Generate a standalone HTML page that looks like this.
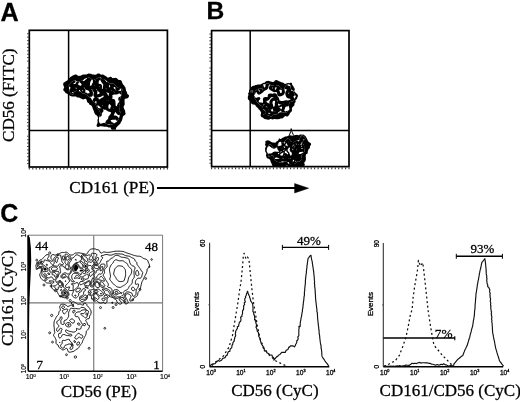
<!DOCTYPE html>
<html><head><meta charset="utf-8"><style>
html,body{margin:0;padding:0;background:#fff;}
svg{display:block;}
text{stroke:#000;stroke-width:0.28px;}
</style></head><body>
<svg width="520" height="402" viewBox="0 0 520 402">
<rect width="520" height="402" fill="#fff"/>
<text x="0.4" y="20.5" style="font-family:'Liberation Sans',Arial,sans-serif;font-size:25.2px;font-weight:bold">A</text>
<text x="206.4" y="19.3" style="font-family:'Liberation Sans',Arial,sans-serif;font-size:24.6px;font-weight:bold">B</text>
<text x="0.2" y="221.9" style="font-family:'Liberation Sans',Arial,sans-serif;font-size:25.0px;font-weight:bold">C</text>
<line x1="28.5" y1="163.6" x2="27.1" y2="163.6" stroke="#333" stroke-width="1.0"/>
<line x1="28.5" y1="160.2" x2="27.1" y2="160.2" stroke="#333" stroke-width="1.0"/>
<line x1="28.5" y1="156.7" x2="27.1" y2="156.7" stroke="#333" stroke-width="1.0"/>
<line x1="28.5" y1="153.3" x2="27.1" y2="153.3" stroke="#333" stroke-width="1.0"/>
<line x1="28.5" y1="149.9" x2="27.1" y2="149.9" stroke="#333" stroke-width="1.0"/>
<line x1="28.5" y1="146.5" x2="27.1" y2="146.5" stroke="#333" stroke-width="1.0"/>
<line x1="28.5" y1="143.1" x2="27.1" y2="143.1" stroke="#333" stroke-width="1.0"/>
<line x1="28.5" y1="139.7" x2="27.1" y2="139.7" stroke="#333" stroke-width="1.0"/>
<line x1="28.5" y1="136.2" x2="27.1" y2="136.2" stroke="#333" stroke-width="1.0"/>
<line x1="28.5" y1="129.4" x2="27.1" y2="129.4" stroke="#333" stroke-width="1.0"/>
<line x1="28.5" y1="126.0" x2="27.1" y2="126.0" stroke="#333" stroke-width="1.0"/>
<line x1="28.5" y1="122.6" x2="27.1" y2="122.6" stroke="#333" stroke-width="1.0"/>
<line x1="28.5" y1="119.2" x2="27.1" y2="119.2" stroke="#333" stroke-width="1.0"/>
<line x1="28.5" y1="115.7" x2="27.1" y2="115.7" stroke="#333" stroke-width="1.0"/>
<line x1="28.5" y1="112.3" x2="27.1" y2="112.3" stroke="#333" stroke-width="1.0"/>
<line x1="28.5" y1="108.9" x2="27.1" y2="108.9" stroke="#333" stroke-width="1.0"/>
<line x1="28.5" y1="105.5" x2="27.1" y2="105.5" stroke="#333" stroke-width="1.0"/>
<line x1="28.5" y1="102.1" x2="27.1" y2="102.1" stroke="#333" stroke-width="1.0"/>
<line x1="28.5" y1="95.2" x2="27.1" y2="95.2" stroke="#333" stroke-width="1.0"/>
<line x1="28.5" y1="91.8" x2="27.1" y2="91.8" stroke="#333" stroke-width="1.0"/>
<line x1="28.5" y1="88.4" x2="27.1" y2="88.4" stroke="#333" stroke-width="1.0"/>
<line x1="28.5" y1="85.0" x2="27.1" y2="85.0" stroke="#333" stroke-width="1.0"/>
<line x1="28.5" y1="81.6" x2="27.1" y2="81.6" stroke="#333" stroke-width="1.0"/>
<line x1="28.5" y1="78.1" x2="27.1" y2="78.1" stroke="#333" stroke-width="1.0"/>
<line x1="28.5" y1="74.7" x2="27.1" y2="74.7" stroke="#333" stroke-width="1.0"/>
<line x1="28.5" y1="71.3" x2="27.1" y2="71.3" stroke="#333" stroke-width="1.0"/>
<line x1="28.5" y1="67.9" x2="27.1" y2="67.9" stroke="#333" stroke-width="1.0"/>
<line x1="28.5" y1="61.1" x2="27.1" y2="61.1" stroke="#333" stroke-width="1.0"/>
<line x1="28.5" y1="57.6" x2="27.1" y2="57.6" stroke="#333" stroke-width="1.0"/>
<line x1="28.5" y1="54.2" x2="27.1" y2="54.2" stroke="#333" stroke-width="1.0"/>
<line x1="28.5" y1="50.8" x2="27.1" y2="50.8" stroke="#333" stroke-width="1.0"/>
<line x1="28.5" y1="47.4" x2="27.1" y2="47.4" stroke="#333" stroke-width="1.0"/>
<line x1="28.5" y1="44.0" x2="27.1" y2="44.0" stroke="#333" stroke-width="1.0"/>
<line x1="28.5" y1="40.6" x2="27.1" y2="40.6" stroke="#333" stroke-width="1.0"/>
<line x1="28.5" y1="37.1" x2="27.1" y2="37.1" stroke="#333" stroke-width="1.0"/>
<line x1="28.5" y1="33.7" x2="27.1" y2="33.7" stroke="#333" stroke-width="1.0"/>
<line x1="29.3" y1="167.8" x2="29.3" y2="169.6" stroke="#333" stroke-width="1.1"/>
<line x1="32.8" y1="167.8" x2="32.8" y2="169.6" stroke="#333" stroke-width="1.1"/>
<line x1="36.2" y1="167.8" x2="36.2" y2="169.6" stroke="#333" stroke-width="1.1"/>
<line x1="39.7" y1="167.8" x2="39.7" y2="169.6" stroke="#333" stroke-width="1.1"/>
<line x1="43.1" y1="167.8" x2="43.1" y2="169.6" stroke="#333" stroke-width="1.1"/>
<line x1="46.6" y1="167.8" x2="46.6" y2="169.6" stroke="#333" stroke-width="1.1"/>
<line x1="50.0" y1="167.8" x2="50.0" y2="169.6" stroke="#333" stroke-width="1.1"/>
<line x1="53.5" y1="167.8" x2="53.5" y2="169.6" stroke="#333" stroke-width="1.1"/>
<line x1="56.9" y1="167.8" x2="56.9" y2="169.6" stroke="#333" stroke-width="1.1"/>
<line x1="60.4" y1="167.8" x2="60.4" y2="169.6" stroke="#333" stroke-width="1.1"/>
<line x1="63.8" y1="167.8" x2="63.8" y2="169.6" stroke="#333" stroke-width="1.1"/>
<line x1="67.3" y1="167.8" x2="67.3" y2="169.6" stroke="#333" stroke-width="1.1"/>
<line x1="70.7" y1="167.8" x2="70.7" y2="169.6" stroke="#333" stroke-width="1.1"/>
<line x1="74.2" y1="167.8" x2="74.2" y2="169.6" stroke="#333" stroke-width="1.1"/>
<line x1="77.6" y1="167.8" x2="77.6" y2="169.6" stroke="#333" stroke-width="1.1"/>
<line x1="81.1" y1="167.8" x2="81.1" y2="169.6" stroke="#333" stroke-width="1.1"/>
<line x1="84.5" y1="167.8" x2="84.5" y2="169.6" stroke="#333" stroke-width="1.1"/>
<line x1="88.0" y1="167.8" x2="88.0" y2="169.6" stroke="#333" stroke-width="1.1"/>
<line x1="91.4" y1="167.8" x2="91.4" y2="169.6" stroke="#333" stroke-width="1.1"/>
<line x1="94.9" y1="167.8" x2="94.9" y2="169.6" stroke="#333" stroke-width="1.1"/>
<line x1="98.3" y1="167.8" x2="98.3" y2="169.6" stroke="#333" stroke-width="1.1"/>
<line x1="101.8" y1="167.8" x2="101.8" y2="169.6" stroke="#333" stroke-width="1.1"/>
<line x1="105.3" y1="167.8" x2="105.3" y2="169.6" stroke="#333" stroke-width="1.1"/>
<line x1="108.7" y1="167.8" x2="108.7" y2="169.6" stroke="#333" stroke-width="1.1"/>
<line x1="112.2" y1="167.8" x2="112.2" y2="169.6" stroke="#333" stroke-width="1.1"/>
<line x1="115.6" y1="167.8" x2="115.6" y2="169.6" stroke="#333" stroke-width="1.1"/>
<line x1="119.1" y1="167.8" x2="119.1" y2="169.6" stroke="#333" stroke-width="1.1"/>
<line x1="122.5" y1="167.8" x2="122.5" y2="169.6" stroke="#333" stroke-width="1.1"/>
<line x1="126.0" y1="167.8" x2="126.0" y2="169.6" stroke="#333" stroke-width="1.1"/>
<line x1="129.4" y1="167.8" x2="129.4" y2="169.6" stroke="#333" stroke-width="1.1"/>
<line x1="132.9" y1="167.8" x2="132.9" y2="169.6" stroke="#333" stroke-width="1.1"/>
<line x1="136.3" y1="167.8" x2="136.3" y2="169.6" stroke="#333" stroke-width="1.1"/>
<line x1="139.8" y1="167.8" x2="139.8" y2="169.6" stroke="#333" stroke-width="1.1"/>
<line x1="143.2" y1="167.8" x2="143.2" y2="169.6" stroke="#333" stroke-width="1.1"/>
<line x1="146.7" y1="167.8" x2="146.7" y2="169.6" stroke="#333" stroke-width="1.1"/>
<line x1="150.1" y1="167.8" x2="150.1" y2="169.6" stroke="#333" stroke-width="1.1"/>
<line x1="153.6" y1="167.8" x2="153.6" y2="169.6" stroke="#333" stroke-width="1.1"/>
<line x1="157.0" y1="167.8" x2="157.0" y2="169.6" stroke="#333" stroke-width="1.1"/>
<line x1="160.5" y1="167.8" x2="160.5" y2="169.6" stroke="#333" stroke-width="1.1"/>
<line x1="163.9" y1="167.8" x2="163.9" y2="169.6" stroke="#333" stroke-width="1.1"/>
<line x1="167.4" y1="167.8" x2="167.4" y2="169.6" stroke="#333" stroke-width="1.1"/>
<rect x="29.3" y="30.3" width="138.1" height="136.7" fill="none" stroke="#000" stroke-width="1.7"/>
<line x1="68.6" y1="30.3" x2="68.6" y2="167.0" stroke="#000" stroke-width="1.5"/>
<line x1="29.3" y1="130.6" x2="167.4" y2="130.6" stroke="#000" stroke-width="1.5"/>
<line x1="210.79999999999998" y1="163.2" x2="209.4" y2="163.2" stroke="#333" stroke-width="1.0"/>
<line x1="210.79999999999998" y1="159.8" x2="209.4" y2="159.8" stroke="#333" stroke-width="1.0"/>
<line x1="210.79999999999998" y1="156.4" x2="209.4" y2="156.4" stroke="#333" stroke-width="1.0"/>
<line x1="210.79999999999998" y1="153.0" x2="209.4" y2="153.0" stroke="#333" stroke-width="1.0"/>
<line x1="210.79999999999998" y1="149.6" x2="209.4" y2="149.6" stroke="#333" stroke-width="1.0"/>
<line x1="210.79999999999998" y1="146.2" x2="209.4" y2="146.2" stroke="#333" stroke-width="1.0"/>
<line x1="210.79999999999998" y1="142.8" x2="209.4" y2="142.8" stroke="#333" stroke-width="1.0"/>
<line x1="210.79999999999998" y1="139.4" x2="209.4" y2="139.4" stroke="#333" stroke-width="1.0"/>
<line x1="210.79999999999998" y1="136.0" x2="209.4" y2="136.0" stroke="#333" stroke-width="1.0"/>
<line x1="210.79999999999998" y1="129.2" x2="209.4" y2="129.2" stroke="#333" stroke-width="1.0"/>
<line x1="210.79999999999998" y1="125.8" x2="209.4" y2="125.8" stroke="#333" stroke-width="1.0"/>
<line x1="210.79999999999998" y1="122.4" x2="209.4" y2="122.4" stroke="#333" stroke-width="1.0"/>
<line x1="210.79999999999998" y1="119.0" x2="209.4" y2="119.0" stroke="#333" stroke-width="1.0"/>
<line x1="210.79999999999998" y1="115.6" x2="209.4" y2="115.6" stroke="#333" stroke-width="1.0"/>
<line x1="210.79999999999998" y1="112.2" x2="209.4" y2="112.2" stroke="#333" stroke-width="1.0"/>
<line x1="210.79999999999998" y1="108.8" x2="209.4" y2="108.8" stroke="#333" stroke-width="1.0"/>
<line x1="210.79999999999998" y1="105.4" x2="209.4" y2="105.4" stroke="#333" stroke-width="1.0"/>
<line x1="210.79999999999998" y1="102.0" x2="209.4" y2="102.0" stroke="#333" stroke-width="1.0"/>
<line x1="210.79999999999998" y1="95.2" x2="209.4" y2="95.2" stroke="#333" stroke-width="1.0"/>
<line x1="210.79999999999998" y1="91.8" x2="209.4" y2="91.8" stroke="#333" stroke-width="1.0"/>
<line x1="210.79999999999998" y1="88.4" x2="209.4" y2="88.4" stroke="#333" stroke-width="1.0"/>
<line x1="210.79999999999998" y1="85.0" x2="209.4" y2="85.0" stroke="#333" stroke-width="1.0"/>
<line x1="210.79999999999998" y1="81.6" x2="209.4" y2="81.6" stroke="#333" stroke-width="1.0"/>
<line x1="210.79999999999998" y1="78.2" x2="209.4" y2="78.2" stroke="#333" stroke-width="1.0"/>
<line x1="210.79999999999998" y1="74.8" x2="209.4" y2="74.8" stroke="#333" stroke-width="1.0"/>
<line x1="210.79999999999998" y1="71.4" x2="209.4" y2="71.4" stroke="#333" stroke-width="1.0"/>
<line x1="210.79999999999998" y1="68.0" x2="209.4" y2="68.0" stroke="#333" stroke-width="1.0"/>
<line x1="210.79999999999998" y1="61.2" x2="209.4" y2="61.2" stroke="#333" stroke-width="1.0"/>
<line x1="210.79999999999998" y1="57.8" x2="209.4" y2="57.8" stroke="#333" stroke-width="1.0"/>
<line x1="210.79999999999998" y1="54.4" x2="209.4" y2="54.4" stroke="#333" stroke-width="1.0"/>
<line x1="210.79999999999998" y1="51.0" x2="209.4" y2="51.0" stroke="#333" stroke-width="1.0"/>
<line x1="210.79999999999998" y1="47.6" x2="209.4" y2="47.6" stroke="#333" stroke-width="1.0"/>
<line x1="210.79999999999998" y1="44.2" x2="209.4" y2="44.2" stroke="#333" stroke-width="1.0"/>
<line x1="210.79999999999998" y1="40.8" x2="209.4" y2="40.8" stroke="#333" stroke-width="1.0"/>
<line x1="210.79999999999998" y1="37.4" x2="209.4" y2="37.4" stroke="#333" stroke-width="1.0"/>
<line x1="210.79999999999998" y1="34.0" x2="209.4" y2="34.0" stroke="#333" stroke-width="1.0"/>
<line x1="211.6" y1="167.4" x2="211.6" y2="169.2" stroke="#333" stroke-width="1.1"/>
<line x1="215.0" y1="167.4" x2="215.0" y2="169.2" stroke="#333" stroke-width="1.1"/>
<line x1="218.5" y1="167.4" x2="218.5" y2="169.2" stroke="#333" stroke-width="1.1"/>
<line x1="221.9" y1="167.4" x2="221.9" y2="169.2" stroke="#333" stroke-width="1.1"/>
<line x1="225.3" y1="167.4" x2="225.3" y2="169.2" stroke="#333" stroke-width="1.1"/>
<line x1="228.8" y1="167.4" x2="228.8" y2="169.2" stroke="#333" stroke-width="1.1"/>
<line x1="232.2" y1="167.4" x2="232.2" y2="169.2" stroke="#333" stroke-width="1.1"/>
<line x1="235.6" y1="167.4" x2="235.6" y2="169.2" stroke="#333" stroke-width="1.1"/>
<line x1="239.1" y1="167.4" x2="239.1" y2="169.2" stroke="#333" stroke-width="1.1"/>
<line x1="242.5" y1="167.4" x2="242.5" y2="169.2" stroke="#333" stroke-width="1.1"/>
<line x1="245.9" y1="167.4" x2="245.9" y2="169.2" stroke="#333" stroke-width="1.1"/>
<line x1="249.4" y1="167.4" x2="249.4" y2="169.2" stroke="#333" stroke-width="1.1"/>
<line x1="252.8" y1="167.4" x2="252.8" y2="169.2" stroke="#333" stroke-width="1.1"/>
<line x1="256.3" y1="167.4" x2="256.3" y2="169.2" stroke="#333" stroke-width="1.1"/>
<line x1="259.7" y1="167.4" x2="259.7" y2="169.2" stroke="#333" stroke-width="1.1"/>
<line x1="263.1" y1="167.4" x2="263.1" y2="169.2" stroke="#333" stroke-width="1.1"/>
<line x1="266.6" y1="167.4" x2="266.6" y2="169.2" stroke="#333" stroke-width="1.1"/>
<line x1="270.0" y1="167.4" x2="270.0" y2="169.2" stroke="#333" stroke-width="1.1"/>
<line x1="273.4" y1="167.4" x2="273.4" y2="169.2" stroke="#333" stroke-width="1.1"/>
<line x1="276.9" y1="167.4" x2="276.9" y2="169.2" stroke="#333" stroke-width="1.1"/>
<line x1="280.3" y1="167.4" x2="280.3" y2="169.2" stroke="#333" stroke-width="1.1"/>
<line x1="283.7" y1="167.4" x2="283.7" y2="169.2" stroke="#333" stroke-width="1.1"/>
<line x1="287.2" y1="167.4" x2="287.2" y2="169.2" stroke="#333" stroke-width="1.1"/>
<line x1="290.6" y1="167.4" x2="290.6" y2="169.2" stroke="#333" stroke-width="1.1"/>
<line x1="294.0" y1="167.4" x2="294.0" y2="169.2" stroke="#333" stroke-width="1.1"/>
<line x1="297.5" y1="167.4" x2="297.5" y2="169.2" stroke="#333" stroke-width="1.1"/>
<line x1="300.9" y1="167.4" x2="300.9" y2="169.2" stroke="#333" stroke-width="1.1"/>
<line x1="304.3" y1="167.4" x2="304.3" y2="169.2" stroke="#333" stroke-width="1.1"/>
<line x1="307.8" y1="167.4" x2="307.8" y2="169.2" stroke="#333" stroke-width="1.1"/>
<line x1="311.2" y1="167.4" x2="311.2" y2="169.2" stroke="#333" stroke-width="1.1"/>
<line x1="314.6" y1="167.4" x2="314.6" y2="169.2" stroke="#333" stroke-width="1.1"/>
<line x1="318.1" y1="167.4" x2="318.1" y2="169.2" stroke="#333" stroke-width="1.1"/>
<line x1="321.5" y1="167.4" x2="321.5" y2="169.2" stroke="#333" stroke-width="1.1"/>
<line x1="325.0" y1="167.4" x2="325.0" y2="169.2" stroke="#333" stroke-width="1.1"/>
<line x1="328.4" y1="167.4" x2="328.4" y2="169.2" stroke="#333" stroke-width="1.1"/>
<line x1="331.8" y1="167.4" x2="331.8" y2="169.2" stroke="#333" stroke-width="1.1"/>
<line x1="335.3" y1="167.4" x2="335.3" y2="169.2" stroke="#333" stroke-width="1.1"/>
<line x1="338.7" y1="167.4" x2="338.7" y2="169.2" stroke="#333" stroke-width="1.1"/>
<line x1="342.1" y1="167.4" x2="342.1" y2="169.2" stroke="#333" stroke-width="1.1"/>
<line x1="345.6" y1="167.4" x2="345.6" y2="169.2" stroke="#333" stroke-width="1.1"/>
<line x1="349.0" y1="167.4" x2="349.0" y2="169.2" stroke="#333" stroke-width="1.1"/>
<rect x="211.6" y="30.6" width="137.4" height="136.0" fill="none" stroke="#000" stroke-width="1.7"/>
<line x1="250.2" y1="30.6" x2="250.2" y2="166.6" stroke="#000" stroke-width="1.5"/>
<line x1="211.6" y1="130.6" x2="349.0" y2="130.6" stroke="#000" stroke-width="1.5"/>
<path d="M115.6 129.8 114.8 129.8 114.0 129.7 113.2 129.7 112.4 129.8 111.8 129.6 111.2 129.2 110.9 128.8 110.8 128.0 110.6 127.6 110.0 127.4 109.4 127.6 108.8 127.6 108.4 127.4 107.6 127.1 106.8 126.8 106.0 126.7 105.2 126.7 104.4 126.7 103.6 126.6 102.8 126.4 102.0 126.3 101.2 126.2 100.4 126.2 99.8 126.4 99.2 126.6 98.4 126.9 97.6 126.9 97.2 126.7 96.8 126.3 96.5 125.6 96.7 124.8 97.1 124.0 97.4 123.2 97.5 122.4 97.6 121.8 97.5 120.8 97.4 120.0 97.6 119.4 97.9 118.8 98.0 118.0 97.8 117.2 97.6 116.6 97.2 116.0 96.8 115.6 96.4 115.3 96.0 115.1 95.6 114.8 95.2 114.5 94.9 114.0 94.6 113.2 94.2 112.4 94.0 111.8 93.9 111.2 93.6 110.4 93.3 110.0 93.1 109.6 92.8 108.8 92.5 108.0 92.3 107.2 92.1 106.4 91.7 106.0 91.2 105.6 90.8 105.3 90.4 105.1 89.7 104.8 89.3 104.4 89.1 104.0 88.8 103.3 88.4 102.9 87.6 102.5 87.2 102.1 87.0 101.6 86.8 100.8 86.7 100.0 86.4 99.4 86.0 99.0 85.2 98.7 84.4 99.0 84.0 99.3 83.2 99.5 82.6 99.2 82.0 98.9 81.2 98.6 80.7 98.4 80.0 98.0 79.6 97.8 78.9 97.6 78.0 97.6 77.2 97.4 76.8 97.2 76.4 96.8 76.0 96.6 75.2 96.4 74.4 96.5 73.6 96.5 72.8 96.5 72.0 96.4 71.2 96.3 70.6 96.0 70.0 95.7 69.6 95.5 69.2 95.3 68.8 95.0 68.4 94.7 68.0 94.4 67.6 94.0 67.2 93.8 66.6 93.6 66.0 93.3 65.6 92.9 65.2 92.4 64.9 92.0 64.6 91.6 64.0 91.2 63.6 90.8 63.4 90.4 63.3 89.6 63.5 88.8 63.9 88.0 64.2 87.2 64.0 86.6 63.6 86.0 63.3 85.2 63.2 84.4 63.2 83.6 63.5 82.8 64.0 82.4 64.4 82.2 64.8 82.0 65.2 81.7 65.6 81.4 66.0 81.1 66.4 80.9 67.2 80.5 67.6 80.3 68.0 79.6 68.2 78.8 68.5 78.4 69.1 78.0 69.6 77.7 70.0 77.4 70.4 77.0 70.8 76.8 71.2 76.6 71.6 76.3 72.0 76.1 72.4 75.8 72.8 75.5 73.5 75.2 74.0 75.0 74.5 74.8 75.2 74.6 76.0 74.5 76.8 74.8 77.2 75.0 77.6 75.4 78.0 75.7 78.8 76.0 79.6 75.8 80.4 75.7 81.0 75.6 81.6 75.2 82.0 74.9 82.4 74.7 83.2 74.6 84.0 74.5 84.8 74.5 85.6 74.6 86.4 74.5 87.2 74.1 87.6 73.9 88.4 73.6 89.2 73.6 90.0 73.7 90.8 73.8 91.6 74.0 92.0 74.2 92.4 74.4 93.2 74.6 94.0 74.6 94.8 74.7 95.6 74.8 96.4 74.5 96.8 74.0 97.2 73.7 98.0 73.6 98.8 73.6 99.6 73.7 100.2 74.0 100.6 74.4 101.2 74.7 102.0 74.6 102.8 74.6 103.4 74.8 104.0 75.1 104.4 75.4 104.8 75.6 105.2 75.8 105.6 76.1 106.0 76.3 106.4 76.6 106.8 77.0 107.2 77.4 108.0 77.6 108.8 77.4 109.6 77.0 110.3 76.8 110.8 76.7 111.6 77.2 111.9 77.6 112.3 78.0 112.8 78.2 113.6 78.1 114.1 78.0 114.8 77.9 115.6 77.8 116.4 78.0 117.1 78.4 117.5 78.8 117.8 79.2 118.2 79.6 118.7 80.0 119.6 80.0 120.4 80.1 121.1 80.4 121.5 80.8 121.8 81.6 122.0 82.3 122.3 82.8 122.5 83.2 122.8 84.0 123.2 84.8 123.6 85.1 124.0 85.3 124.4 86.0 124.6 86.4 124.9 86.8 125.2 87.2 125.5 87.6 125.6 88.1 125.7 88.8 125.8 89.6 126.0 90.4 126.4 91.2 126.6 91.6 126.8 92.1 127.1 92.8 127.2 93.6 127.6 94.3 128.4 94.7 128.8 95.1 129.0 95.6 128.9 96.4 128.8 96.9 128.4 97.6 128.0 97.9 127.6 98.2 126.8 98.4 126.0 98.5 125.3 98.8 124.8 99.2 124.6 99.6 124.5 100.4 124.6 101.2 124.6 102.0 124.6 102.8 124.7 103.6 124.7 104.4 124.4 105.2 124.2 105.6 123.9 106.0 123.6 106.8 123.7 107.6 124.0 108.4 124.3 109.2 124.5 109.6 124.8 110.0 125.0 110.4 125.2 111.2 125.2 112.0 125.4 112.8 125.6 113.5 125.4 114.4 125.0 114.8 124.5 115.2 124.0 115.4 123.6 115.7 123.2 116.2 122.9 116.8 122.8 117.3 122.6 118.0 122.5 118.8 122.2 119.6 122.0 120.2 121.8 120.8 121.6 121.2 121.3 121.6 121.0 122.0 120.8 122.4 120.5 123.2 120.3 123.6 119.9 124.0 119.6 124.3 119.2 124.7 118.8 125.1 118.4 125.5 118.0 125.8 117.6 126.2 117.2 126.6 116.8 127.0 116.4 127.5 116.1 128.0 116.0 128.8 115.9 129.6Z" fill="#000"/><clipPath id="clip3"><path d="M112.0 124.4 111.2 124.6 110.4 124.7 109.6 124.7 108.8 124.7 108.0 124.6 107.4 124.4 106.8 124.1 106.4 123.9 106.0 123.6 105.6 123.4 105.2 123.2 104.8 122.9 104.0 122.7 103.2 123.1 102.4 123.3 101.6 123.5 100.8 123.7 100.3 123.6 99.8 123.2 99.5 122.8 99.2 122.0 98.9 121.2 98.9 120.4 99.0 119.6 98.9 118.8 98.9 118.0 99.1 117.2 99.3 116.8 99.6 116.1 99.8 115.6 100.0 114.8 100.2 114.0 100.3 113.2 100.1 112.4 99.8 111.6 99.6 111.2 99.4 110.8 99.1 110.4 98.8 110.0 98.5 109.6 98.0 109.2 97.6 108.9 97.2 108.4 97.0 108.0 96.8 107.2 96.5 106.4 96.2 105.6 96.0 104.9 95.7 104.4 95.5 104.0 95.2 103.6 95.0 103.2 94.7 102.8 94.4 102.4 94.1 102.0 93.7 101.6 93.2 101.2 92.8 100.9 92.4 100.6 92.0 100.1 91.7 99.6 91.5 99.2 91.2 98.6 90.9 98.0 90.4 97.6 90.0 97.4 89.6 97.2 89.2 97.0 88.8 96.7 88.4 96.4 88.0 96.1 87.6 95.7 87.2 95.3 86.8 95.0 86.4 94.7 86.0 94.5 85.6 94.2 85.2 93.9 84.8 93.6 84.4 93.4 83.6 93.4 82.8 93.4 82.0 93.0 81.6 92.7 81.2 92.3 80.8 92.0 80.4 91.8 80.0 91.6 79.2 91.3 78.4 91.0 77.6 90.9 76.8 90.8 76.0 91.0 75.4 91.2 74.8 91.5 74.4 91.7 74.0 92.2 73.8 92.8 73.7 93.6 73.2 94.3 72.8 94.6 72.0 94.6 71.6 94.3 71.3 94.0 71.0 93.6 70.6 93.2 70.4 92.8 70.2 92.4 69.9 92.0 69.6 91.2 69.4 90.4 69.2 89.9 69.0 89.2 69.0 88.4 69.1 87.6 68.9 86.8 68.7 86.0 68.8 85.3 69.1 84.8 69.5 84.4 69.8 84.0 70.1 83.6 70.4 83.2 70.7 82.8 71.0 82.4 71.5 82.0 72.0 81.6 72.4 81.4 72.8 81.2 73.2 80.9 74.0 80.6 74.8 80.5 75.6 80.6 76.1 80.8 76.7 81.2 77.2 81.5 78.0 81.8 78.8 81.7 79.5 81.6 80.0 81.3 80.4 81.1 81.2 80.9 81.8 80.8 82.4 80.5 82.8 80.3 83.2 80.1 83.6 79.7 84.0 79.3 84.4 79.0 84.8 78.7 85.2 78.5 85.6 78.2 86.4 78.0 87.2 77.9 88.0 77.8 88.8 77.6 89.6 77.7 90.2 78.0 90.8 78.4 91.2 78.8 91.6 79.2 92.0 79.5 92.4 79.8 93.2 79.9 94.0 79.9 94.7 79.6 95.2 79.3 95.6 79.1 96.4 78.8 97.2 78.4 97.6 78.0 98.0 77.6 98.4 77.3 99.2 77.1 100.0 77.4 100.8 77.6 101.2 77.8 101.6 78.3 101.8 78.8 102.0 79.6 102.3 80.0 102.8 80.1 103.6 79.9 104.0 79.6 104.8 79.5 105.2 79.7 105.6 80.0 106.0 80.4 106.4 80.7 106.8 81.0 107.2 81.4 107.6 81.9 108.0 82.4 108.4 82.6 108.9 82.8 109.6 83.2 110.4 83.4 111.2 83.5 112.0 83.5 112.8 83.5 113.3 83.6 113.9 84.0 114.2 84.4 114.5 84.8 114.9 85.2 115.4 85.6 115.8 86.0 116.2 86.4 116.6 86.8 117.0 87.2 117.5 87.6 118.0 87.8 118.7 88.0 119.2 88.1 120.0 88.3 120.8 88.4 121.6 88.7 122.0 89.0 122.4 89.5 122.3 90.4 122.0 91.1 121.8 91.6 121.6 92.0 121.3 92.8 121.3 93.6 121.4 94.4 121.3 95.2 121.1 96.0 120.8 96.7 120.6 97.2 120.4 97.8 120.2 98.4 120.0 99.2 119.8 100.0 119.6 100.8 119.3 101.6 119.0 102.4 119.0 103.2 119.2 103.8 119.5 104.4 119.7 104.8 119.9 105.6 119.9 106.4 119.8 107.2 119.8 108.0 119.7 108.8 119.7 109.6 119.8 110.4 120.0 111.0 120.2 111.6 120.3 112.4 120.2 113.2 120.0 113.8 119.9 114.4 119.8 115.2 119.7 116.0 119.4 116.8 119.2 117.6 119.0 118.4 118.8 118.8 118.4 119.6 118.1 120.0 117.8 120.4 117.5 120.8 117.2 121.2 116.9 121.6 116.5 122.0 116.0 122.3 115.6 122.6 115.2 122.8 114.4 123.2 114.0 123.4 113.6 123.8 113.2 124.0 112.4 124.3Z"/></clipPath><path d="M112.0 124.4 111.2 124.6 110.4 124.7 109.6 124.7 108.8 124.7 108.0 124.6 107.4 124.4 106.8 124.1 106.4 123.9 106.0 123.6 105.6 123.4 105.2 123.2 104.8 122.9 104.0 122.7 103.2 123.1 102.4 123.3 101.6 123.5 100.8 123.7 100.3 123.6 99.8 123.2 99.5 122.8 99.2 122.0 98.9 121.2 98.9 120.4 99.0 119.6 98.9 118.8 98.9 118.0 99.1 117.2 99.3 116.8 99.6 116.1 99.8 115.6 100.0 114.8 100.2 114.0 100.3 113.2 100.1 112.4 99.8 111.6 99.6 111.2 99.4 110.8 99.1 110.4 98.8 110.0 98.5 109.6 98.0 109.2 97.6 108.9 97.2 108.4 97.0 108.0 96.8 107.2 96.5 106.4 96.2 105.6 96.0 104.9 95.7 104.4 95.5 104.0 95.2 103.6 95.0 103.2 94.7 102.8 94.4 102.4 94.1 102.0 93.7 101.6 93.2 101.2 92.8 100.9 92.4 100.6 92.0 100.1 91.7 99.6 91.5 99.2 91.2 98.6 90.9 98.0 90.4 97.6 90.0 97.4 89.6 97.2 89.2 97.0 88.8 96.7 88.4 96.4 88.0 96.1 87.6 95.7 87.2 95.3 86.8 95.0 86.4 94.7 86.0 94.5 85.6 94.2 85.2 93.9 84.8 93.6 84.4 93.4 83.6 93.4 82.8 93.4 82.0 93.0 81.6 92.7 81.2 92.3 80.8 92.0 80.4 91.8 80.0 91.6 79.2 91.3 78.4 91.0 77.6 90.9 76.8 90.8 76.0 91.0 75.4 91.2 74.8 91.5 74.4 91.7 74.0 92.2 73.8 92.8 73.7 93.6 73.2 94.3 72.8 94.6 72.0 94.6 71.6 94.3 71.3 94.0 71.0 93.6 70.6 93.2 70.4 92.8 70.2 92.4 69.9 92.0 69.6 91.2 69.4 90.4 69.2 89.9 69.0 89.2 69.0 88.4 69.1 87.6 68.9 86.8 68.7 86.0 68.8 85.3 69.1 84.8 69.5 84.4 69.8 84.0 70.1 83.6 70.4 83.2 70.7 82.8 71.0 82.4 71.5 82.0 72.0 81.6 72.4 81.4 72.8 81.2 73.2 80.9 74.0 80.6 74.8 80.5 75.6 80.6 76.1 80.8 76.7 81.2 77.2 81.5 78.0 81.8 78.8 81.7 79.5 81.6 80.0 81.3 80.4 81.1 81.2 80.9 81.8 80.8 82.4 80.5 82.8 80.3 83.2 80.1 83.6 79.7 84.0 79.3 84.4 79.0 84.8 78.7 85.2 78.5 85.6 78.2 86.4 78.0 87.2 77.9 88.0 77.8 88.8 77.6 89.6 77.7 90.2 78.0 90.8 78.4 91.2 78.8 91.6 79.2 92.0 79.5 92.4 79.8 93.2 79.9 94.0 79.9 94.7 79.6 95.2 79.3 95.6 79.1 96.4 78.8 97.2 78.4 97.6 78.0 98.0 77.6 98.4 77.3 99.2 77.1 100.0 77.4 100.8 77.6 101.2 77.8 101.6 78.3 101.8 78.8 102.0 79.6 102.3 80.0 102.8 80.1 103.6 79.9 104.0 79.6 104.8 79.5 105.2 79.7 105.6 80.0 106.0 80.4 106.4 80.7 106.8 81.0 107.2 81.4 107.6 81.9 108.0 82.4 108.4 82.6 108.9 82.8 109.6 83.2 110.4 83.4 111.2 83.5 112.0 83.5 112.8 83.5 113.3 83.6 113.9 84.0 114.2 84.4 114.5 84.8 114.9 85.2 115.4 85.6 115.8 86.0 116.2 86.4 116.6 86.8 117.0 87.2 117.5 87.6 118.0 87.8 118.7 88.0 119.2 88.1 120.0 88.3 120.8 88.4 121.6 88.7 122.0 89.0 122.4 89.5 122.3 90.4 122.0 91.1 121.8 91.6 121.6 92.0 121.3 92.8 121.3 93.6 121.4 94.4 121.3 95.2 121.1 96.0 120.8 96.7 120.6 97.2 120.4 97.8 120.2 98.4 120.0 99.2 119.8 100.0 119.6 100.8 119.3 101.6 119.0 102.4 119.0 103.2 119.2 103.8 119.5 104.4 119.7 104.8 119.9 105.6 119.9 106.4 119.8 107.2 119.8 108.0 119.7 108.8 119.7 109.6 119.8 110.4 120.0 111.0 120.2 111.6 120.3 112.4 120.2 113.2 120.0 113.8 119.9 114.4 119.8 115.2 119.7 116.0 119.4 116.8 119.2 117.6 119.0 118.4 118.8 118.8 118.4 119.6 118.1 120.0 117.8 120.4 117.5 120.8 117.2 121.2 116.9 121.6 116.5 122.0 116.0 122.3 115.6 122.6 115.2 122.8 114.4 123.2 114.0 123.4 113.6 123.8 113.2 124.0 112.4 124.3Z" fill="#fff"/><g clip-path="url(#clip3)"><path d="M97.7 76.4 98.0 76.8 98.3 77.2 98.6 77.6 98.9 78.0 99.1 78.4 99.0 79.2 98.7 79.6 98.3 80.0 98.0 80.3 97.8 80.8 97.6 81.4 97.5 82.0 97.5 82.8 97.6 83.6 97.7 84.4 98.0 84.8 98.8 85.0 99.6 85.1 100.2 85.2 100.7 85.6 100.9 86.0 100.9 86.8 100.8 87.4 100.6 88.0 100.7 88.8 100.9 89.2 101.3 89.6 101.6 90.0 102.0 90.3 102.4 90.5 103.2 90.1 103.5 89.6 103.8 88.8 103.9 88.0 104.0 87.2 104.2 86.4 104.3 85.6 104.4 84.8 104.2 84.0 103.9 83.6 103.6 83.2 103.3 82.8 102.9 82.4 102.7 82.0 102.5 81.6 102.2 81.2 102.0 80.8 101.8 80.4 101.6 80.0 101.4 79.2 101.6 78.7 102.0 78.3 102.4 78.1 103.2 77.7 M74.2 79.2 74.8 79.3 75.4 79.2 M81.5 86.4 82.0 86.0 82.4 85.6 82.6 85.2 82.8 84.4 82.5 83.6 82.2 83.2 81.9 82.8 81.6 82.5 81.2 82.1 80.8 81.7 80.4 81.4 80.0 81.2 79.2 80.9 78.4 81.2 78.1 81.6 77.9 82.0 77.6 82.4 77.4 82.8 77.1 83.2 76.8 83.6 76.6 84.0 76.6 84.8 76.9 85.2 77.4 85.6 78.0 85.9 78.4 86.1 78.8 86.4 79.6 86.7 80.4 86.8 81.2 86.6Z M67.2 84.9 67.8 84.8 68.4 84.6 69.2 84.4 70.0 84.3 70.7 84.4 71.6 84.5 72.1 84.4 72.4 84.0 72.0 83.3 71.6 83.0 71.2 82.7 70.8 82.5 70.0 82.2 M87.8 87.2 87.9 86.4 87.8 85.6 87.7 84.8 87.7 84.0 87.8 83.2 87.7 82.4 87.2 82.1 86.8 82.4 86.4 82.8 86.2 83.2 85.9 84.0 85.9 84.8 86.2 85.6 86.6 86.4 86.9 86.8 87.2 87.1 87.8 87.2Z M110.0 88.4 110.4 88.1 110.8 87.8 111.2 87.2 111.3 86.4 111.2 85.6 111.1 84.8 110.8 84.0 110.5 83.6 110.0 83.2 109.2 83.4 108.8 83.9 108.5 84.4 108.2 85.2 108.0 85.8 107.9 86.4 108.0 87.2 108.3 88.0 108.6 88.4 109.2 88.6 110.0 88.4Z M114.6 83.2 114.5 84.0 114.7 84.8 115.2 85.1 116.0 85.4 116.8 85.6 117.2 85.9 M117.3 86.0 117.5 86.8 117.4 87.6 117.6 88.4 117.9 88.8 118.4 89.0 119.0 88.8 119.4 88.4 119.8 88.0 120.4 87.6 121.2 87.7 121.5 88.0 121.8 88.4 122.1 88.8 122.4 89.2 122.8 89.5 123.6 89.8 M92.8 102.4 93.2 101.6 93.6 100.8 94.0 100.0 94.2 99.6 94.4 99.2 94.7 98.8 95.2 98.4 96.0 98.2 96.8 98.6 97.2 98.8 97.6 99.1 98.0 99.5 98.4 100.0 98.7 100.8 98.8 101.6 99.1 102.4 99.6 102.7 100.0 102.4 100.1 101.6 100.3 100.8 100.7 100.0 101.1 99.6 101.6 99.2 102.0 99.0 102.8 98.7 103.6 98.4 104.0 98.1 104.4 97.6 104.7 96.8 104.8 96.0 104.6 95.2 104.3 94.8 103.7 94.4 102.8 94.4 102.0 94.8 101.6 95.0 101.2 95.3 100.8 95.5 100.0 95.8 99.4 96.0 98.8 96.2 98.0 96.3 97.2 96.4 96.4 96.5 95.6 96.5 95.2 96.2 94.8 95.8 94.6 95.2 94.6 94.4 94.8 93.6 95.0 92.8 94.9 92.0 94.7 91.6 94.4 91.2 94.1 90.8 93.8 90.4 93.6 90.0 93.3 89.2 93.2 88.6 93.0 88.0 92.4 87.7 91.6 87.8 91.0 88.0 90.5 88.4 90.3 89.2 90.6 90.0 90.9 90.4 91.1 90.8 91.3 91.2 91.6 92.0 91.8 92.8 91.8 93.6 91.8 94.4 91.6 95.2 91.2 95.6 90.4 95.7 89.6 95.7 88.8 96.0 88.4 96.3 88.2 96.8 88.1 97.6 M123.2 94.8 122.8 94.5 122.4 94.2 122.0 93.9 121.6 93.7 121.2 93.4 120.8 93.0 120.4 92.6 120.0 92.3 119.6 92.0 118.8 92.2 118.4 92.4 118.0 92.7 117.6 92.9 117.2 93.2 116.4 93.4 115.6 93.4 114.8 93.2 114.0 93.3 113.3 93.6 112.8 93.8 112.3 94.0 111.6 94.4 111.3 94.8 111.1 95.6 111.2 96.4 111.4 97.2 111.2 97.7 110.8 98.1 110.4 98.4 110.0 98.7 109.6 99.2 110.0 99.5 110.8 99.6 111.6 99.7 112.4 99.8 113.1 100.0 113.6 100.2 114.0 100.6 114.2 101.2 114.3 102.0 114.4 102.8 114.4 103.6 114.4 104.4 114.5 105.2 114.7 106.0 115.0 106.4 115.4 106.8 116.0 107.1 116.8 107.3 117.6 107.2 118.0 106.9 118.2 106.4 118.4 105.6 118.5 104.8 118.8 104.1 119.1 103.6 119.5 103.2 119.9 102.8 120.1 102.4 120.3 101.6 120.0 100.8 119.7 100.0 119.4 99.2 119.5 98.4 119.9 98.0 120.4 97.7 121.2 97.4 122.0 97.2 M70.8 94.8 70.6 94.4 70.3 94.0 70.1 93.6 69.8 93.2 69.4 92.8 68.8 92.5 M74.4 94.8 73.6 95.0 72.8 95.1 72.1 95.2 71.6 95.4 M110.6 109.6 111.0 109.2 111.4 108.4 111.6 107.6 111.9 106.8 112.0 106.3 112.0 105.6 111.8 104.8 111.5 104.4 111.2 104.1 110.8 103.7 110.4 103.4 110.0 103.2 109.2 102.8 108.4 103.0 108.0 103.4 107.8 104.0 107.6 104.5 107.4 105.2 107.3 106.0 107.2 106.8 107.3 107.6 107.6 108.4 107.8 108.8 108.2 109.2 108.8 109.5 109.6 109.8 110.4 109.7Z M122.0 112.7 121.2 113.0 120.8 113.3 120.4 113.6 120.0 113.8 119.2 114.0 118.4 113.7 118.0 113.5 117.6 113.1 117.2 112.6 116.8 112.1 116.5 111.6 116.2 111.2 115.9 110.8 115.3 110.4 114.8 110.3 114.1 110.8 113.9 111.6 113.8 112.4 113.6 113.0 113.3 113.6 113.1 114.0 112.9 114.4 112.6 115.2 112.5 116.0 112.8 116.4 113.6 116.6 114.4 116.6 115.2 116.7 115.8 116.8 116.4 117.2 116.8 117.5 117.2 118.0 117.5 118.4 117.9 118.8 118.3 119.2 118.7 119.6 119.2 119.9 119.6 120.1 M110.9 126.4 111.1 126.0 111.3 125.2 111.0 124.4 110.7 124.0 110.3 123.6 109.8 123.2 109.3 122.8 108.8 122.5 108.0 122.7 107.6 123.2 107.3 124.0 107.3 124.8 107.5 125.6 107.8 126.0 108.1 126.4 M88.2 76.0 88.5 76.4 88.8 77.2 88.9 78.0 89.0 78.8 89.2 79.4 89.6 79.2 90.0 78.9 90.4 78.5 90.7 78.0 91.0 77.6 M96.9 76.8 97.2 77.1 97.5 77.6 97.8 78.4 97.6 79.1 97.3 79.6 97.0 80.0 96.9 80.8 96.9 81.6 97.0 82.4 96.9 83.2 96.7 84.0 96.5 84.4 96.0 84.8 95.2 84.5 94.8 84.3 94.0 84.3 93.6 84.8 93.3 85.6 92.8 86.4 92.4 86.8 92.0 87.0 91.2 87.3 90.4 87.6 89.6 87.6 89.2 87.4 88.9 86.8 88.6 86.0 88.4 85.2 88.4 84.4 88.4 83.8 88.5 83.2 88.6 82.4 88.7 81.6 88.7 80.8 88.4 80.3 87.6 80.7 87.2 80.9 86.8 81.1 86.4 81.5 86.0 81.9 85.6 82.4 85.3 82.8 85.0 83.2 84.8 83.6 84.5 84.0 84.7 84.8 85.0 85.2 85.2 85.6 85.5 86.0 85.7 86.4 86.0 86.8 86.2 87.2 86.5 87.6 86.8 88.0 87.2 88.3 88.0 88.5 88.8 88.6 89.2 88.8 89.6 89.2 89.8 89.6 90.1 90.0 90.3 90.4 90.6 90.8 90.8 91.2 91.1 92.0 91.2 92.6 91.2 93.2 91.1 94.0 90.8 94.5 90.4 94.8 89.6 95.0 88.8 95.2 88.0 95.6 87.7 96.0 87.5 96.4 87.2 97.2 M104.4 78.0 105.2 77.8 M95.1 106.8 95.1 106.0 94.8 105.2 94.6 104.8 94.3 104.4 94.0 104.0 93.7 103.6 93.5 102.8 93.5 102.0 93.8 101.2 94.0 100.8 94.4 100.1 94.8 99.6 95.2 99.2 96.0 99.1 96.5 99.2 97.2 99.6 97.6 100.0 97.8 100.4 98.0 101.0 98.1 101.6 98.2 102.4 98.4 103.2 98.8 103.6 99.2 103.8 99.7 104.0 100.4 104.4 100.8 104.8 101.0 105.2 101.2 105.6 101.5 106.0 101.9 106.4 102.4 106.7 103.2 107.0 104.0 107.1 104.7 106.8 105.1 106.4 104.9 105.6 104.6 105.2 104.1 104.8 103.6 104.4 103.2 104.2 102.8 104.0 102.0 103.6 101.6 103.3 101.3 102.8 101.2 102.3 101.1 101.6 101.3 100.8 101.6 100.4 102.0 100.1 102.8 100.1 103.6 100.4 104.4 100.5 105.2 100.1 105.6 99.6 105.8 98.8 105.9 98.0 105.9 97.2 105.9 96.4 105.9 95.6 105.6 94.8 105.3 94.4 104.9 94.0 104.5 93.6 104.2 93.2 104.0 92.8 103.8 92.0 104.0 91.2 104.3 90.4 104.5 89.6 104.7 88.8 104.8 88.0 104.9 87.2 105.0 86.4 105.2 85.8 105.4 85.2 105.4 84.4 105.2 83.9 104.8 83.2 104.5 82.8 104.2 82.4 103.9 82.0 103.6 81.6 103.3 81.2 103.1 80.8 102.9 80.4 102.6 79.6 102.8 78.8 103.2 78.5 103.6 78.2 104.3 78.0 M73.0 79.6 73.4 80.0 73.9 80.4 74.2 80.8 74.3 81.6 74.0 81.9 73.6 82.2 72.8 82.2 72.1 82.0 71.6 81.7 71.2 81.5 70.8 81.2 M66.8 85.6 67.6 85.4 68.3 85.2 69.2 85.0 70.0 85.0 70.6 85.2 71.2 85.5 71.6 85.8 72.0 86.0 72.4 86.3 73.1 86.0 73.6 85.6 74.0 85.3 74.8 85.2 75.6 85.4 76.0 85.7 76.7 86.0 77.2 86.2 77.6 86.4 78.0 86.7 78.4 86.9 78.8 87.2 79.2 87.4 80.0 87.6 80.8 87.5 81.5 87.2 82.0 86.9 82.4 86.5 82.8 86.1 83.2 85.6 83.5 85.2 83.8 84.8 83.8 84.0 83.5 83.6 83.1 83.2 82.7 82.8 82.3 82.4 82.0 82.1 81.6 81.7 81.2 81.2 80.8 80.8 80.4 80.4 80.1 80.0 M109.4 90.4 109.9 90.0 110.3 89.6 110.8 89.3 111.6 88.9 112.4 88.4 112.6 87.6 112.7 86.8 112.7 86.0 112.5 85.2 112.2 84.8 112.0 84.4 111.7 84.0 111.5 83.6 111.2 83.2 110.9 82.8 110.6 82.4 110.4 82.0 110.0 81.6 109.3 82.0 108.9 82.4 108.6 82.8 108.3 83.2 108.1 83.6 107.8 84.0 107.6 84.4 107.3 84.8 107.0 85.6 106.9 86.4 107.0 87.2 107.2 87.8 107.4 88.4 107.6 89.2 107.8 90.0 108.2 90.4 108.8 90.6 109.4 90.4Z M113.8 82.4 113.8 83.2 113.6 84.0 113.4 84.8 113.6 85.5 114.0 85.8 114.8 86.0 115.6 86.2 116.3 86.8 116.5 87.6 116.5 88.4 116.7 89.2 117.0 89.6 117.3 90.0 117.5 90.4 117.4 91.2 117.0 91.6 116.4 91.8 115.7 91.6 115.2 91.2 114.8 90.8 114.5 90.4 114.2 90.0 113.6 89.6 112.9 90.0 112.7 90.8 112.6 91.6 112.5 92.4 112.2 92.8 111.7 93.2 111.2 93.6 110.9 94.0 110.6 94.4 110.4 95.2 110.3 96.0 110.1 96.8 109.9 97.2 109.5 97.6 108.8 98.0 108.4 98.2 108.0 98.5 107.6 98.8 107.3 99.2 107.3 100.0 107.5 100.8 107.7 101.6 107.5 102.4 107.2 103.2 107.0 104.0 106.8 104.7 106.6 105.2 106.4 105.8 106.2 106.4 106.4 107.0 106.6 107.6 106.8 108.1 107.2 108.7 107.6 109.2 108.0 109.5 108.4 109.8 108.8 110.0 109.6 110.2 110.4 110.3 111.2 110.2 111.6 110.0 111.9 109.6 112.0 109.0 112.1 108.4 112.4 107.6 112.7 106.8 113.0 106.4 113.2 105.8 113.6 106.0 113.9 106.4 114.3 106.8 114.7 107.2 115.2 107.6 115.6 107.9 116.0 108.2 116.6 108.4 117.2 108.7 117.6 108.9 118.3 109.2 119.2 108.9 119.5 108.4 119.4 107.6 119.2 107.0 119.0 106.4 119.0 105.6 119.2 104.8 119.4 104.4 119.8 104.0 120.4 103.7 M98.8 95.6 98.0 95.7 97.2 95.8 96.4 95.7 95.6 95.3 95.3 94.8 95.3 94.0 95.5 93.2 95.6 92.6 95.6 92.0 95.2 91.2 94.9 90.8 94.5 90.4 94.2 90.0 94.0 89.4 93.9 88.8 94.1 88.0 94.4 87.6 94.8 87.2 95.2 86.8 95.6 86.5 96.4 86.3 97.2 86.5 97.9 86.8 98.4 87.2 98.6 87.6 98.7 88.4 99.1 89.2 99.5 89.6 100.0 90.0 100.4 90.3 100.8 90.7 101.2 91.1 101.5 91.6 101.7 92.0 101.9 92.8 101.8 93.6 101.6 94.0 101.2 94.4 100.8 94.7 100.4 95.0 100.0 95.2 99.2 95.5Z M72.9 90.0 73.6 89.7 73.7 89.2 73.6 88.7 73.2 88.1 72.8 87.8 72.4 88.1 72.0 88.8 71.8 89.6 72.2 90.0 72.8 90.0Z M77.6 92.8 77.4 92.0 77.2 91.2 76.9 90.8 76.4 90.6 75.6 90.6 75.3 91.2 75.4 92.0 75.3 92.8 74.9 93.6 74.5 94.0 74.0 94.2 73.2 94.4 72.4 94.5 71.8 94.4 71.2 94.1 70.8 93.7 70.5 93.2 70.2 92.8 69.9 92.4 69.6 92.1 68.8 91.9 68.0 92.0 M123.2 93.8 122.8 93.5 122.4 93.2 122.0 92.8 121.8 92.4 121.6 91.6 122.0 91.1 122.8 90.9 123.4 90.8 M84.7 95.2 84.5 94.8 84.0 94.5 83.2 94.3 82.4 94.6 M121.2 100.7 120.8 100.0 120.7 99.2 121.0 98.8 121.5 98.4 122.0 98.2 M113.2 105.5 112.8 105.0 112.4 104.5 112.0 104.1 111.6 103.7 111.2 103.3 110.8 103.0 110.4 102.7 110.0 102.3 109.7 102.0 109.4 101.6 109.6 101.2 110.0 100.9 110.8 100.7 111.6 100.7 112.3 100.8 112.8 101.0 113.2 101.3 113.5 101.6 113.7 102.4 113.8 103.2 113.8 104.0 113.6 104.8 113.4 105.2Z M122.0 112.1 121.3 112.4 120.8 112.7 120.4 112.9 120.0 113.2 119.2 113.4 118.6 113.2 118.0 112.8 117.7 112.4 117.4 112.0 117.2 111.4 117.0 110.8 116.8 110.1 116.4 109.6 116.0 109.4 115.4 109.2 114.8 109.2 114.0 109.4 113.6 109.6 113.2 109.9 112.9 110.4 113.0 111.2 113.1 112.0 113.0 112.8 112.8 113.3 112.5 114.0 112.3 114.4 112.0 114.8 111.8 115.2 111.6 115.6 111.4 116.0 111.2 116.4 110.9 117.2 111.6 117.5 112.4 117.5 113.2 117.6 114.0 117.5 114.8 117.4 115.6 117.4 116.0 117.6 116.4 117.9 116.8 118.3 117.2 118.7 117.6 119.2 117.9 119.6 118.3 120.0 118.6 120.4 119.0 120.8 M98.0 115.7 98.4 115.4 98.8 115.1 99.1 114.8 99.4 114.4 99.6 113.6 99.8 112.8 100.0 112.3 100.3 111.6 100.2 110.8 99.6 110.7 99.2 110.9 98.8 111.5 98.5 112.0 M111.9 126.0 112.2 125.2 112.0 124.4 111.6 124.0 111.2 123.7 110.8 123.3 110.4 123.0 110.0 122.6 109.6 122.2 109.2 121.8 108.8 121.6 108.0 121.6 107.6 121.9 107.3 122.4 107.0 122.8 106.8 123.3 106.6 124.0 106.5 124.8 106.7 125.6 M87.4 76.4 87.8 76.8 88.0 77.3 88.1 78.0 88.0 78.8 87.6 79.6 87.2 79.9 86.8 80.2 86.4 80.5 86.0 80.8 85.6 81.2 85.3 81.6 84.9 82.0 84.4 82.4 83.6 82.5 83.2 82.3 82.9 82.0 82.4 81.6 82.1 81.2 81.8 80.8 81.6 80.4 81.4 79.6 M84.0 78.0 84.4 77.6 84.8 77.2 85.2 76.9 M95.9 77.6 95.8 78.4 95.5 78.8 95.0 79.2 94.6 79.6 94.3 80.0 94.0 80.4 94.0 81.2 94.1 82.0 94.0 82.5 93.7 83.2 93.5 83.6 93.2 84.2 93.0 84.8 92.6 85.6 92.4 86.0 92.0 86.4 91.6 86.6 90.8 86.9 90.0 87.0 89.6 86.7 89.3 86.4 89.1 86.0 88.9 85.2 88.8 84.4 88.9 83.6 89.0 82.8 89.2 82.0 89.4 81.2 89.8 80.4 90.1 80.0 90.4 79.6 90.7 79.2 91.0 78.8 91.3 78.4 91.6 78.0 91.8 77.6 M82.8 78.6 83.3 78.4 M108.4 80.6 108.3 81.2 108.1 82.0 107.6 82.8 107.3 83.2 106.8 83.5 106.0 83.2 105.7 82.8 105.3 82.4 105.0 82.0 104.8 81.6 104.5 81.2 104.2 80.8 104.0 80.4 103.8 79.6 104.0 79.2 104.4 78.9 105.2 78.7 106.0 78.6 M81.6 79.1 82.0 78.8 M95.6 83.0 95.2 82.7 95.3 82.0 96.0 82.3 95.9 82.8Z M66.8 86.1 67.6 85.9 68.4 85.7 69.2 85.5 69.9 85.6 70.4 85.8 70.8 86.0 71.2 86.4 71.4 86.8 71.6 87.6 71.4 88.4 71.0 89.2 70.8 89.6 70.6 90.0 70.3 90.4 70.1 90.8 69.6 91.1 68.8 91.4 68.0 91.4 M78.2 92.8 78.1 92.0 78.0 91.2 77.8 90.4 77.4 90.0 76.8 89.7 76.0 89.6 75.2 89.4 74.8 89.0 74.4 88.4 74.2 87.6 74.3 86.8 74.8 86.4 75.6 86.4 76.4 86.6 76.9 86.8 77.6 87.2 78.0 87.6 78.4 88.0 78.8 88.3 79.2 88.6 80.0 88.8 80.8 89.1 81.1 89.6 81.2 90.1 81.4 90.8 81.6 91.4 81.7 92.0 81.8 92.8 81.6 93.3 81.2 93.9 M88.8 94.4 88.0 94.6 87.2 94.7 86.6 94.4 86.2 94.0 85.6 93.6 84.8 93.3 84.4 93.0 84.0 92.5 84.0 91.8 84.2 91.2 84.3 90.4 84.1 89.6 83.6 89.2 83.2 89.0 82.8 88.8 82.4 88.5 82.4 87.8 82.8 87.2 83.1 86.8 83.6 86.4 84.0 86.2 84.7 86.4 85.1 86.8 85.4 87.2 85.7 87.6 85.9 88.0 86.2 88.4 86.7 88.8 87.2 89.0 87.8 89.2 88.4 89.3 89.0 89.6 89.5 90.0 89.8 90.4 90.1 90.8 90.3 91.2 90.6 92.0 90.7 92.8 90.5 93.6 90.1 94.0 89.6 94.3 88.9 94.4Z M98.4 95.2 97.6 95.3 96.8 95.1 96.2 94.8 96.0 94.4 95.9 93.6 96.2 92.8 96.3 92.0 96.1 91.2 95.8 90.8 95.4 90.4 95.0 90.0 94.8 89.6 94.8 88.8 95.0 88.4 95.4 88.0 96.0 87.8 96.8 87.9 97.2 88.2 97.6 88.7 97.8 89.2 98.0 89.6 98.3 90.0 98.7 90.4 99.2 90.8 99.6 91.0 100.0 91.3 100.4 91.8 100.7 92.4 100.9 93.2 100.5 94.0 100.2 94.4 99.6 94.8 99.2 95.0 98.4 95.2Z M73.6 93.8 72.8 93.9 72.0 93.8 71.6 93.6 71.2 93.2 70.9 92.8 70.7 92.0 71.2 91.2 71.6 91.0 72.4 90.8 73.2 90.8 74.0 91.0 74.4 91.4 74.7 92.0 74.6 92.8 74.4 93.2 74.0 93.6Z M108.4 97.2 107.6 97.2 107.2 97.0 106.9 96.4 106.7 95.6 106.6 94.8 106.2 94.0 105.9 93.6 105.5 93.2 105.3 92.8 105.1 92.0 105.2 91.3 105.5 90.8 106.0 90.4 106.4 90.6 106.8 91.0 107.2 91.3 107.6 91.5 108.4 91.8 109.2 91.8 110.0 91.8 110.8 91.8 110.7 92.4 110.5 92.8 110.3 93.2 110.0 94.0 109.8 94.8 109.7 95.6 109.4 96.4 109.1 96.8 108.4 97.2Z M97.6 116.8 98.0 116.5 98.4 116.3 98.8 116.0 99.6 115.7 100.4 115.4 100.7 114.8 100.6 114.0 100.7 113.2 101.1 112.4 101.4 112.0 101.7 111.6 102.0 111.2 102.3 110.8 102.0 110.1 101.6 109.8 101.2 109.6 100.4 109.4 99.6 109.4 98.8 109.5 98.0 109.6 97.5 109.2 97.2 108.5 96.9 108.0 96.7 107.6 96.4 106.8 96.3 106.0 96.3 105.2 96.0 104.8 95.6 104.5 95.2 104.2 94.8 103.9 94.4 103.4 94.1 102.8 94.0 102.0 94.2 101.2 94.4 100.8 94.6 100.4 95.0 100.0 95.6 99.7 96.4 99.7 96.8 100.0 97.2 100.4 97.4 100.8 97.6 101.5 97.6 102.4 97.6 103.2 97.7 104.0 98.4 104.4 99.2 104.7 100.0 105.2 100.4 105.6 100.6 106.0 100.9 106.4 101.2 106.8 101.6 107.1 102.0 107.4 102.4 107.7 102.8 107.9 103.2 108.1 103.6 108.3 104.4 108.6 105.2 108.5 106.0 108.6 106.4 108.9 106.8 109.2 107.2 109.5 107.6 109.7 108.0 110.0 108.4 110.2 108.8 110.4 109.6 110.7 110.4 111.0 111.2 111.2 111.6 111.4 112.0 111.8 112.2 112.4 112.2 113.2 112.0 113.7 111.6 114.4 111.4 114.8 111.1 115.2 110.8 115.6 110.4 116.0 110.0 116.4 109.7 116.8 109.5 117.2 109.3 118.0 109.3 118.8 109.6 119.3 110.1 119.2 110.8 119.0 111.3 118.8 112.0 118.6 112.8 118.6 113.6 118.7 114.4 118.6 115.0 118.4 115.6 118.3 116.4 118.8 116.8 119.2 117.2 119.6 117.5 120.0 117.8 120.4 118.1 120.8 118.3 121.2 118.6 121.6 M105.6 104.1 105.0 104.0 104.4 103.7 104.0 103.4 103.6 103.1 103.2 102.8 102.8 102.4 103.2 101.9 104.0 102.1 104.8 102.1 105.6 102.2 106.0 102.5 106.1 103.2 105.7 104.0Z M112.8 102.9 112.4 103.1 111.8 102.8 111.4 102.4 111.2 102.0 111.6 101.7 112.4 101.9 112.8 102.4Z M122.0 111.6 121.2 111.9 120.4 112.3 120.0 112.5 119.2 112.7 118.6 112.4 118.2 112.0 118.1 111.2 118.4 110.7 118.8 110.3 119.2 110.1 119.6 109.8 120.0 109.3 120.3 108.8 120.4 108.0 120.2 107.2 120.0 106.8 119.8 106.0 119.9 105.2 120.3 104.8 120.8 104.6 121.6 104.6 M96.8 109.8 97.6 109.6 97.8 110.4 M113.4 125.6 113.5 124.8 113.2 124.0 112.8 123.7 112.0 123.4 111.2 123.0 110.8 122.7 110.4 122.3 110.0 121.8 109.6 121.2 109.4 120.8 109.2 120.2 108.4 120.2 108.0 120.4 107.6 120.8 107.2 121.2 107.0 121.6 106.7 122.0 106.4 122.7 106.2 123.2 105.8 124.0 105.6 124.5" fill="none" stroke="#000" stroke-width="2.3"/></g>
<path d="M268.6 119.8 267.8 119.7 267.0 119.5 266.2 119.3 265.4 119.2 264.6 119.1 263.8 118.6 263.5 118.2 263.2 117.8 262.6 117.4 261.8 117.2 261.4 117.0 261.0 116.6 260.7 115.8 260.6 115.0 260.8 114.2 261.0 113.4 261.1 112.6 260.7 111.8 260.5 111.4 260.3 111.0 260.0 110.6 259.7 110.2 259.2 109.8 258.8 109.4 258.4 109.0 258.2 108.6 257.9 108.2 257.6 107.8 257.1 107.4 256.6 107.0 256.2 106.6 255.9 106.2 255.5 105.4 255.1 105.0 254.6 104.7 253.8 104.5 253.0 104.4 252.2 104.2 251.8 104.0 251.4 103.6 251.0 103.0 250.8 102.6 250.6 102.2 250.4 101.8 250.1 101.4 249.8 101.0 249.4 100.6 249.0 100.3 248.6 99.9 248.2 99.4 248.0 99.0 247.8 98.2 247.8 97.4 247.9 96.6 248.2 95.8 248.4 95.0 248.3 94.2 248.1 93.4 248.3 93.0 248.7 92.6 249.0 92.2 249.1 91.4 249.0 90.6 249.4 89.8 249.7 89.4 250.1 89.0 250.4 88.6 250.6 87.9 250.9 87.4 251.3 87.0 251.8 86.6 252.2 86.3 252.6 86.0 253.4 85.8 254.2 85.7 254.7 85.4 255.4 85.1 256.2 85.0 257.0 84.8 257.8 84.6 258.6 84.6 259.4 84.5 260.2 84.4 260.8 84.2 261.4 83.9 261.8 83.7 262.2 83.4 262.6 83.2 263.0 82.9 263.8 82.7 264.6 82.7 265.0 82.3 265.4 81.8 265.8 81.5 266.6 81.1 267.4 80.9 268.2 80.8 269.0 80.9 269.8 81.2 270.4 81.4 271.0 81.6 271.6 81.8 272.2 82.0 273.0 82.1 273.8 81.8 274.2 81.4 274.5 81.0 274.9 80.6 275.4 80.3 276.2 80.0 277.0 80.2 277.8 80.6 278.2 80.8 278.6 81.1 279.0 81.3 279.8 81.6 280.4 81.8 281.0 82.0 281.8 82.4 282.6 82.6 283.4 82.8 283.8 83.1 284.2 83.5 284.5 83.8 285.0 84.0 285.8 83.8 286.2 83.6 286.6 83.4 287.0 83.2 287.8 82.9 288.5 83.0 289.0 83.2 289.8 83.1 290.6 82.7 291.4 82.7 291.8 83.0 292.0 83.4 292.1 84.2 292.4 85.0 292.7 85.4 293.0 85.8 293.3 86.2 293.5 86.6 293.7 87.0 293.9 87.4 294.2 87.8 294.4 88.2 294.6 88.6 294.8 89.4 294.6 90.0 294.3 90.6 294.4 91.4 294.7 91.8 295.1 92.2 295.5 92.6 295.8 92.9 296.2 93.3 296.6 93.6 297.0 93.9 297.3 94.2 297.6 94.6 297.8 95.0 298.0 95.8 297.8 96.6 297.6 97.0 297.4 97.5 297.2 98.2 297.0 98.8 296.6 99.2 296.2 99.5 295.8 99.8 295.5 100.2 295.6 101.0 295.6 101.8 295.4 102.3 295.0 102.8 294.6 103.2 294.4 103.8 294.5 104.6 294.3 105.4 294.0 105.8 293.5 106.2 293.1 106.6 292.7 107.0 292.3 107.4 292.1 107.8 291.9 108.6 291.9 109.4 292.0 110.2 291.9 111.0 291.4 111.8 291.0 112.1 290.6 112.4 290.2 112.8 289.8 113.4 289.5 114.2 289.3 114.6 289.0 115.0 288.7 115.4 288.4 115.8 287.9 116.2 287.4 116.4 286.6 116.4 286.2 116.2 285.4 116.1 284.6 116.5 284.2 116.9 283.8 117.3 283.4 117.7 283.0 118.0 282.6 118.2 281.8 118.5 281.0 118.5 280.5 118.6 279.8 118.9 279.0 119.1 278.2 119.2 277.4 119.3 276.6 119.3 275.8 119.2 275.0 119.1 274.2 119.0 273.4 119.2 272.6 119.4 271.8 119.3 271.0 119.0 270.2 119.1 269.8 119.3 269.4 119.6 268.7 119.8Z" fill="#000"/><clipPath id="clip5"><path d="M271.8 116.3 271.0 116.4 270.4 116.2 269.8 115.9 269.4 115.7 268.6 115.5 267.8 115.2 267.0 115.1 266.2 115.0 265.4 115.0 264.6 115.0 263.8 115.0 263.4 114.6 264.0 114.2 264.6 113.9 265.0 113.5 265.4 113.2 265.8 112.7 266.0 112.2 265.8 111.4 265.4 111.0 265.0 110.8 264.6 110.6 264.2 110.3 263.8 110.0 263.4 109.7 263.1 109.0 263.0 108.4 262.9 107.8 262.6 107.1 262.3 106.6 261.8 106.2 261.4 105.9 261.0 105.6 260.6 105.4 260.2 105.2 259.8 104.8 259.4 104.4 259.0 104.1 258.6 103.6 258.2 103.2 257.8 102.8 257.4 102.5 257.0 101.9 256.7 101.4 256.5 101.0 256.2 100.4 255.9 99.8 255.6 99.4 255.3 99.0 255.0 98.6 254.7 98.2 254.5 97.8 254.2 97.4 254.0 96.6 254.1 95.8 254.3 95.0 254.6 94.2 254.8 93.4 254.9 92.6 254.9 91.8 255.2 91.0 255.7 90.6 256.2 90.2 256.6 89.8 257.0 89.4 257.4 89.1 257.8 88.9 258.6 88.7 259.4 88.7 260.2 88.6 261.0 88.5 261.8 88.4 262.5 88.2 262.9 87.8 263.0 87.3 262.9 86.6 263.0 85.8 263.0 85.0 263.4 84.2 263.8 84.0 264.6 84.0 265.4 84.0 266.2 83.7 267.0 83.5 267.8 83.5 268.6 83.7 269.4 84.1 269.8 84.3 270.2 84.6 270.6 85.0 271.0 85.4 271.4 85.6 272.2 85.7 273.0 85.6 273.6 85.8 274.2 86.0 275.0 86.1 275.8 86.0 276.2 85.8 276.6 85.6 277.0 85.3 277.8 85.2 278.5 85.4 279.0 85.7 279.4 86.1 279.7 86.6 280.1 87.4 280.3 87.8 280.8 88.2 281.4 88.5 281.8 88.8 282.2 89.0 283.0 89.3 283.8 89.1 284.2 88.9 284.6 88.4 284.7 87.8 284.9 87.0 285.2 86.6 285.5 86.2 285.8 85.8 286.1 85.4 286.4 85.0 286.9 84.6 287.4 84.4 288.2 84.3 289.0 84.4 289.6 84.6 290.2 85.0 290.4 85.4 290.4 86.2 290.5 87.0 290.7 87.8 290.8 88.6 291.0 89.0 291.3 89.4 291.7 89.8 292.2 90.2 292.6 90.4 293.0 90.7 293.4 91.0 293.6 91.8 293.8 92.3 294.2 93.0 294.4 93.8 294.6 94.2 294.9 94.6 295.3 95.0 295.7 95.4 295.8 96.2 295.5 97.0 295.1 97.8 294.7 98.2 294.4 98.6 294.2 99.1 294.0 99.8 293.8 100.4 293.4 101.0 293.0 101.2 292.4 101.4 291.8 101.5 291.0 101.7 290.2 102.1 289.8 102.5 289.5 103.0 289.3 103.4 289.0 104.1 288.9 104.6 288.8 105.4 288.9 106.2 289.0 106.7 289.1 107.4 289.4 108.2 289.5 109.0 289.2 109.8 288.7 110.2 288.2 110.6 287.8 111.0 287.4 111.4 287.0 111.8 286.6 112.2 286.2 112.4 285.4 112.3 284.6 112.3 283.8 112.4 283.0 112.4 282.2 112.3 281.4 112.2 280.6 112.3 279.8 112.4 279.2 112.6 278.7 113.0 278.2 113.4 277.8 113.7 277.4 114.0 277.0 114.2 276.2 114.4 275.4 114.5 274.6 114.3 273.8 114.5 273.4 114.8 273.0 115.2 272.6 115.8 272.2 116.1 271.8 116.3Z M252.2 92.8 251.4 92.9 251.0 92.6 250.6 92.2 250.4 91.8 250.5 91.0 251.0 90.6 251.8 90.4 252.6 90.6 253.0 90.9 253.2 91.4 253.0 91.9 252.6 92.4 252.2 92.8Z"/></clipPath><path d="M271.8 116.3 271.0 116.4 270.4 116.2 269.8 115.9 269.4 115.7 268.6 115.5 267.8 115.2 267.0 115.1 266.2 115.0 265.4 115.0 264.6 115.0 263.8 115.0 263.4 114.6 264.0 114.2 264.6 113.9 265.0 113.5 265.4 113.2 265.8 112.7 266.0 112.2 265.8 111.4 265.4 111.0 265.0 110.8 264.6 110.6 264.2 110.3 263.8 110.0 263.4 109.7 263.1 109.0 263.0 108.4 262.9 107.8 262.6 107.1 262.3 106.6 261.8 106.2 261.4 105.9 261.0 105.6 260.6 105.4 260.2 105.2 259.8 104.8 259.4 104.4 259.0 104.1 258.6 103.6 258.2 103.2 257.8 102.8 257.4 102.5 257.0 101.9 256.7 101.4 256.5 101.0 256.2 100.4 255.9 99.8 255.6 99.4 255.3 99.0 255.0 98.6 254.7 98.2 254.5 97.8 254.2 97.4 254.0 96.6 254.1 95.8 254.3 95.0 254.6 94.2 254.8 93.4 254.9 92.6 254.9 91.8 255.2 91.0 255.7 90.6 256.2 90.2 256.6 89.8 257.0 89.4 257.4 89.1 257.8 88.9 258.6 88.7 259.4 88.7 260.2 88.6 261.0 88.5 261.8 88.4 262.5 88.2 262.9 87.8 263.0 87.3 262.9 86.6 263.0 85.8 263.0 85.0 263.4 84.2 263.8 84.0 264.6 84.0 265.4 84.0 266.2 83.7 267.0 83.5 267.8 83.5 268.6 83.7 269.4 84.1 269.8 84.3 270.2 84.6 270.6 85.0 271.0 85.4 271.4 85.6 272.2 85.7 273.0 85.6 273.6 85.8 274.2 86.0 275.0 86.1 275.8 86.0 276.2 85.8 276.6 85.6 277.0 85.3 277.8 85.2 278.5 85.4 279.0 85.7 279.4 86.1 279.7 86.6 280.1 87.4 280.3 87.8 280.8 88.2 281.4 88.5 281.8 88.8 282.2 89.0 283.0 89.3 283.8 89.1 284.2 88.9 284.6 88.4 284.7 87.8 284.9 87.0 285.2 86.6 285.5 86.2 285.8 85.8 286.1 85.4 286.4 85.0 286.9 84.6 287.4 84.4 288.2 84.3 289.0 84.4 289.6 84.6 290.2 85.0 290.4 85.4 290.4 86.2 290.5 87.0 290.7 87.8 290.8 88.6 291.0 89.0 291.3 89.4 291.7 89.8 292.2 90.2 292.6 90.4 293.0 90.7 293.4 91.0 293.6 91.8 293.8 92.3 294.2 93.0 294.4 93.8 294.6 94.2 294.9 94.6 295.3 95.0 295.7 95.4 295.8 96.2 295.5 97.0 295.1 97.8 294.7 98.2 294.4 98.6 294.2 99.1 294.0 99.8 293.8 100.4 293.4 101.0 293.0 101.2 292.4 101.4 291.8 101.5 291.0 101.7 290.2 102.1 289.8 102.5 289.5 103.0 289.3 103.4 289.0 104.1 288.9 104.6 288.8 105.4 288.9 106.2 289.0 106.7 289.1 107.4 289.4 108.2 289.5 109.0 289.2 109.8 288.7 110.2 288.2 110.6 287.8 111.0 287.4 111.4 287.0 111.8 286.6 112.2 286.2 112.4 285.4 112.3 284.6 112.3 283.8 112.4 283.0 112.4 282.2 112.3 281.4 112.2 280.6 112.3 279.8 112.4 279.2 112.6 278.7 113.0 278.2 113.4 277.8 113.7 277.4 114.0 277.0 114.2 276.2 114.4 275.4 114.5 274.6 114.3 273.8 114.5 273.4 114.8 273.0 115.2 272.6 115.8 272.2 116.1 271.8 116.3Z M252.2 92.8 251.4 92.9 251.0 92.6 250.6 92.2 250.4 91.8 250.5 91.0 251.0 90.6 251.8 90.4 252.6 90.6 253.0 90.9 253.2 91.4 253.0 91.9 252.6 92.4 252.2 92.8Z" fill="#fff"/><g clip-path="url(#clip5)"><path d="M263.0 83.0 263.8 83.2 264.6 83.3 265.4 83.1 265.9 83.0 266.6 82.6 267.0 82.2 M288.6 82.6 288.2 82.8 287.8 83.0 287.4 83.3 287.0 83.6 286.6 84.2 286.4 85.0 286.6 85.7 287.0 86.2 287.8 86.5 288.3 86.6 289.0 86.9 289.4 87.1 289.8 87.6 290.0 88.2 290.2 89.0 290.2 89.8 290.0 90.6 289.7 91.0 289.0 91.3 288.2 91.7 287.8 92.2 287.6 92.6 287.4 93.4 287.6 94.2 287.8 94.7 288.2 95.1 289.0 95.1 289.4 94.7 289.7 94.2 290.1 93.4 290.3 92.6 290.6 92.1 291.0 91.8 291.6 91.8 292.2 92.0 292.6 92.3 293.0 92.7 293.4 93.0 294.2 93.1 294.6 92.9 295.0 92.6 295.3 92.2 M274.6 84.6 275.0 85.3 275.4 85.6 276.1 85.8 276.6 85.9 277.4 86.0 278.2 85.8 278.6 85.5 279.0 85.1 279.3 84.6 279.2 83.8 M256.5 85.8 256.2 86.3 255.8 86.5 255.4 86.7 255.0 87.0 254.6 87.2 254.2 87.6 M255.0 89.6 255.5 89.4 256.2 89.2 256.8 89.0 257.3 88.6 257.4 87.8 257.2 87.0 M281.0 94.2 281.4 94.0 281.8 93.8 282.2 93.4 282.5 93.0 282.8 92.2 282.9 91.4 282.8 90.6 282.6 89.9 282.4 89.4 282.0 89.0 281.4 88.8 280.6 88.7 279.8 88.8 279.0 88.9 278.2 89.4 278.1 90.2 278.5 91.0 278.7 91.4 278.9 91.8 279.2 92.6 279.3 93.4 279.8 94.2 280.6 94.3Z M253.2 89.4 253.4 90.1 M249.4 92.8 250.0 92.6 249.8 92.2 249.1 92.2 M297.0 94.9 296.2 94.9 295.4 94.6 294.6 94.5 294.0 94.6 293.4 95.0 293.0 95.4 292.7 95.8 292.4 96.6 292.6 97.4 292.9 98.2 293.2 98.6 293.5 99.0 293.8 99.4 294.1 99.8 294.5 100.2 294.8 100.6 M270.5 105.8 270.6 105.0 270.5 104.2 270.4 103.4 270.3 102.6 270.4 101.8 270.8 101.0 271.0 100.6 271.3 100.2 271.6 99.8 272.0 99.4 272.6 99.0 273.0 98.8 273.8 98.4 274.4 98.2 274.7 97.8 274.6 97.0 274.3 96.6 273.8 96.3 273.0 96.2 272.2 96.3 271.4 96.3 270.6 96.3 270.2 96.6 269.9 97.0 269.7 97.4 269.4 97.8 269.1 98.2 268.8 98.6 268.4 99.0 267.9 99.4 267.4 99.7 266.6 99.9 265.8 100.2 265.6 100.6 265.5 101.4 265.7 102.2 266.2 103.0 266.6 103.3 267.0 103.5 267.7 103.8 268.2 104.1 268.6 104.4 269.0 104.8 269.4 105.3 269.8 105.8 270.2 106.2 270.5 105.8Z M265.4 116.6 265.2 115.8 265.0 115.3 264.7 114.6 264.4 113.8 264.7 113.4 265.4 113.0 266.2 112.8 266.7 113.0 266.9 113.4 267.3 113.8 267.8 114.2 268.2 114.4 268.7 114.6 269.4 114.8 270.2 115.0 271.0 114.8 271.3 114.2 271.2 113.4 271.0 113.0 270.6 112.6 270.2 112.2 269.8 111.9 269.0 111.7 268.5 111.8 267.8 112.1 267.0 112.4 266.6 112.2 266.3 111.4 266.1 110.6 265.8 109.8 265.5 109.4 265.1 109.0 264.6 108.7 263.8 108.5 263.0 108.3 262.2 107.9 261.8 107.5 261.5 107.0 261.3 106.2 261.2 105.4 260.9 105.0 260.2 104.7 259.4 104.7 258.6 104.4 258.2 104.1 257.8 103.8 257.4 103.5 257.0 103.1 256.6 102.8 256.2 102.4 255.8 102.2 255.4 101.9 M285.5 103.8 286.2 103.5 286.5 103.0 285.8 102.7 285.0 102.9 284.6 103.3 284.4 103.8 285.0 103.9Z M285.3 114.2 284.6 113.8 284.2 113.5 283.8 113.2 283.4 112.7 283.0 112.3 282.7 111.8 282.4 111.4 282.2 111.0 282.0 110.2 282.4 109.4 282.7 109.0 283.0 108.2 283.0 107.4 282.9 106.6 282.8 105.8 282.9 105.0 282.6 104.6 281.9 105.0 281.4 105.3 281.0 105.6 280.6 105.9 280.2 106.1 279.4 106.4 278.6 106.4 277.8 106.4 277.3 106.6 277.0 106.9 276.8 107.4 277.0 108.0 277.4 108.3 278.2 108.5 279.0 108.7 279.4 108.9 279.8 109.3 280.1 109.8 279.8 110.3 279.4 110.5 278.6 110.8 278.2 111.1 277.8 111.4 277.4 111.8 277.1 112.6 277.0 113.1 276.8 113.8 276.6 114.6 276.6 115.2 277.0 115.5 M262.7 113.4 262.6 113.9 262.2 114.6 262.0 115.0 M286.6 113.9 286.2 114.1 M272.6 117.5 271.8 117.5 271.3 117.8 271.0 118.1 M261.4 84.7 262.0 85.0 262.3 85.4 262.5 86.2 262.8 87.0 263.2 87.8 263.4 88.2 263.8 88.5 264.6 88.5 265.3 88.2 265.7 87.8 266.0 87.4 266.2 86.8 266.3 86.2 266.4 85.4 266.6 84.7 266.9 84.2 267.3 83.8 267.6 83.4 267.9 83.0 268.1 82.2 M273.4 84.2 273.0 84.6 272.7 85.0 272.4 85.8 271.9 86.6 271.6 87.0 271.3 87.4 271.1 88.2 271.4 88.8 271.8 89.1 272.2 89.3 273.0 89.6 273.8 89.7 274.3 89.4 274.2 88.8 274.0 88.2 273.8 87.4 274.2 86.6 275.0 86.4 275.8 86.5 276.5 86.6 277.4 86.7 278.2 86.6 278.6 86.4 279.0 86.1 279.4 85.6 279.8 85.2 280.2 84.6 M285.0 84.8 285.2 85.4 285.4 86.0 285.7 86.6 286.1 87.0 286.6 87.3 287.4 87.4 288.2 87.5 288.9 87.8 289.3 88.2 289.5 89.0 289.4 89.8 289.2 90.2 288.7 90.6 288.2 90.9 287.8 91.2 287.4 91.7 287.1 92.2 286.9 93.0 286.9 93.8 287.0 94.4 287.2 95.0 287.4 95.4 287.7 95.8 288.1 96.2 288.6 96.4 289.4 96.3 289.8 96.0 290.2 95.6 290.5 95.0 290.9 94.2 291.1 93.8 291.4 93.5 292.1 93.8 292.1 94.6 291.9 95.0 291.7 95.4 291.5 96.2 291.6 97.0 292.0 97.8 292.3 98.2 292.6 98.6 292.9 99.0 293.2 99.4 293.6 99.8 293.9 100.2 294.2 100.6 294.5 101.0 M253.8 86.2 253.5 86.6 253.3 87.0 M250.3 93.8 251.0 93.5 251.4 93.2 251.8 92.9 252.2 92.6 252.6 92.4 253.2 92.2 253.8 91.8 254.2 91.4 254.6 91.0 255.0 90.6 255.4 90.4 256.2 90.1 257.0 90.1 257.4 90.4 257.8 90.9 258.0 91.4 258.2 92.0 258.6 92.6 259.0 92.8 259.8 92.6 260.2 92.3 260.6 91.9 260.9 91.4 260.9 90.6 260.7 90.2 260.3 89.8 259.9 89.4 259.4 89.0 259.1 88.6 258.9 88.2 258.7 87.4 M281.2 94.6 281.8 94.3 282.2 94.1 282.6 93.7 282.9 93.4 283.1 93.0 283.3 92.2 283.3 91.4 283.2 90.6 283.1 89.8 282.8 89.0 282.4 88.6 281.8 88.3 281.2 88.2 280.6 88.2 279.8 88.2 279.0 88.2 278.2 88.3 277.7 88.6 277.3 89.0 277.0 89.4 277.1 90.2 277.4 90.5 277.8 91.0 278.1 91.4 278.3 91.8 278.6 92.5 278.7 93.0 278.8 93.8 279.0 94.2 279.3 94.6 279.8 94.8 280.6 94.8 281.2 94.6Z M252.2 89.0 251.8 89.8 251.5 90.6 251.0 90.8 250.3 90.2 M271.0 108.6 271.3 108.2 271.5 107.4 271.5 106.6 271.5 105.8 271.4 105.1 271.3 104.6 271.1 103.8 271.0 103.0 271.0 102.2 271.2 101.4 271.4 101.0 271.8 100.4 272.2 99.9 272.6 99.6 273.0 99.4 273.8 99.1 274.5 99.0 275.4 99.1 276.2 99.4 276.6 99.6 277.0 99.4 276.7 98.6 276.5 98.2 276.2 97.8 276.0 97.4 275.7 97.0 275.5 96.6 275.3 96.2 275.0 95.9 274.6 95.6 273.8 95.4 273.0 95.5 272.2 95.5 271.4 95.5 270.6 95.3 269.8 95.4 269.5 95.8 269.3 96.6 269.0 97.3 268.7 97.8 268.4 98.2 267.9 98.6 267.4 98.9 266.6 98.9 265.8 98.8 265.1 99.0 264.8 99.4 264.6 100.2 264.6 101.0 264.7 101.8 264.8 102.6 264.9 103.4 265.4 104.1 266.2 104.3 267.0 104.5 267.8 104.9 268.2 105.3 268.6 105.8 268.9 106.2 269.2 107.0 269.4 107.7 269.6 108.2 269.8 108.6 270.6 108.8Z M273.8 116.5 273.0 116.6 272.3 116.2 272.0 115.8 272.1 115.0 272.2 114.2 272.1 113.4 271.8 112.9 271.4 112.3 271.0 111.9 270.6 111.4 270.3 111.0 269.9 110.6 269.4 110.4 268.6 110.6 267.8 110.8 267.3 110.6 266.9 110.2 266.7 109.8 266.4 109.4 266.0 109.0 265.6 108.6 265.0 108.3 264.2 107.9 263.4 107.6 263.0 107.4 262.6 107.0 262.4 106.6 262.3 105.8 262.3 105.0 262.0 104.6 261.4 104.2 260.6 104.0 259.8 104.0 259.0 103.9 258.2 103.5 257.8 103.1 257.4 102.7 257.1 102.2 256.8 101.4 256.6 100.7 256.2 100.3 255.4 99.9 255.0 99.7 254.7 99.4 254.3 99.0 254.0 98.6 253.7 98.2 253.2 97.8 252.6 97.7 M287.9 112.6 287.0 112.6 286.2 112.9 285.4 113.1 284.7 113.0 284.2 112.8 283.8 112.4 283.4 112.0 283.0 111.4 282.7 110.6 282.8 109.8 283.2 109.0 283.4 108.4 283.5 107.8 283.6 107.0 283.7 106.2 284.2 105.5 284.6 105.2 285.4 104.9 286.2 104.7 287.0 104.5 287.8 104.3 288.6 104.0 289.4 103.5 289.8 103.2 290.2 102.9 290.3 102.2 289.8 102.1 289.2 102.2 288.6 102.3 287.8 102.2 287.0 102.0 286.2 101.8 285.4 101.9 284.6 102.1 283.8 102.5 283.0 102.8 282.2 103.0 281.4 103.1 280.6 103.3 279.8 103.2 279.4 103.0 278.6 102.6 277.8 102.2 277.2 102.6 277.0 103.2 277.0 103.8 277.1 104.6 276.8 105.4 276.6 105.8 276.3 106.2 276.1 106.6 275.8 107.4 275.5 108.2 275.4 108.7 275.0 109.0 274.2 109.3 273.8 109.7 274.2 110.5 275.0 110.4 275.4 109.9 275.8 109.5 276.6 109.5 277.4 109.8 277.1 110.6 276.8 111.0 276.6 111.6 276.4 112.2 276.3 113.0 275.8 113.8 275.5 114.2 275.1 114.6 274.8 115.0 274.6 115.4 274.4 115.8 274.1 116.2 M291.0 108.2 291.0 109.0 M266.0 116.6 265.9 115.8 266.2 115.0 267.0 114.9 267.8 115.1 268.6 115.2 269.2 115.4 269.8 115.6 270.3 115.8 270.8 116.2 270.8 117.0 270.4 117.8 M251.0 94.2 251.4 94.0 252.2 93.8 253.0 93.9 253.8 94.0 254.2 93.7 254.5 93.0 254.8 92.2 255.0 91.8 255.3 91.4 255.8 91.0 256.6 91.0 257.0 91.2 257.4 91.8 257.8 92.6 258.0 93.0 258.4 93.4 259.0 93.7 259.7 93.4 260.2 93.1 260.6 92.8 261.0 92.5 261.4 92.3 261.8 92.0 262.2 91.6 262.6 91.3 263.0 90.8 263.4 90.4 263.8 90.1 264.2 89.9 264.6 89.7 265.2 89.4 265.8 89.1 266.2 88.9 266.6 88.6 267.0 88.2 267.3 87.8 267.5 87.0 267.5 86.2 267.7 85.4 268.1 84.6 268.4 84.2 268.7 83.8 268.9 83.0 268.9 82.2 M271.1 83.8 270.8 84.2 270.7 85.0 270.6 85.7 270.5 86.2 270.2 86.9 270.0 87.4 269.9 88.2 270.2 88.8 270.6 89.1 271.0 89.4 271.4 89.6 271.8 89.9 272.2 90.1 272.6 90.3 273.0 90.5 273.4 90.8 273.8 91.1 274.6 91.3 275.4 91.1 275.9 91.0 276.6 91.1 277.0 91.3 277.4 91.6 277.8 92.1 278.0 92.6 278.1 93.4 278.2 94.0 278.3 94.6 278.6 95.0 279.0 95.3 279.8 95.4 280.6 95.2 281.3 95.0 281.8 94.8 282.6 94.4 283.0 94.0 283.4 93.6 283.7 93.0 283.9 92.2 283.8 91.4 283.7 90.6 283.6 89.8 283.4 89.0 283.1 88.2 282.7 87.8 282.2 87.5 281.4 87.5 280.6 87.5 279.8 87.4 279.5 87.0 279.8 86.4 280.2 86.0 280.6 85.8 M284.0 86.2 284.4 86.6 284.7 87.0 285.0 87.3 285.4 87.7 285.8 88.1 286.2 88.3 287.0 88.5 287.8 88.5 288.5 89.0 288.3 89.8 287.9 90.2 287.5 90.6 287.2 91.0 286.9 91.4 286.7 91.8 286.4 92.6 286.3 93.4 286.4 94.2 286.6 94.9 286.7 95.4 287.0 96.1 287.3 96.6 287.7 97.0 288.2 97.3 288.7 97.4 289.4 97.5 290.2 97.7 291.0 98.2 291.4 98.6 291.8 99.0 292.2 99.4 292.6 99.7 293.0 100.1 293.4 100.5 293.8 101.0 294.1 101.4 M261.0 86.8 261.7 87.4 262.0 88.2 261.8 88.8 261.0 88.6 260.6 88.3 260.2 87.8 260.4 87.0 M292.8 103.0 292.5 102.6 292.2 101.9 292.0 101.4 291.8 101.0 291.5 100.6 291.0 100.3 290.2 100.6 289.8 100.9 289.4 101.1 289.0 101.3 288.2 101.5 287.4 101.5 286.6 101.3 285.8 101.2 285.0 101.4 284.2 101.6 283.6 101.8 283.0 101.9 282.2 102.0 281.4 101.9 280.6 101.8 279.8 101.6 279.3 101.4 278.9 101.0 278.6 100.6 278.4 99.8 278.2 99.2 278.0 98.6 277.8 98.1 277.4 97.5 277.0 97.0 276.7 96.6 276.5 96.2 276.2 95.4 276.0 95.0 275.6 94.6 275.0 94.2 274.2 94.2 273.4 94.5 272.6 94.7 271.8 94.8 271.0 94.6 270.2 94.5 269.4 94.6 269.0 94.9 268.8 95.4 268.7 96.2 268.5 97.0 268.2 97.6 267.8 97.9 267.0 98.2 266.2 98.0 265.4 97.9 264.6 98.1 264.2 98.4 263.9 99.0 263.9 99.8 264.0 100.6 264.1 101.4 264.1 102.2 263.9 103.0 263.6 103.4 263.0 103.8 262.2 103.7 261.4 103.6 260.6 103.5 259.8 103.5 259.0 103.3 258.5 103.0 258.1 102.6 257.8 102.2 257.7 101.4 257.8 100.7 258.0 100.2 258.2 99.8 258.6 99.4 259.0 99.0 259.3 98.6 259.0 98.1 258.2 98.2 257.4 98.5 256.6 98.7 255.8 98.7 255.0 98.3 254.6 97.9 254.2 97.4 253.8 97.0 253.4 96.8 252.6 96.9 M273.8 107.9 273.0 107.8 272.6 107.4 272.4 107.0 272.2 106.4 272.1 105.8 272.0 105.0 271.8 104.2 271.6 103.4 271.5 102.6 271.6 101.8 271.8 101.2 272.2 100.6 272.6 100.2 273.0 99.9 273.8 99.6 274.6 99.6 275.4 100.1 275.8 100.6 276.0 101.0 276.1 101.8 276.0 102.6 275.8 103.4 275.8 104.2 275.8 105.0 275.6 105.8 275.4 106.4 275.1 107.0 274.7 107.4 274.2 107.8Z M288.2 112.0 287.4 111.8 286.6 112.0 285.8 112.4 285.0 112.5 284.3 112.2 283.9 111.8 283.6 111.4 283.4 111.0 283.2 110.2 283.4 109.6 283.6 109.0 284.0 108.2 284.2 107.4 284.5 106.6 284.8 106.2 285.4 105.8 286.2 105.6 287.0 105.5 287.8 105.2 288.5 105.0 289.0 104.8 289.5 104.6 290.2 104.4 M267.8 108.9 267.0 108.7 266.6 108.5 266.2 108.2 265.8 108.0 265.4 107.7 265.0 107.5 264.6 107.2 264.2 106.8 264.2 106.2 264.6 105.9 265.0 105.7 265.8 105.4 266.6 105.4 267.4 105.7 267.8 106.0 268.2 106.6 268.3 107.4 268.3 108.2 267.8 108.9Z M290.6 107.8 290.5 108.6 290.6 109.4 M274.2 114.0 273.8 114.2 273.3 113.8 273.0 113.0 273.2 112.2 273.8 112.1 274.6 112.2 275.0 112.4 275.1 113.0 274.8 113.4 274.4 113.8Z M266.8 116.6 267.0 116.0 267.4 115.8 268.2 115.8 269.0 116.0 269.5 116.2 269.8 116.5 269.9 117.0 269.8 117.5" fill="none" stroke="#000" stroke-width="2.0"/></g>
<path d="M293.4 167.0 292.6 167.0 291.8 166.7 291.0 166.7 290.2 166.9 289.4 167.1 288.6 166.9 288.2 166.6 287.9 166.2 287.6 165.8 287.0 165.6 286.3 165.8 285.8 166.2 285.4 166.6 285.0 167.0 284.6 167.3 283.8 167.3 283.0 167.1 282.2 167.1 281.4 167.3 280.6 167.3 279.8 167.3 279.0 167.3 278.2 167.0 277.4 166.7 276.6 166.4 275.8 166.3 275.0 166.4 274.2 166.4 273.4 166.4 272.8 166.2 272.4 165.8 272.0 165.0 271.8 164.2 271.5 163.4 271.2 163.0 271.0 162.6 270.8 162.2 270.6 161.7 270.5 161.0 270.2 160.3 269.9 159.8 269.6 159.4 269.2 159.0 268.6 158.8 267.8 158.6 267.0 158.3 266.7 157.8 266.5 157.0 266.2 156.2 265.9 155.4 266.1 154.6 266.3 154.2 266.3 153.4 265.9 152.6 265.7 152.2 265.4 151.8 265.2 151.4 265.1 150.6 265.1 149.8 265.1 149.0 265.1 148.2 265.4 147.4 265.7 147.0 266.0 146.6 265.8 145.9 265.4 145.6 265.0 145.0 265.2 144.2 265.4 143.6 265.5 143.0 265.3 142.2 265.4 141.4 265.7 141.0 266.2 140.7 267.0 140.4 267.8 140.3 268.6 140.4 269.0 140.6 269.4 140.8 269.8 141.0 270.6 141.4 271.0 141.7 271.4 142.0 271.8 142.3 272.6 142.5 273.4 142.5 274.1 142.6 274.6 142.8 275.4 142.7 275.8 142.3 276.2 141.8 276.6 141.5 277.0 141.2 277.4 141.0 278.1 140.6 278.3 140.2 278.5 139.4 279.0 138.6 279.7 138.6 280.2 138.9 281.0 138.9 281.4 138.7 281.8 138.3 282.2 137.9 282.6 137.7 283.4 137.4 284.2 137.0 284.6 136.8 285.3 136.6 286.2 136.5 287.0 136.3 287.8 136.0 288.2 135.8 288.6 135.5 289.4 135.3 290.2 135.2 291.0 135.4 291.8 135.5 292.6 135.7 293.4 135.5 293.8 135.3 294.6 135.2 295.4 135.1 296.2 134.9 297.0 134.8 297.7 135.0 298.2 135.2 299.0 135.2 299.4 134.9 299.8 134.6 300.6 134.4 301.4 134.5 302.2 134.7 303.0 134.6 303.8 134.8 304.2 135.0 304.6 135.4 305.0 135.8 305.4 136.1 305.8 136.6 306.1 137.0 306.3 137.4 306.5 137.8 306.8 138.2 307.0 138.7 307.3 139.4 307.7 140.2 307.9 140.6 308.2 141.0 308.4 141.4 308.6 141.8 309.0 142.2 309.8 142.6 310.2 142.8 310.6 143.1 311.0 143.8 311.1 144.6 310.6 145.4 310.3 145.8 310.0 146.2 309.9 147.0 310.0 147.8 309.4 148.6 309.0 148.9 308.6 149.3 308.4 149.8 308.2 150.3 308.0 151.0 307.8 151.6 307.7 152.2 307.7 153.0 307.4 153.8 306.6 154.1 306.2 154.3 305.9 155.0 305.7 155.8 305.7 156.6 305.8 157.2 305.9 157.8 305.9 158.6 305.9 159.4 305.7 160.2 305.5 161.0 305.2 161.4 304.9 161.8 304.5 162.2 304.3 162.6 304.3 163.4 304.6 164.1 304.8 164.6 304.6 165.4 304.3 165.8 303.9 166.2 303.4 166.5 302.6 166.4 301.8 166.4 301.3 166.6 300.6 166.9 299.8 166.9 299.0 166.7 298.4 166.6 297.8 166.4 297.0 166.3 296.2 166.5 295.5 166.6 294.6 166.8 293.8 166.9Z" fill="#000"/><clipPath id="clip31"><path d="M294.2 163.9 293.4 164.0 292.6 164.1 291.8 164.0 291.0 164.1 290.2 164.2 289.4 164.1 288.7 163.8 288.2 163.6 287.8 163.3 287.4 162.8 287.0 162.2 286.7 161.8 286.2 161.4 285.4 161.4 284.6 161.6 284.2 161.9 283.8 162.1 283.0 162.5 282.2 162.8 281.4 162.7 280.6 162.6 279.8 162.5 279.1 162.2 278.6 162.0 277.8 161.9 277.0 161.7 276.4 161.4 275.8 161.0 275.4 160.7 275.0 160.4 274.6 160.0 274.2 159.4 273.9 158.6 273.9 157.8 273.8 157.1 273.7 156.6 273.4 156.0 273.0 155.6 272.2 155.4 271.4 155.6 270.6 156.0 270.1 156.2 269.4 156.5 268.8 156.6 268.4 156.2 268.3 155.4 268.2 154.8 268.0 154.2 267.8 153.5 267.6 153.0 267.2 152.2 267.0 151.7 266.6 151.0 266.6 150.4 266.7 149.8 266.9 149.0 267.0 148.4 267.2 147.8 267.4 147.4 267.6 147.0 267.9 146.6 268.2 146.2 268.5 145.4 268.7 145.0 269.0 144.7 269.8 144.4 270.6 144.5 271.4 145.0 271.7 145.4 271.9 145.8 272.1 146.2 272.4 146.6 272.6 147.0 272.9 147.4 273.4 147.8 273.8 148.0 274.6 148.1 275.4 147.9 275.8 147.7 276.2 147.4 276.6 147.0 276.9 146.6 277.1 146.2 277.4 145.6 277.6 145.0 277.8 144.6 278.2 143.8 278.5 143.0 278.8 142.6 279.2 142.2 279.8 141.8 280.4 141.8 281.0 142.0 281.4 142.2 281.8 142.5 282.2 142.8 283.0 143.0 283.8 142.6 284.2 142.3 284.5 141.8 284.7 141.4 285.0 141.0 285.3 140.6 285.7 140.2 286.0 139.8 286.3 139.4 286.7 139.0 287.4 138.6 288.2 138.7 289.0 138.9 289.4 139.3 289.8 139.8 290.1 140.2 290.3 140.6 290.5 141.0 290.9 141.4 291.4 141.7 292.2 142.0 293.0 142.1 293.8 142.1 294.6 141.8 295.0 141.6 295.4 141.3 295.8 141.1 296.2 140.9 297.0 140.6 297.8 140.5 298.5 140.2 299.0 139.8 299.3 139.4 299.5 139.0 299.7 138.6 299.9 138.2 300.2 137.5 300.4 137.0 300.5 136.2 300.9 135.8 301.4 135.6 302.2 135.7 302.9 135.8 303.4 136.1 303.8 136.4 304.2 136.7 304.6 137.0 304.9 137.4 305.1 137.8 305.3 138.6 305.1 139.0 304.7 139.4 304.2 139.7 303.8 139.9 303.5 140.2 303.2 140.6 303.0 141.1 302.8 141.8 302.8 142.6 302.8 143.4 303.0 144.0 303.4 144.6 303.7 145.0 304.0 145.4 304.1 146.2 304.1 147.0 304.0 147.8 304.2 148.6 304.3 149.4 304.6 150.1 304.8 150.6 304.6 151.2 304.2 151.8 303.8 152.2 303.4 152.5 303.1 153.0 302.9 153.8 302.5 154.2 302.2 154.5 301.8 155.0 301.5 155.8 301.5 156.6 301.6 157.4 301.8 158.0 302.0 158.6 301.9 159.4 301.6 159.8 301.1 160.2 300.6 160.5 300.2 160.9 299.9 161.4 299.4 161.5 299.0 161.3 298.2 161.2 297.5 161.4 297.0 161.7 296.6 162.2 296.3 162.6 295.9 163.0 295.4 163.3 294.6 163.7Z"/></clipPath><path d="M294.2 163.9 293.4 164.0 292.6 164.1 291.8 164.0 291.0 164.1 290.2 164.2 289.4 164.1 288.7 163.8 288.2 163.6 287.8 163.3 287.4 162.8 287.0 162.2 286.7 161.8 286.2 161.4 285.4 161.4 284.6 161.6 284.2 161.9 283.8 162.1 283.0 162.5 282.2 162.8 281.4 162.7 280.6 162.6 279.8 162.5 279.1 162.2 278.6 162.0 277.8 161.9 277.0 161.7 276.4 161.4 275.8 161.0 275.4 160.7 275.0 160.4 274.6 160.0 274.2 159.4 273.9 158.6 273.9 157.8 273.8 157.1 273.7 156.6 273.4 156.0 273.0 155.6 272.2 155.4 271.4 155.6 270.6 156.0 270.1 156.2 269.4 156.5 268.8 156.6 268.4 156.2 268.3 155.4 268.2 154.8 268.0 154.2 267.8 153.5 267.6 153.0 267.2 152.2 267.0 151.7 266.6 151.0 266.6 150.4 266.7 149.8 266.9 149.0 267.0 148.4 267.2 147.8 267.4 147.4 267.6 147.0 267.9 146.6 268.2 146.2 268.5 145.4 268.7 145.0 269.0 144.7 269.8 144.4 270.6 144.5 271.4 145.0 271.7 145.4 271.9 145.8 272.1 146.2 272.4 146.6 272.6 147.0 272.9 147.4 273.4 147.8 273.8 148.0 274.6 148.1 275.4 147.9 275.8 147.7 276.2 147.4 276.6 147.0 276.9 146.6 277.1 146.2 277.4 145.6 277.6 145.0 277.8 144.6 278.2 143.8 278.5 143.0 278.8 142.6 279.2 142.2 279.8 141.8 280.4 141.8 281.0 142.0 281.4 142.2 281.8 142.5 282.2 142.8 283.0 143.0 283.8 142.6 284.2 142.3 284.5 141.8 284.7 141.4 285.0 141.0 285.3 140.6 285.7 140.2 286.0 139.8 286.3 139.4 286.7 139.0 287.4 138.6 288.2 138.7 289.0 138.9 289.4 139.3 289.8 139.8 290.1 140.2 290.3 140.6 290.5 141.0 290.9 141.4 291.4 141.7 292.2 142.0 293.0 142.1 293.8 142.1 294.6 141.8 295.0 141.6 295.4 141.3 295.8 141.1 296.2 140.9 297.0 140.6 297.8 140.5 298.5 140.2 299.0 139.8 299.3 139.4 299.5 139.0 299.7 138.6 299.9 138.2 300.2 137.5 300.4 137.0 300.5 136.2 300.9 135.8 301.4 135.6 302.2 135.7 302.9 135.8 303.4 136.1 303.8 136.4 304.2 136.7 304.6 137.0 304.9 137.4 305.1 137.8 305.3 138.6 305.1 139.0 304.7 139.4 304.2 139.7 303.8 139.9 303.5 140.2 303.2 140.6 303.0 141.1 302.8 141.8 302.8 142.6 302.8 143.4 303.0 144.0 303.4 144.6 303.7 145.0 304.0 145.4 304.1 146.2 304.1 147.0 304.0 147.8 304.2 148.6 304.3 149.4 304.6 150.1 304.8 150.6 304.6 151.2 304.2 151.8 303.8 152.2 303.4 152.5 303.1 153.0 302.9 153.8 302.5 154.2 302.2 154.5 301.8 155.0 301.5 155.8 301.5 156.6 301.6 157.4 301.8 158.0 302.0 158.6 301.9 159.4 301.6 159.8 301.1 160.2 300.6 160.5 300.2 160.9 299.9 161.4 299.4 161.5 299.0 161.3 298.2 161.2 297.5 161.4 297.0 161.7 296.6 162.2 296.3 162.6 295.9 163.0 295.4 163.3 294.6 163.7Z" fill="#fff"/><g clip-path="url(#clip31)"><path d="M303.8 134.9 303.2 135.4 303.4 136.2 303.8 136.6 304.2 136.9 304.6 137.1 305.3 137.4 306.2 137.5 M300.8 154.6 301.4 154.3 301.8 154.1 302.2 153.9 302.6 153.6 303.0 153.3 303.3 153.0 303.6 152.6 303.7 151.8 303.5 151.4 303.0 151.1 302.4 151.0 301.8 151.0 301.0 151.2 300.2 151.3 299.4 151.5 298.9 151.8 298.5 152.2 298.2 152.6 297.9 153.4 298.1 154.2 298.6 154.5 299.4 154.8 300.2 154.8 300.8 154.6Z M278.2 159.4 279.0 159.2 279.7 159.0 280.2 158.7 280.2 158.0 279.8 157.6 279.2 157.4 278.6 157.3 277.8 157.1 277.3 157.0 276.6 156.8 275.8 156.8 275.1 157.0 274.6 157.3 274.2 157.8 274.0 158.6 274.2 159.0 274.6 159.3 275.0 159.5 275.8 159.7 276.6 159.7 277.4 159.6 278.2 159.4Z M293.2 163.4 293.4 163.0 293.8 162.2 294.0 161.8 294.4 161.4 294.8 161.0 294.9 160.2 294.6 159.7 294.2 159.3 293.8 159.0 293.2 159.0 292.6 159.3 292.3 159.8 292.1 160.6 292.1 161.4 292.1 162.2 292.3 163.0 292.6 163.6 293.2 163.4Z M301.6 162.2 301.4 161.4 300.6 161.8 301.0 162.5 301.6 162.2Z M301.8 134.2 302.1 134.6 302.1 135.4 302.1 136.2 302.4 136.6 303.0 137.0 303.4 137.2 303.8 137.4 304.2 137.7 304.6 138.0 305.0 138.4 305.4 138.7 305.8 138.9 306.6 139.0 M290.7 144.6 291.1 144.2 290.8 143.4 290.6 143.0 290.3 142.6 289.9 142.2 289.4 142.0 289.1 142.6 289.3 143.4 289.7 144.2 290.2 144.5Z M301.4 145.8 301.4 145.0 301.4 145.8Z M301.6 155.0 302.2 154.8 302.6 154.6 303.0 154.3 303.4 153.9 303.8 153.4 304.0 153.0 304.3 152.6 304.5 151.8 304.2 151.0 303.8 150.7 303.0 150.4 302.2 150.4 301.4 150.5 300.8 150.6 300.2 150.7 299.4 150.9 298.6 151.3 298.2 151.7 297.8 152.2 297.6 152.6 297.4 153.0 297.1 153.4 296.8 153.8 296.2 154.2 295.8 154.4 295.2 155.0 295.8 155.1 296.6 154.8 297.4 154.8 298.0 155.0 298.6 155.1 299.4 155.3 300.2 155.3 301.0 155.2 301.6 155.0Z M273.0 159.9 273.6 159.8 274.2 159.9 275.0 160.1 275.8 160.2 276.6 160.1 277.4 159.9 278.0 159.8 278.6 159.7 279.4 159.5 280.1 159.4 280.6 159.2 281.0 158.9 281.1 158.2 280.9 157.8 280.6 157.5 280.2 157.2 279.7 157.0 279.0 156.9 278.2 156.8 277.5 156.6 277.0 156.5 276.2 156.2 275.4 156.1 274.6 156.5 274.2 156.7 273.8 157.1 273.4 157.4 273.0 157.7 272.2 158.0 M270.6 157.7 269.8 157.8 269.5 158.2 M287.2 159.0 287.6 158.6 287.4 158.2 286.6 158.1 285.8 158.4 285.8 159.0 286.6 159.2 287.2 159.0Z M293.4 165.4 293.6 165.0 293.9 164.2 294.2 163.5 294.5 163.0 294.9 162.6 295.4 162.4 296.2 162.4 297.0 161.8 296.9 161.0 296.6 160.6 296.2 160.2 295.8 159.9 295.4 159.5 295.0 159.1 294.6 158.7 294.2 158.4 293.4 158.2 292.6 158.4 292.2 158.7 291.8 159.3 291.7 159.8 291.6 160.6 291.5 161.4 291.5 162.2 291.6 163.0 291.8 163.6 292.0 164.2 292.2 164.6 292.6 165.3 293.0 165.6 293.4 165.4Z M302.2 160.8 301.4 160.6 300.6 160.8 300.2 161.1 299.9 161.4 299.7 162.2 300.2 162.9 300.6 163.1 301.4 163.2 M300.6 134.6 300.8 135.0 300.8 135.8 300.6 136.4 300.5 137.0 301.0 137.7 301.8 137.7 302.6 137.7 303.4 138.1 303.8 138.4 304.2 139.0 304.4 139.4 304.9 139.8 305.4 139.9 M292.1 145.4 292.2 144.6 291.9 143.8 291.5 143.0 291.3 142.6 291.1 142.2 290.8 141.8 290.4 141.4 289.9 141.0 289.4 140.8 288.6 140.8 288.0 141.0 287.6 141.4 287.8 142.2 288.0 142.6 288.2 143.0 288.5 143.8 288.9 144.6 289.4 145.0 289.8 145.2 290.5 145.4 291.0 145.5 291.8 145.6Z M302.4 147.4 302.6 147.0 302.6 146.2 302.4 145.4 302.3 144.6 302.3 143.8 302.5 143.0 302.8 142.2 303.0 141.4 302.7 141.0 301.8 141.2 301.4 141.5 301.0 142.0 300.6 142.6 300.2 143.4 299.9 144.2 299.8 145.0 300.1 145.8 300.5 146.6 300.7 147.0 301.2 147.4 301.8 147.7 302.4 147.4Z M297.1 145.0 297.5 144.6 297.4 143.8 297.1 143.4 296.7 143.0 296.2 142.8 295.4 142.9 295.1 143.4 295.1 144.2 295.4 144.9 295.8 145.2 296.6 145.2 297.1 145.0Z M282.7 148.6 283.0 148.3 283.3 147.8 283.0 147.3 282.2 147.3 281.7 147.4 281.0 147.7 280.6 148.0 280.6 148.6 281.0 148.8 281.8 148.9 282.6 148.6Z M306.2 150.2 305.8 150.5 305.0 150.4 304.5 150.2 303.8 149.9 303.3 149.8 302.6 149.6 301.8 149.6 301.2 149.8 300.6 150.0 299.9 150.2 299.4 150.3 298.8 150.6 298.2 151.0 297.9 151.4 297.6 151.8 297.3 152.2 297.1 152.6 296.7 153.0 296.2 153.4 295.4 153.7 294.6 154.0 294.2 154.3 293.9 155.0 293.9 155.8 294.1 156.2 294.6 156.4 295.3 156.2 295.8 156.0 296.3 155.8 297.0 155.6 297.8 155.5 298.6 155.6 299.4 155.7 300.2 155.7 301.0 155.7 301.8 155.6 302.6 155.7 303.4 155.4 M303.4 155.4 303.7 154.6 304.0 154.2 304.2 153.8 304.5 153.4 304.8 153.0 M273.8 160.7 274.6 160.6 275.4 160.6 276.0 160.6 276.6 160.5 277.4 160.3 278.2 160.1 279.0 160.0 279.8 159.9 280.3 159.8 281.0 159.7 281.6 159.4 282.0 159.0 281.9 158.2 281.7 157.8 281.3 157.4 281.0 157.1 280.6 156.8 279.8 156.5 279.0 156.4 278.2 156.3 277.7 156.2 277.0 155.9 276.6 155.7 276.2 155.5 275.4 155.3 274.9 155.4 274.2 155.8 273.8 156.1 273.4 156.4 273.0 156.6 272.2 156.9 271.4 156.9 270.6 156.8 269.9 156.6 269.0 156.6 268.6 157.0 268.6 157.8 268.8 158.6 M303.4 156.0 303.2 156.6 303.1 157.4 303.0 158.2 302.8 159.0 302.6 159.5 302.2 159.8 301.4 160.1 300.6 160.3 299.8 160.6 299.4 160.8 299.0 161.1 298.6 161.3 298.2 161.1 297.8 160.7 297.4 160.3 297.0 160.0 296.6 159.7 296.2 159.4 295.8 159.1 295.4 158.7 295.0 158.2 294.6 157.8 294.2 157.5 293.4 157.4 292.6 157.7 292.2 158.0 291.8 158.2 291.4 158.6 291.2 159.0 291.1 159.8 291.1 160.6 291.1 161.4 291.1 162.2 291.2 163.0 291.4 163.8 291.7 164.6 291.8 165.1 292.0 165.8 M287.1 159.8 287.8 159.6 288.2 159.3 288.6 159.1 289.0 158.7 289.3 158.2 289.0 157.6 288.6 157.2 287.8 157.2 287.0 157.3 286.2 157.5 285.4 157.7 284.6 158.1 284.3 158.6 284.6 159.1 285.0 159.5 285.4 159.7 286.2 159.9 287.0 159.8Z M294.4 165.4 294.6 164.6 294.8 164.2 295.1 163.8 295.8 163.4 296.6 163.2 297.4 162.7 297.8 162.4 298.2 162.2 299.0 162.5 299.4 162.9 299.8 163.2 300.2 163.5 301.0 163.7 M299.6 135.4 299.6 136.2 299.6 137.0 299.7 137.8 300.1 138.2 300.6 138.5 301.4 138.7 302.2 138.8 302.6 139.0 302.4 139.8 301.9 140.2 301.5 140.6 301.1 141.0 300.8 141.4 300.5 141.8 300.2 142.2 300.0 142.6 299.7 143.0 299.4 143.4 299.0 143.7 298.2 143.5 297.8 143.2 297.4 142.8 297.0 142.5 296.6 142.2 296.2 142.0 295.5 141.8 294.6 142.1 294.2 142.6 293.9 143.4 293.8 144.0 293.1 143.8 292.8 143.4 292.5 143.0 292.2 142.6 291.9 142.2 291.7 141.8 291.4 141.4 291.1 141.0 290.8 140.6 290.2 140.2 289.4 140.1 288.6 140.1 287.8 140.3 287.0 140.6 286.6 140.8 286.2 141.0 285.8 141.3 285.0 141.3 284.2 141.3 283.4 141.8 283.2 142.2 283.2 143.0 283.4 143.8 283.6 144.2 283.9 144.6 284.6 144.7 285.0 144.2 285.2 143.8 285.4 143.4 285.6 143.0 285.9 142.6 286.6 142.5 287.0 142.7 287.3 143.0 287.6 143.4 287.8 143.9 287.9 144.6 288.2 145.3 289.0 145.6 289.8 145.7 290.6 146.0 291.1 146.2 291.8 146.6 292.2 146.9 292.6 147.4 292.3 148.2 292.0 148.6 291.8 149.0 291.7 149.8 291.8 150.3 292.2 150.8 292.6 151.0 293.4 151.0 293.7 150.6 293.9 149.8 293.9 149.0 293.8 148.5 293.4 147.8 293.2 147.4 293.4 146.7 293.7 146.2 294.2 145.8 295.0 146.1 295.8 146.2 296.6 146.0 297.3 145.8 297.8 145.6 298.6 145.5 299.0 145.7 299.4 146.2 299.6 146.6 299.8 147.0 300.0 147.4 300.2 147.8 300.5 148.6 300.2 149.1 299.8 149.4 299.4 149.7 299.0 149.9 298.6 150.1 298.2 150.4 297.8 150.8 297.4 151.3 297.1 151.8 296.8 152.2 296.4 152.6 295.8 153.0 295.0 153.2 294.2 153.4 293.8 153.7 293.5 154.2 293.2 155.0 293.1 155.8 292.8 156.6 292.5 157.0 291.9 157.4 291.4 157.6 290.6 157.7 290.1 157.4 289.6 157.0 289.1 156.6 288.6 156.3 287.8 156.3 287.1 156.6 286.6 156.8 285.8 157.0 285.0 157.2 284.3 157.4 283.8 157.7 283.0 157.8 282.2 157.4 281.8 157.0 281.4 156.6 281.0 156.2 280.6 156.0 279.8 155.8 279.0 155.9 278.2 155.8 277.4 155.5 277.0 155.2 276.6 154.7 276.2 154.3 275.8 154.1 275.0 154.1 274.2 154.5 273.8 154.8 273.4 155.1 273.1 155.4 272.6 155.7 271.8 156.0 271.0 156.0 270.3 155.8 269.8 155.7 269.0 155.6 268.2 155.8 267.8 156.0 267.4 156.2 267.1 156.6 M305.8 148.7 305.4 149.0 304.6 149.2 304.0 149.0 303.5 148.6 303.3 147.8 303.3 147.0 303.1 146.2 303.0 145.7 302.8 145.0 302.8 144.2 302.9 143.4 303.2 142.6 303.4 142.2 303.6 141.8 304.0 141.4 304.5 141.0 305.0 140.8 M272.2 144.5 271.9 145.0 272.2 145.8 272.5 146.2 273.0 146.5 273.8 146.7 M283.4 149.4 284.1 149.0 284.6 148.6 285.0 148.3 285.4 147.9 285.8 147.5 286.2 147.1 286.5 146.6 285.9 146.2 285.0 146.0 284.6 145.7 283.8 145.7 283.4 145.9 283.0 146.1 282.6 146.3 282.0 146.6 281.4 146.9 280.6 147.2 280.1 147.4 279.5 147.8 279.4 148.6 279.6 149.0 280.2 149.4 281.0 149.7 281.8 149.8 282.6 149.7 283.4 149.4Z M300.2 159.9 299.4 160.0 298.6 160.1 297.9 159.8 297.4 159.6 297.0 159.3 296.6 159.0 296.2 158.7 295.8 158.2 295.6 157.8 295.6 157.0 296.0 156.6 296.6 156.3 297.4 156.0 298.2 156.0 299.0 156.1 299.8 156.2 300.6 156.2 301.4 156.2 302.2 156.6 302.4 157.0 302.5 157.8 302.3 158.6 301.8 159.3 301.4 159.6 300.6 159.8Z M274.6 161.4 275.4 161.2 276.2 161.0 277.0 160.8 277.6 160.6 278.2 160.4 279.0 160.3 279.8 160.2 280.6 160.2 281.4 160.1 282.2 159.9 283.0 159.6 283.8 159.6 284.6 160.0 285.1 160.2 285.8 160.4 286.6 160.4 287.4 160.3 288.2 160.0 288.6 159.8 289.4 159.5 290.2 159.6 290.5 160.2 290.6 160.8 290.6 161.4 290.6 162.2 290.7 163.0 291.0 163.8 291.2 164.6 291.4 165.4 M295.5 164.6 295.8 164.3 296.2 164.0 M298.8 136.6 298.9 137.4 299.2 138.2 299.5 138.6 300.1 139.0 300.6 139.4 300.9 139.8 300.7 140.6 300.4 141.0 300.2 141.4 299.9 141.8 299.7 142.2 299.3 142.6 298.6 142.8 298.0 142.6 297.5 142.2 297.0 141.8 296.6 141.5 296.2 141.3 295.5 141.0 294.6 140.9 293.8 141.2 293.2 141.4 292.6 141.3 292.2 140.8 291.9 140.2 M289.6 137.8 289.7 138.6 289.4 139.1 289.0 139.4 288.2 139.7 287.7 139.8 287.0 140.0 286.2 140.1 285.4 140.2 284.6 140.0 M282.6 141.4 282.4 142.2 282.5 143.0 282.7 143.8 282.9 144.6 282.7 145.4 282.4 145.8 281.8 146.2 281.4 146.4 280.9 146.6 280.2 146.9 279.4 147.2 279.0 147.4 278.7 147.8 278.7 148.6 279.0 149.2 279.4 149.6 279.8 149.9 280.2 150.1 281.0 150.4 281.5 150.6 282.2 150.9 282.6 151.1 283.0 151.4 282.7 151.8 282.2 152.1 281.8 152.4 281.4 152.6 281.0 152.8 280.6 153.0 280.2 153.3 279.8 153.8 279.5 154.6 279.1 155.0 278.2 155.0 277.8 154.7 277.6 154.2 277.4 153.8 277.0 153.4 276.2 153.2 275.4 153.1 274.6 153.2 274.0 153.4 273.4 153.8 273.0 154.1 272.6 154.4 272.2 154.7 271.8 154.9 271.0 155.1 270.4 155.0 269.8 154.9 269.0 154.9 268.2 155.0 267.4 155.2 266.6 155.1 M305.8 147.6 305.4 147.8 304.6 147.9 304.2 147.6 303.9 147.0 303.6 146.2 303.4 145.7 303.2 145.0 303.2 144.2 303.3 143.4 303.6 142.6 303.9 142.2 304.3 141.8 M271.6 143.8 271.2 144.2 271.0 144.8 271.1 145.4 271.3 145.8 271.7 146.2 272.1 146.6 272.6 146.9 273.0 147.1 273.8 147.3 274.6 147.2 275.0 146.9 275.4 146.6 275.8 146.3 276.2 145.9 276.6 145.4 276.8 145.0 277.0 144.2 276.8 143.4 M291.8 156.7 291.4 156.9 290.6 156.9 290.0 156.6 289.5 156.2 289.1 155.8 288.7 155.4 288.3 155.0 287.8 154.8 287.4 155.4 287.0 155.8 286.6 156.1 285.8 156.4 285.0 156.5 284.3 156.6 283.4 156.7 282.8 156.2 283.0 155.8 283.4 155.4 283.7 155.0 283.9 154.6 284.1 153.8 284.2 153.0 284.1 152.2 283.9 151.4 284.5 151.0 285.0 150.6 285.3 150.2 285.5 149.8 285.8 149.4 286.0 149.0 286.3 148.6 286.7 148.2 287.0 147.8 287.4 147.4 287.7 147.0 288.1 146.6 288.6 146.3 289.3 146.2 290.2 146.3 290.7 146.6 291.2 147.0 291.4 147.4 291.5 148.2 291.2 149.0 291.1 149.8 291.3 150.6 291.6 151.0 292.1 151.4 292.6 151.8 293.0 152.1 293.4 152.6 293.2 153.4 293.0 154.0 292.8 154.6 292.6 155.4 292.3 156.2 291.9 156.6Z M295.8 152.4 295.0 152.6 294.2 152.3 294.0 151.8 294.2 151.2 294.4 150.6 294.5 149.8 294.6 149.0 294.7 148.2 295.0 147.6 295.4 147.3 296.1 147.0 296.6 146.8 297.2 146.6 297.8 146.5 298.5 146.6 298.9 147.0 299.1 147.4 299.3 148.2 299.0 148.8 298.6 149.2 298.2 149.6 297.8 150.0 297.4 150.5 297.1 151.0 296.8 151.4 296.6 151.8 296.2 152.2 295.8 152.4Z M301.0 159.1 300.2 159.3 299.4 159.4 298.6 159.3 297.8 159.1 297.0 158.6 296.6 158.2 296.4 157.8 296.6 157.0 297.0 156.7 297.8 156.5 298.6 156.5 299.4 156.6 300.2 156.6 301.0 156.8 301.5 157.0 301.8 157.4 301.9 158.2 301.4 158.9 301.0 159.1Z M275.6 162.6 275.8 162.0 276.2 161.7 276.6 161.4 277.4 161.1 278.2 160.8 279.0 160.7 279.8 160.7 280.6 160.7 281.4 160.8 282.2 160.7 282.7 160.6 283.4 160.5 284.2 160.8 284.6 161.0 285.0 161.3 285.8 161.3 286.6 161.0 287.4 160.8 288.2 160.6 289.0 160.4 289.8 160.6 290.0 161.0 290.1 161.8 290.2 162.5 290.4 163.4 290.6 163.9 290.8 164.6 290.9 165.4 M285.9 163.0 285.8 162.5 285.4 161.9 285.0 161.6 284.2 162.0 283.8 162.6 283.9 163.4 M287.4 136.9 288.2 137.2 288.6 137.7 288.7 138.2 288.2 139.0 287.4 139.3 286.6 139.5 285.8 139.4 285.1 139.0 M298.3 137.8 298.6 138.5 299.0 139.0 299.4 139.3 299.8 139.7 300.0 140.2 299.8 141.0 299.6 141.4 299.3 141.8 298.6 142.1 297.8 141.8 297.4 141.5 297.0 141.1 296.6 140.7 296.2 140.5 295.8 140.2 295.0 139.9 M281.9 141.0 281.8 141.8 281.9 142.6 282.1 143.4 282.3 144.2 282.3 145.0 282.0 145.4 281.6 145.8 281.0 146.2 280.2 146.4 279.5 146.6 279.0 146.7 278.2 146.9 277.9 147.4 277.9 148.2 278.2 149.0 278.4 149.4 278.7 149.8 279.1 150.2 279.4 150.5 279.8 151.0 280.0 151.4 279.7 151.8 279.0 152.2 278.2 152.4 277.4 152.5 276.6 152.4 275.8 152.3 275.0 152.3 274.2 152.4 273.7 152.6 273.1 153.0 272.6 153.4 272.2 153.7 271.8 153.9 271.2 154.2 270.6 154.3 269.8 154.3 269.0 154.3 268.2 154.4 267.4 154.5 266.6 154.3 M305.8 146.7 305.4 146.9 304.6 146.9 304.2 146.4 303.9 145.8 303.6 145.0 303.5 144.2 303.7 143.4 304.1 142.6 304.5 142.2 M266.2 147.0 266.6 146.7 267.0 146.4 267.4 146.2 267.8 145.9 268.2 145.6 268.6 145.4 269.0 145.1 269.7 145.4 270.2 145.7 270.6 146.1 271.0 146.4 271.4 146.7 271.8 147.0 272.2 147.3 272.6 147.5 273.0 147.7 273.8 148.0 274.6 147.9 275.4 147.5 275.8 147.2 276.2 146.9 276.6 146.7 277.0 146.4 277.3 145.8 277.5 145.0 277.5 144.2 277.4 143.4 277.1 142.6 M270.3 143.0 270.1 143.4 269.8 143.7 269.4 144.2 269.0 144.4 268.2 144.3 M291.4 156.2 290.6 156.3 289.8 155.8 289.5 155.4 289.2 155.0 289.0 154.3 288.8 153.4 288.6 152.8 288.2 152.3 287.8 152.0 287.4 151.6 287.0 151.0 286.9 150.2 287.0 149.4 287.3 148.6 287.6 148.2 287.9 147.8 288.2 147.4 288.6 147.1 289.0 146.9 289.8 146.8 290.3 147.0 290.7 147.4 290.8 148.2 290.6 149.0 290.4 149.8 290.6 150.6 290.9 151.0 291.3 151.4 291.8 151.8 292.2 152.2 292.4 152.6 292.6 153.4 292.5 154.2 292.2 155.0 291.9 155.8 291.4 156.2Z M295.8 151.7 295.0 151.5 295.0 150.6 295.2 149.8 295.4 149.2 295.7 148.6 296.1 148.2 296.6 147.9 297.4 147.8 297.8 148.2 297.4 149.0 297.2 149.4 297.0 149.9 296.7 150.6 296.5 151.0 296.2 151.4 295.8 151.7Z M265.2 151.4 265.2 150.6 265.1 149.8 265.1 149.0 M285.8 155.5 285.2 155.4 284.9 155.0 285.2 154.2 285.5 153.8 286.2 154.1 286.3 154.6 286.2 155.1 285.8 155.5Z M300.2 158.7 299.4 158.7 298.8 158.6 298.2 158.4 297.7 158.2 297.4 157.8 297.8 157.2 298.6 157.1 299.4 157.2 300.2 157.3 300.7 157.4 301.1 157.8 300.6 158.6Z M276.9 163.0 276.9 162.2 277.2 161.8 277.8 161.4 278.6 161.2 279.4 161.2 280.1 161.4 280.6 161.8 280.4 162.6 279.8 163.0 279.4 163.3 279.0 163.6 M286.7 163.8 286.8 163.0 286.9 162.2 287.2 161.8 287.8 161.4 288.6 161.3 289.1 161.4 289.4 161.8 289.6 162.6 289.9 163.4 290.2 164.0 290.4 164.6 290.5 165.4 M280.3 164.2 280.6 163.8 280.9 163.4 281.2 163.0 281.8 162.7 282.5 163.0 282.9 163.4 283.1 163.8" fill="none" stroke="#000" stroke-width="1.45"/></g><polyline points="289.3,135.4 290.7,131.5 291.2,128.6 291.8,131.5 293.6,135.4" fill="none" stroke="#000" stroke-width="1"/>
<text transform="translate(14.2,142.0) rotate(-90)" style="font-family:'Liberation Serif','Times New Roman',serif;font-size:17.1px;font-weight:normal">CD56 (FITC)</text>
<text x="69.2" y="192.8" style="font-family:'Liberation Serif','Times New Roman',serif;font-size:17.2px;font-weight:normal">CD161 (PE)</text>
<line x1="157" y1="188" x2="296" y2="188" stroke="#000" stroke-width="2"/>
<polygon points="294.6,183.6 308.6,188.2 294.6,192.9" fill="#000" stroke="#000" stroke-width="0.5" stroke-linejoin="round"/>
<line x1="28.3" y1="235.2" x2="162.6" y2="235.2" stroke="#777" stroke-width="1"/>
<line x1="162.6" y1="235.2" x2="162.6" y2="371.3" stroke="#777" stroke-width="1"/>
<line x1="93.7" y1="235.2" x2="93.7" y2="371.3" stroke="#888" stroke-width="1.3"/>
<line x1="28.3" y1="302.9" x2="162.6" y2="302.9" stroke="#777" stroke-width="1.1"/>
<line x1="28.3" y1="371.3" x2="162.6" y2="371.3" stroke="#000" stroke-width="1.5"/>
<line x1="28.3" y1="235.2" x2="28.3" y2="371.3" stroke="#000" stroke-width="1.5"/>
<path d="M120.6 304.1 119.8 304.1 119.0 303.8 118.6 303.5 118.2 303.3 117.8 303.0 117.4 302.6 117.1 302.0 116.8 301.2 116.6 300.6 116.2 300.0 115.8 299.7 115.4 299.4 115.0 299.2 114.6 298.9 114.2 298.6 113.8 298.3 113.4 298.0 113.0 297.8 112.2 297.4 111.5 297.2 111.0 297.0 110.5 296.8 109.8 296.5 109.0 296.7 108.6 297.1 108.2 297.6 107.8 298.0 107.5 298.4 107.3 298.8 107.0 299.6 107.0 300.4 107.1 301.2 106.8 302.0 106.6 302.4 106.3 302.8 106.0 303.2 105.4 303.5 104.6 303.2 104.2 303.0 103.8 302.7 103.0 302.5 102.2 302.8 101.4 303.1 100.6 303.1 99.8 302.9 99.0 302.6 98.6 302.4 98.2 302.1 97.8 301.7 97.4 301.2 97.1 300.8 96.6 300.6 95.8 300.9 95.0 301.1 94.2 301.0 93.8 300.8 93.2 300.4 92.7 300.0 92.3 299.6 91.9 299.2 91.6 298.8 91.5 298.0 91.5 297.2 91.3 296.4 91.0 296.0 90.6 295.6 90.2 295.3 89.8 295.1 89.0 294.8 88.2 294.7 87.6 295.2 87.5 296.0 87.4 296.8 87.4 297.6 87.2 298.4 87.0 298.9 86.6 299.5 86.2 299.9 85.8 300.2 85.3 300.4 84.6 300.6 84.0 300.8 83.4 301.2 83.0 301.5 82.2 301.7 81.6 301.6 81.0 301.3 80.6 301.0 80.2 300.5 79.9 300.0 79.6 299.2 79.5 298.4 79.5 297.6 79.8 296.8 80.2 296.4 80.6 296.2 81.4 296.0 82.2 295.8 82.6 295.6 83.0 295.2 83.2 294.8 83.4 294.3 83.6 293.6 83.6 292.8 83.7 292.0 84.1 291.2 84.6 290.8 85.0 290.6 85.5 290.4 85.8 290.0 85.4 289.5 85.0 289.1 84.6 288.8 83.8 288.6 83.0 288.8 82.6 289.1 82.2 289.6 82.0 290.0 81.6 290.8 81.4 291.2 81.1 291.6 80.7 292.0 80.2 292.2 79.8 292.4 79.0 292.8 78.7 293.2 78.6 294.0 78.7 294.8 78.5 295.6 78.2 296.0 77.8 296.4 77.4 296.8 77.1 297.2 76.7 297.6 76.2 298.0 75.5 298.0 75.0 297.9 74.5 297.6 73.8 297.2 73.4 296.9 73.0 296.6 72.6 296.2 72.3 295.6 72.1 294.8 72.2 294.2 72.5 293.6 72.7 293.2 72.9 292.8 73.3 292.0 73.4 291.3 73.5 290.4 74.1 290.0 74.6 289.7 75.0 289.3 75.4 288.9 75.8 288.5 76.2 288.1 76.6 287.8 77.0 287.5 77.4 287.2 77.8 286.9 78.2 286.4 78.4 286.0 78.5 285.2 78.4 284.4 78.2 283.6 78.0 283.2 77.7 282.8 77.0 282.5 76.2 282.8 75.8 283.0 75.4 283.2 75.0 283.4 74.2 283.8 73.4 283.9 72.8 283.6 72.2 283.5 71.7 283.6 71.4 283.9 71.8 284.7 72.6 284.8 73.0 285.0 73.2 285.6 73.3 286.4 73.2 287.2 73.1 288.0 73.1 288.8 73.2 289.6 73.0 290.2 72.6 290.4 71.8 290.5 71.0 290.5 70.2 290.5 69.4 290.4 68.6 290.1 68.6 289.4 68.9 288.8 69.1 288.4 69.3 288.0 69.6 287.2 69.4 286.8 68.6 287.1 67.8 287.4 67.1 287.6 66.3 287.6 65.8 287.2 65.6 286.8 65.6 286.0 65.8 285.2 66.1 284.8 66.5 284.4 67.0 284.0 67.4 283.7 67.8 283.3 68.2 282.8 68.6 282.4 69.0 282.0 69.3 281.6 69.5 280.8 69.2 280.0 68.9 279.6 68.7 279.2 68.4 278.8 68.2 278.3 67.9 277.6 67.5 276.8 67.0 276.5 66.3 276.8 65.8 277.1 65.4 277.3 64.7 277.6 64.2 277.8 63.5 278.0 62.6 278.2 61.8 278.1 61.4 277.7 61.1 277.2 60.9 276.4 61.0 275.8 61.3 275.2 61.6 274.8 62.0 274.4 62.5 274.0 63.0 273.7 63.4 273.4 63.8 273.2 64.2 273.0 64.8 272.8 65.4 272.8 66.2 273.2 66.6 273.4 67.0 273.7 67.4 273.9 68.2 274.1 69.0 273.8 69.4 273.5 69.8 273.1 70.2 272.5 70.4 272.0 70.8 271.2 71.0 270.5 71.1 269.6 71.0 268.8 71.1 268.0 71.4 267.7 71.8 267.2 72.1 266.8 72.4 266.4 72.6 266.0 72.9 265.6 73.1 265.2 73.4 264.8 73.7 264.4 74.2 264.0 74.6 263.7 75.0 263.4 75.4 263.1 75.8 262.9 76.2 262.6 76.9 262.4 77.8 262.5 78.4 262.4 78.7 262.0 79.0 261.6 79.4 261.2 79.8 260.9 80.2 260.7 80.6 260.4 81.0 260.2 81.4 259.8 81.6 259.2 81.5 258.4 81.2 257.6 81.0 257.1 80.6 256.5 80.2 256.2 79.8 256.0 79.0 255.6 78.6 255.4 78.2 255.2 77.4 254.9 76.6 254.9 75.8 255.1 75.4 255.4 75.0 255.7 74.6 256.3 74.3 256.8 74.0 257.2 73.4 257.6 72.6 257.9 72.2 258.2 71.8 258.7 71.6 259.2 71.4 259.8 71.2 260.4 70.7 261.2 70.3 261.6 69.9 262.0 69.7 262.4 69.4 263.0 69.2 263.6 69.0 264.4 69.1 265.2 69.4 266.0 69.7 266.4 69.9 266.8 70.2 267.2 70.5 267.6 70.8 268.0 70.6 268.4 70.2 268.7 69.8 269.0 69.4 269.3 69.0 269.5 68.2 269.8 67.4 269.8 66.7 269.6 66.2 269.3 65.8 268.9 65.4 268.6 65.0 268.2 64.6 267.8 64.2 267.3 63.9 266.8 63.6 266.4 63.0 266.1 62.2 265.9 61.4 265.8 60.6 265.7 59.9 266.0 59.7 266.4 59.7 267.2 60.0 268.0 60.2 268.6 60.2 269.2 60.1 270.0 60.3 270.8 60.6 271.6 60.6 272.4 60.3 273.2 59.9 273.6 59.4 273.9 59.0 274.3 58.7 274.8 58.5 275.6 58.3 276.4 57.9 277.2 57.6 277.6 57.3 278.0 57.0 278.3 56.6 278.7 56.2 279.2 55.9 279.6 55.7 280.4 55.9 281.2 56.2 282.0 56.4 282.4 57.0 282.5 57.4 282.2 57.8 281.8 58.2 281.3 58.6 280.9 59.0 280.6 59.8 280.5 60.6 280.7 61.0 280.9 61.3 281.2 61.7 281.6 62.1 282.0 62.4 282.4 62.7 282.8 62.9 283.2 63.2 284.0 63.4 284.8 63.4 285.6 63.4 286.3 63.6 287.2 63.8 287.6 64.2 287.9 65.0 288.2 65.4 288.4 65.7 288.8 66.0 289.2 66.3 289.6 66.7 290.0 67.2 290.4 67.7 290.8 67.9 291.2 68.2 291.9 68.4 292.4 68.6 292.8 68.9 293.6 69.0 294.4 68.8 295.2 68.6 295.7 68.2 296.3 67.8 296.6 67.4 296.9 66.7 297.2 66.2 297.4 65.5 297.6 65.0 297.7 64.2 297.8 63.6 297.6 63.0 297.3 62.6 297.1 61.8 296.8 61.0 296.6 60.3 296.4 59.8 296.1 59.4 295.8 59.0 295.2 58.7 294.8 58.5 294.4 58.2 294.0 58.0 293.6 57.8 293.1 57.6 292.4 57.1 291.6 56.7 291.2 56.2 290.9 55.8 290.7 55.2 290.4 54.6 290.2 54.1 290.0 53.4 289.7 53.0 289.4 52.6 289.0 52.2 288.4 51.9 288.0 51.6 287.2 51.6 286.4 51.7 285.6 51.7 284.8 51.4 284.3 51.0 283.9 50.6 283.6 50.2 283.4 49.7 283.2 49.0 283.0 48.2 283.0 47.4 283.0 46.6 282.9 45.8 282.4 45.4 282.0 45.2 281.6 45.0 281.2 44.6 280.8 43.8 280.6 43.4 280.4 42.7 280.0 42.2 279.6 41.8 279.2 41.4 278.8 41.0 278.4 40.8 278.0 40.4 277.2 40.2 276.6 40.0 276.0 39.8 275.3 39.7 274.4 40.1 273.6 40.5 273.2 40.7 272.8 41.0 272.2 41.1 271.6 41.2 270.8 41.3 270.0 41.5 269.2 41.4 268.4 41.0 268.1 40.2 268.0 39.4 268.2 38.8 268.4 38.2 268.6 37.4 268.6 36.9 268.4 36.6 268.1 36.3 267.6 36.0 266.8 35.9 266.0 36.0 265.2 36.2 264.7 36.6 264.0 36.9 263.6 37.2 263.2 37.6 262.8 38.0 262.4 38.4 262.0 38.7 261.6 39.0 261.2 39.2 260.8 39.5 260.4 40.0 260.0 40.6 259.8 41.4 259.8 42.2 259.2 42.5 258.8 42.8 258.4 43.2 258.0 43.5 257.6 44.0 257.2 44.3 256.8 44.7 256.4 45.0 256.0 45.4 255.6 45.8 255.3 46.2 255.0 47.0 254.7 47.8 254.6 48.6 254.8 49.0 255.2 49.1 256.0 48.7 256.8 48.5 257.2 48.2 257.5 47.8 258.0 47.5 258.4 47.4 259.2 47.8 259.6 48.2 259.8 48.7 260.0 49.4 260.2 49.8 260.4 50.6 260.8 51.0 261.0 51.4 261.3 51.8 261.5 52.4 261.2 52.4 260.4 52.2 260.0 51.9 259.6 51.6 259.2 51.3 258.8 51.0 258.2 50.9 257.6 51.0 256.8 51.1 256.0 51.4 255.4 51.8 255.0 52.2 254.8 53.0 254.6 53.8 254.7 54.6 255.0 55.4 255.1 56.2 254.9 56.6 254.7 57.1 254.4 57.8 254.1 58.6 253.9 59.4 253.6 60.2 253.2 60.6 253.0 61.0 252.8 61.8 252.5 62.6 252.4 63.4 252.5 64.2 252.5 64.7 252.4 65.4 252.2 66.2 252.1 67.0 252.3 67.4 252.6 67.8 252.9 68.1 253.2 68.5 253.6 68.8 254.0 69.2 254.4 69.8 254.8 70.2 255.0 71.0 255.1 71.8 255.0 72.6 254.9 73.4 254.5 73.8 254.2 74.2 253.8 74.6 253.4 75.0 253.1 75.8 253.0 76.6 253.0 77.4 253.0 78.2 252.9 79.0 252.8 79.8 252.9 80.6 253.1 81.4 253.3 82.2 253.4 83.0 253.4 83.6 253.6 84.2 253.8 85.0 254.2 85.8 254.3 86.6 254.1 87.0 253.9 87.4 253.4 87.7 252.8 88.0 252.0 88.5 251.2 88.8 250.8 89.2 250.4 89.6 250.0 90.1 249.6 90.6 249.3 91.4 249.0 92.2 248.9 93.0 248.9 93.8 248.9 94.6 248.9 95.4 249.0 95.8 249.2 96.2 249.5 97.0 249.7 97.8 249.7 98.6 250.0 99.0 250.2 99.4 250.6 99.7 251.2 100.0 252.0 100.5 252.8 101.0 253.1 101.8 253.0 102.2 252.8 102.6 252.5 103.0 252.2 103.5 252.0 104.2 251.9 105.0 252.1 105.8 252.3 106.6 252.4 107.4 252.4 108.2 252.4 109.0 252.3 109.8 252.2 110.6 252.1 111.3 252.0 111.8 251.9 112.6 251.7 113.4 251.5 114.2 251.4 115.0 251.3 115.8 251.2 116.6 251.2 117.4 251.2 118.2 251.2 119.0 251.2 119.8 251.2 120.6 251.3 121.4 251.3 122.2 251.4 123.0 251.5 123.8 251.7 124.5 252.0 125.0 252.2 125.5 252.4 126.2 252.7 127.0 253.0 127.6 253.2 128.2 253.4 128.9 253.6 129.4 253.7 130.1 254.0 130.6 254.2 131.2 254.4 131.8 254.6 132.6 254.9 133.3 255.2 133.8 255.3 134.6 255.6 135.4 255.7 136.2 255.9 137.0 256.1 137.8 256.2 138.6 256.2 139.4 256.2 140.2 256.4 141.0 256.7 141.4 256.9 141.8 257.2 142.2 257.6 142.6 257.9 143.0 258.2 143.4 258.4 144.2 258.7 145.0 258.9 145.8 259.2 146.6 259.5 147.0 259.8 147.4 260.1 147.8 260.7 148.0 261.2 148.2 262.0 148.5 262.8 148.7 263.2 148.9 263.6 149.1 264.0 149.4 264.8 149.5 265.6 149.5 266.4 149.2 267.2 148.8 267.6 148.3 268.0 147.8 268.3 147.4 268.7 147.1 269.2 147.1 270.0 147.0 270.8 146.9 271.6 146.6 272.4 146.3 273.2 145.9 274.0 145.7 274.4 145.5 274.8 145.3 275.2 145.0 275.7 144.7 276.4 144.3 277.2 144.1 277.6 143.8 278.2 143.5 278.8 143.2 279.6 143.0 280.0 142.6 280.7 142.3 281.2 142.1 281.6 141.8 282.3 141.6 283.2 141.4 284.0 141.2 284.8 141.0 285.6 140.8 286.4 140.7 287.2 140.5 288.0 140.2 288.8 140.0 289.6 139.8 290.2 139.4 290.8 139.1 291.2 138.7 291.6 138.4 292.0 138.1 292.4 137.8 293.2 137.8 294.0 137.7 294.8 137.4 295.5 137.0 296.0 136.6 296.4 136.2 296.7 135.8 296.9 135.4 297.1 135.0 297.3 134.6 297.5 134.2 297.8 133.8 298.3 133.5 298.8 133.1 299.6 132.8 300.0 132.4 300.4 131.8 300.7 131.0 301.0 130.2 301.1 129.8 300.8 129.8 300.0 129.9 299.2 130.2 298.4 130.6 297.6 130.8 297.2 131.0 296.4 130.7 295.6 130.3 295.2 129.9 294.8 129.4 294.5 129.0 294.2 128.6 294.0 127.8 293.7 127.0 293.7 126.3 294.0 126.0 294.4 125.8 294.8 125.6 295.6 125.4 296.4 125.7 297.2 125.9 297.6 126.2 298.0 126.4 298.4 126.7 298.8 127.0 299.5 127.1 300.0 127.4 300.8 127.6 301.2 128.0 301.6 128.4 302.0 128.2 302.8 127.8 303.2 127.4 303.4 127.0 303.7 126.2 303.9 125.4 303.8 125.0 303.5 124.6 302.8 124.6 302.0 124.2 301.2 123.8 300.8 123.4 300.6 123.0 300.3 122.6 300.1 122.2 299.9 121.8 299.6 121.4 299.3 121.0 299.1 120.6 298.8 119.8 298.7 119.1 299.2 119.2 300.0 119.5 300.4 120.0 300.8 120.6 301.2 121.0 301.5 121.4 301.9 121.7 302.4 121.7 303.2 121.5 303.6 121.0 304.0Z M94.7 259.6 95.1 259.2 95.3 258.8 95.5 258.4 95.8 257.6 96.0 256.8 96.2 256.2 96.6 255.6 96.8 255.2 96.7 254.4 96.4 254.0 95.8 253.6 95.0 253.6 94.2 253.6 93.4 253.4 92.6 253.2 91.8 253.3 91.5 253.6 91.3 254.0 91.2 254.8 91.6 255.6 91.9 256.0 92.2 256.4 92.4 256.8 92.5 257.6 92.6 258.3 92.8 258.8 93.1 259.2 93.4 259.6 93.8 259.9 94.6 259.7Z M63.9 260.0 64.1 259.6 64.3 258.8 64.4 258.0 64.4 257.2 64.2 256.7 63.8 256.1 63.4 255.9 62.7 256.0 62.4 256.4 62.2 257.2 62.4 258.0 62.6 258.6 62.9 259.2 63.3 260.0 63.8 260.2Z M76.2 260.4 75.5 260.0 75.3 259.6 75.8 259.3 76.2 259.6 76.4 260.0 76.2 260.4Z M42.3 261.6 42.2 261.1 41.7 261.2 42.2 261.8Z M96.7 264.0 97.4 263.6 97.5 262.8 97.0 262.5 96.2 262.4 95.4 262.2 94.6 262.1 93.9 262.4 93.8 263.0 94.2 263.3 94.8 263.6 95.4 263.8 96.1 264.0 96.7 264.0Z M101.2 270.8 101.6 270.4 101.9 270.0 102.1 269.6 102.5 268.8 102.7 268.0 102.9 267.2 102.6 266.5 102.0 266.4 101.4 266.8 101.1 267.2 100.9 267.6 100.6 268.2 100.4 268.8 100.2 269.4 100.1 270.0 100.4 270.8 101.0 271.0Z M53.3 270.4 54.2 270.4 55.0 270.3 55.8 270.2 56.4 270.0 57.0 269.7 57.4 269.2 57.4 268.4 57.0 267.7 56.6 267.5 55.9 267.2 55.4 267.1 54.6 267.0 53.8 266.9 53.0 267.0 52.5 267.2 52.0 267.6 51.6 268.0 51.4 268.8 51.6 269.6 51.9 270.0 52.2 270.3 52.9 270.4Z M87.8 270.4 87.4 269.9 86.6 270.0 87.0 270.7 87.8 270.4Z M80.0 278.4 80.2 278.0 79.8 277.3 79.4 276.9 79.0 276.6 78.6 276.3 78.2 276.0 77.8 275.6 77.4 275.2 76.6 275.1 76.2 275.5 75.9 276.0 75.7 276.4 75.4 276.8 75.1 277.2 74.6 277.6 74.2 277.9 74.6 278.5 75.4 278.2 76.2 278.0 77.0 277.9 77.8 278.0 78.6 278.3 79.4 278.5 80.0 278.4Z M46.7 280.0 47.2 279.6 47.4 279.1 47.0 278.6 46.6 278.4 45.8 278.3 45.3 278.4 45.0 278.8 44.9 279.6 45.0 280.2 45.8 280.3 46.6 280.0Z M83.2 280.0 83.6 279.6 83.8 279.2 84.1 278.4 83.4 278.0 82.6 278.1 81.8 278.3 81.4 278.6 81.2 279.2 81.8 280.0 82.2 280.2 83.0 280.1Z M65.8 281.5 65.1 281.2 65.4 280.8 66.0 281.2Z M89.0 285.6 89.2 285.2 89.6 284.4 89.8 283.6 90.0 282.8 89.8 282.1 89.4 281.8 88.6 281.6 87.8 281.9 87.4 282.2 87.0 282.5 86.6 282.8 86.2 283.1 85.8 283.4 85.3 283.6 84.6 284.0 84.2 284.3 84.0 284.8 84.6 285.2 85.4 285.3 86.2 285.5 87.0 285.8 87.8 285.9 88.6 285.9 89.0 285.6Z M99.2 287.2 99.4 286.4 99.3 285.6 99.1 284.8 98.8 284.0 98.6 283.5 98.2 282.8 97.8 282.5 97.0 282.2 96.4 282.4 95.9 282.8 95.5 283.2 95.3 283.6 95.1 284.4 95.2 285.2 95.4 285.7 95.8 286.4 96.0 286.8 96.4 287.2 97.0 287.4 97.8 287.5 98.6 287.5 99.2 287.2Z M109.8 295.2 110.1 294.4 109.8 293.6 109.5 293.2 109.2 292.8 109.0 292.4 108.7 292.0 108.5 291.6 108.2 291.2 107.8 290.8 107.4 290.6 106.8 290.4 106.2 290.3 105.4 290.1 105.0 289.9 104.6 289.6 104.2 289.4 103.8 289.2 103.0 289.0 102.4 289.2 102.5 290.0 103.0 290.4 103.8 290.7 104.2 291.0 104.4 291.6 104.5 292.4 104.6 292.9 104.9 293.6 105.2 294.0 105.8 294.3 106.6 294.6 107.4 294.9 108.1 295.2 108.6 295.4 109.4 295.6 109.8 295.2Z M61.3 290.4 61.6 290.0 61.4 289.3 60.8 289.6 60.5 290.4 61.0 290.6Z M97.9 299.2 98.5 298.8 99.0 298.4 99.4 298.0 99.0 297.2 98.6 296.8 98.3 296.4 98.0 296.0 97.8 295.6 97.6 295.2 97.3 294.8 97.0 294.4 96.6 294.1 95.8 293.8 95.0 293.8 94.5 294.0 94.1 294.4 93.8 295.0 93.7 295.6 93.8 296.4 94.0 296.8 94.4 297.2 95.0 297.6 95.4 297.8 95.8 298.0 96.2 298.3 96.6 298.6 97.0 299.1 97.4 299.4 97.9 299.2Z M103.6 300.8 104.2 300.6 104.6 300.3 105.0 300.0 105.1 299.2 104.8 298.8 104.2 298.4 103.8 298.2 103.0 298.1 102.2 298.4 101.8 298.8 102.0 299.6 102.2 300.0 102.5 300.4 103.0 300.8 103.6 300.8Z M70.6 352.1 69.8 352.2 69.0 352.1 68.2 351.6 68.0 351.2 67.8 350.6 67.6 350.0 67.4 349.2 67.2 348.8 66.8 348.4 66.2 348.3 65.8 348.5 65.4 348.8 65.0 349.1 64.6 349.4 64.2 349.6 63.4 349.9 62.6 349.9 62.0 349.6 61.4 349.2 61.0 348.8 60.6 348.5 60.2 348.2 59.8 348.0 59.4 347.7 59.0 347.4 58.7 346.8 58.5 346.0 58.2 345.2 57.8 344.9 57.0 344.6 56.6 344.2 56.2 343.6 56.0 342.8 56.0 342.0 56.1 341.2 56.1 340.4 55.9 339.6 55.6 338.8 55.4 338.2 55.1 337.6 54.8 337.2 54.4 336.8 54.1 336.4 53.8 336.0 53.6 335.6 53.6 334.8 53.8 334.2 54.2 333.7 54.6 333.2 54.8 332.4 54.6 331.6 54.4 330.8 54.3 330.0 54.4 329.2 54.3 328.4 54.2 327.6 54.1 326.8 54.0 326.0 53.9 325.2 53.9 324.4 54.0 323.6 54.0 322.8 54.1 322.0 54.3 321.2 54.6 320.4 54.8 320.0 55.0 319.6 55.3 319.2 55.5 318.8 55.8 318.1 56.0 317.6 56.2 317.1 56.6 316.5 57.0 316.0 57.4 315.7 57.8 315.3 58.2 314.9 58.5 314.4 58.7 313.6 58.8 312.8 59.0 312.2 59.2 311.6 59.5 311.2 59.8 310.9 60.2 310.4 60.4 310.0 60.3 309.2 60.1 308.4 59.8 307.6 59.7 306.8 59.9 306.0 60.2 305.6 60.5 305.2 60.6 304.7 61.0 304.4 61.8 304.2 62.6 304.2 63.4 304.2 64.2 304.3 65.0 304.7 65.4 304.9 66.2 305.2 66.6 305.6 66.9 306.0 67.3 306.4 68.2 306.4 69.0 306.1 69.8 305.7 70.2 305.5 70.6 305.3 71.4 305.1 72.2 305.1 73.0 305.1 73.8 304.9 73.4 304.7 72.6 304.6 72.1 304.4 71.7 304.0 71.4 303.2 71.5 302.4 71.8 302.0 72.6 301.8 73.4 301.8 74.0 302.0 74.6 302.2 75.4 302.6 75.8 302.9 76.2 303.1 76.6 303.4 77.0 303.7 77.4 304.0 78.2 304.3 79.0 304.2 79.8 304.0 80.6 304.1 81.2 304.4 81.6 304.8 82.2 305.0 83.0 305.0 83.7 304.8 83.5 304.0 83.8 303.3 84.2 303.1 85.0 303.1 85.8 303.4 86.2 303.7 86.5 304.0 86.8 304.4 86.8 305.2 87.0 305.6 87.3 306.0 87.6 306.4 88.2 306.8 88.6 307.1 89.0 307.4 89.4 307.9 89.7 308.4 89.9 308.8 90.1 309.2 90.3 309.6 90.6 310.1 90.9 310.8 91.0 311.3 91.1 312.0 91.1 312.8 90.9 313.6 90.7 314.4 90.5 314.8 90.2 315.2 89.9 315.6 89.6 316.4 89.5 317.2 89.4 318.0 89.0 318.7 88.2 318.7 87.6 318.8 87.0 319.0 86.6 319.3 86.2 319.6 85.9 320.0 85.7 320.8 86.0 321.2 86.3 321.6 86.6 321.9 86.9 322.4 87.2 323.2 87.4 324.0 87.7 324.8 88.2 325.2 89.0 325.2 89.4 325.4 89.6 326.0 89.4 326.8 89.1 327.6 88.8 328.4 88.4 329.2 88.0 329.6 87.6 330.0 87.1 330.4 86.6 330.8 86.4 331.2 86.2 331.9 86.2 332.8 86.1 333.6 85.9 334.4 85.6 335.2 85.4 335.6 85.1 336.0 84.9 336.4 84.7 336.8 84.5 337.2 84.3 337.6 83.9 338.4 83.5 339.2 83.3 339.6 83.0 340.0 82.7 340.8 82.5 341.6 82.3 342.4 82.1 342.8 81.8 343.2 81.5 343.6 81.1 344.0 80.8 344.4 80.5 344.8 80.2 345.2 80.0 345.6 79.7 346.0 79.4 346.4 79.2 346.8 79.0 347.2 78.7 347.6 78.4 348.0 78.1 348.4 77.5 348.8 77.0 349.1 76.2 349.5 75.8 349.7 75.4 350.0 75.0 350.4 74.6 350.7 74.2 351.1 73.8 351.3 73.0 351.5 72.2 351.7 71.4 351.9 70.6 352.1Z M112.6 303.4 111.8 303.2 111.8 302.4 112.2 302.2 112.9 302.4 113.0 303.0 112.6 303.4Z M73.8 306.4 73.5 305.6 73.0 305.5 72.3 306.0 72.6 306.3 73.4 306.5Z M64.3 314.0 64.8 313.6 65.2 313.2 65.6 312.8 66.1 312.4 66.5 312.0 66.8 311.6 67.1 311.2 67.3 310.8 67.5 310.4 67.7 309.6 67.4 309.0 66.6 309.0 66.0 309.2 65.4 309.3 64.6 309.5 63.8 309.8 63.2 310.0 62.6 310.4 62.3 310.8 62.6 311.6 62.8 312.0 63.0 312.4 63.2 312.8 63.6 313.6 64.0 314.0Z M69.0 325.2 69.1 324.4 68.6 324.1 67.9 324.4 67.8 325.1 68.2 325.4 69.0 325.2Z M75.3 342.4 75.6 342.0 75.4 341.2 75.0 340.8 74.6 340.6 73.9 340.8 74.1 341.6 74.5 342.4 75.0 342.6Z M59.8 342.8 59.8 342.1 59.5 342.4 59.8 342.8Z M125.4 299.7 124.6 299.7 124.2 299.5 123.8 299.2 123.5 298.8 123.4 298.0 123.0 297.3 122.2 297.4 121.4 297.6 120.6 297.7 119.8 297.7 119.0 297.8 118.3 298.0 117.8 298.3 117.4 298.6 116.6 298.7 115.8 298.5 115.0 298.1 114.6 297.9 114.2 297.6 113.8 297.4 113.4 297.2 113.0 297.0 112.2 296.6 111.8 296.4 111.4 296.0 111.2 295.2 111.3 294.4 111.2 293.6 111.0 293.0 110.7 292.4 110.5 292.0 110.3 291.6 110.1 291.2 109.8 290.8 109.6 290.4 109.1 290.0 108.6 289.7 108.2 289.4 107.8 289.2 107.4 289.0 107.0 288.8 106.2 288.5 105.4 288.3 104.6 288.1 103.8 287.9 103.0 287.7 102.2 287.5 101.5 287.2 101.0 286.8 100.6 286.4 100.4 286.0 100.2 285.6 99.8 284.8 99.5 284.0 99.1 283.2 98.7 282.4 98.5 282.0 98.1 281.6 97.4 281.2 96.6 281.3 96.2 281.6 95.8 282.0 95.4 282.4 95.1 282.8 94.8 283.2 94.6 283.6 94.3 284.4 94.0 285.2 93.8 285.8 93.4 286.4 93.0 286.8 92.2 287.0 91.4 286.9 90.6 286.5 90.2 286.0 90.1 285.2 90.2 284.7 90.4 284.0 90.6 283.4 90.8 282.8 90.9 282.0 90.6 281.4 90.2 281.1 89.4 280.8 88.6 280.7 87.8 280.9 87.4 281.2 87.0 281.6 86.6 281.9 86.2 282.2 85.8 282.5 85.0 282.7 84.2 282.9 83.7 283.2 83.0 283.6 82.6 283.9 82.2 284.1 81.8 284.3 81.4 284.6 80.7 284.8 79.9 284.4 79.7 283.6 79.6 282.8 79.8 282.2 80.2 281.7 81.0 281.5 81.8 281.5 82.6 281.5 83.4 281.2 83.8 280.9 84.2 280.4 84.5 280.0 84.9 279.6 85.4 279.3 86.2 279.1 87.0 279.1 87.7 278.8 88.1 278.4 88.3 278.0 88.5 277.2 88.4 276.4 88.3 275.6 88.0 274.8 87.8 274.4 87.5 274.0 86.6 274.1 86.2 274.5 85.8 274.8 85.4 275.2 85.0 275.4 84.6 275.6 84.2 275.9 83.8 276.1 83.4 276.4 83.0 276.7 82.2 277.0 81.4 276.9 80.6 276.4 80.2 276.1 79.8 275.8 79.4 275.4 79.0 275.0 78.6 274.6 78.2 274.1 77.8 273.8 77.4 273.5 76.6 273.4 75.8 273.3 75.0 273.2 74.2 273.2 73.4 273.4 73.0 273.8 72.6 274.4 72.3 274.8 72.1 275.2 71.9 275.6 71.7 276.4 71.7 277.2 71.9 278.0 72.1 278.8 72.4 279.6 72.7 280.0 73.0 280.4 73.4 280.7 73.8 281.0 74.2 281.2 74.5 281.6 73.8 281.9 73.0 281.8 72.2 281.6 71.4 281.2 71.2 280.8 71.0 280.4 70.7 280.0 70.3 279.6 69.9 279.2 69.5 278.8 69.2 278.4 69.0 278.0 68.7 277.2 68.7 276.4 68.7 275.6 69.0 275.1 69.4 274.6 69.8 274.3 70.2 273.9 70.6 273.4 71.0 272.8 71.2 272.4 71.4 272.0 71.7 271.6 72.0 270.8 72.2 270.0 72.3 269.2 72.5 268.4 72.7 267.6 73.0 266.8 73.3 266.0 73.5 265.6 73.8 265.2 74.1 264.8 74.5 264.4 75.0 264.0 75.4 263.8 76.2 263.4 77.0 263.5 77.4 263.7 77.8 264.0 78.1 264.4 78.4 264.8 78.7 265.2 79.0 265.6 79.3 266.0 79.6 266.4 79.9 266.8 80.3 267.2 80.9 267.6 81.4 267.8 81.9 268.0 82.6 268.1 83.2 267.6 83.0 266.8 82.7 266.0 82.6 265.5 82.5 264.8 82.2 264.0 81.8 263.7 81.4 263.5 81.0 263.3 80.6 263.0 80.2 262.4 80.5 261.6 81.0 261.2 81.8 261.3 82.2 261.9 82.5 262.4 82.7 262.8 83.0 263.1 83.8 263.1 84.4 262.8 84.7 262.4 84.7 261.6 84.4 260.8 84.1 260.4 83.7 260.0 83.2 259.6 82.8 259.2 82.5 258.8 82.3 258.4 81.9 257.6 81.6 256.8 81.5 256.0 81.6 255.2 82.0 254.8 82.6 254.6 83.4 254.6 84.2 254.8 84.6 255.0 85.1 255.2 85.8 255.5 86.6 255.7 87.4 255.5 88.1 255.2 88.6 254.9 89.4 254.8 89.8 255.1 90.1 255.6 90.3 256.4 89.9 257.2 89.6 257.6 89.3 258.0 89.1 258.8 89.3 259.6 89.8 260.0 90.6 260.0 91.4 259.8 92.2 259.9 92.6 260.4 92.7 261.2 92.4 261.6 91.9 262.0 91.4 262.2 90.6 262.3 89.9 262.0 89.4 261.8 88.6 261.9 87.8 262.4 87.5 262.8 87.3 263.6 87.6 264.4 87.9 264.8 88.2 265.2 88.6 265.5 89.4 265.5 90.2 265.4 90.9 265.6 91.3 266.0 91.6 266.4 92.2 266.5 92.5 265.6 92.8 265.2 93.3 264.8 93.8 264.6 94.6 264.5 95.4 264.6 96.2 264.8 97.0 264.8 97.8 264.6 98.3 264.4 98.8 264.0 99.2 263.6 99.5 263.2 99.8 262.8 100.1 262.4 100.3 262.0 100.5 261.6 100.9 260.8 101.2 260.0 101.4 259.6 101.7 259.2 102.1 258.8 102.5 258.4 102.8 258.0 102.6 257.4 102.2 257.1 101.6 256.8 101.1 256.4 101.3 255.6 102.2 255.5 103.0 255.4 103.8 255.2 104.6 254.8 105.4 254.6 106.2 254.5 107.0 254.5 107.8 254.7 108.3 254.8 109.0 255.0 109.8 255.1 110.6 255.1 111.4 255.1 112.2 254.9 113.0 254.5 113.8 254.2 114.4 254.0 115.0 253.8 115.8 253.7 116.6 253.7 117.4 253.8 118.2 253.8 119.0 253.9 119.8 253.9 120.6 254.0 121.4 254.0 122.2 254.1 123.0 254.3 123.8 254.7 124.2 255.0 124.6 255.2 125.0 255.4 125.5 255.6 126.2 255.8 127.0 255.9 127.8 256.0 128.6 256.1 129.4 256.3 130.2 256.7 130.6 256.9 131.0 257.2 131.4 257.4 131.8 257.7 132.6 258.0 133.0 258.2 133.6 258.4 134.2 258.8 134.5 259.2 134.8 260.0 135.0 260.5 135.4 261.1 135.8 261.4 136.2 261.7 136.6 262.2 136.8 262.8 136.9 263.6 137.0 264.1 137.2 264.8 137.5 265.2 137.8 265.6 138.1 266.0 138.5 266.4 138.9 266.8 139.1 267.2 139.3 267.6 139.6 268.0 139.9 268.4 140.2 268.8 140.5 269.2 140.7 269.6 140.9 270.0 141.3 270.8 141.6 271.2 142.0 271.6 142.4 272.0 142.8 272.4 142.7 273.2 142.4 274.0 142.1 274.8 141.9 275.6 141.8 276.2 141.6 276.8 141.4 277.3 141.0 277.8 140.6 278.1 139.8 278.2 139.0 278.2 138.2 278.2 137.7 278.4 137.1 278.8 136.8 279.2 136.5 279.6 136.2 280.0 135.9 280.4 135.7 280.8 135.4 281.6 135.4 282.4 135.4 283.2 135.4 284.0 135.8 284.4 136.6 284.3 137.4 284.0 138.2 284.0 138.6 284.3 138.6 285.2 138.3 286.0 138.1 286.8 137.8 287.6 137.5 288.0 137.2 288.4 136.7 288.8 136.3 289.2 136.3 290.0 136.2 290.8 136.1 291.6 136.0 292.4 136.0 293.2 136.0 294.0 135.8 294.7 135.5 295.2 135.1 295.6 134.6 295.9 134.2 296.2 133.4 296.3 132.8 296.0 132.6 295.6 132.4 294.8 132.2 294.0 131.8 293.2 131.4 292.9 130.6 292.6 129.8 292.4 129.0 292.1 128.2 291.9 127.4 291.9 126.6 292.1 126.1 292.4 125.6 292.8 125.4 293.2 125.1 294.0 125.0 294.6 124.8 295.2 124.6 295.8 124.3 296.4 124.0 296.8 123.8 297.2 124.2 297.6 124.6 297.8 125.0 298.1 125.4 298.6 125.6 299.2 125.4 299.7Z M68.2 268.9 67.4 268.9 66.6 268.6 66.2 268.2 65.8 267.8 65.4 267.2 65.3 266.4 65.7 265.6 66.1 265.2 66.4 264.8 66.2 264.0 65.8 263.7 65.4 263.4 65.0 263.0 64.9 262.4 65.0 261.6 65.2 260.8 65.2 260.0 65.3 259.2 65.3 258.4 65.3 257.6 65.2 256.8 65.2 256.0 65.0 255.3 65.1 254.4 65.8 254.1 66.6 254.2 67.0 254.4 67.4 254.7 67.8 255.0 68.2 255.3 68.6 255.6 69.0 255.8 69.4 256.1 70.2 256.4 70.6 256.7 70.9 257.2 70.8 258.0 70.6 258.7 70.4 259.2 70.2 259.6 69.8 260.0 69.4 260.4 69.0 260.7 68.6 261.1 68.3 261.6 68.1 262.4 67.9 263.2 67.7 264.0 67.8 264.8 68.2 265.6 68.6 266.4 68.9 267.2 68.9 268.0 68.6 268.6 68.2 268.9Z M54.2 280.0 53.5 279.6 53.3 279.2 53.0 278.5 52.8 278.0 52.5 277.6 52.2 277.3 51.8 277.1 51.0 276.9 50.3 277.2 49.8 277.5 49.4 277.8 48.6 277.9 47.8 277.7 47.0 277.4 46.3 277.2 45.8 277.1 45.0 277.0 44.2 277.1 43.4 277.1 42.8 276.8 42.5 276.4 42.2 276.0 41.9 275.2 41.8 274.4 42.0 273.6 42.0 272.8 41.9 272.0 41.8 271.2 41.9 270.4 42.0 269.6 42.2 268.9 42.3 268.4 42.2 267.8 41.8 267.4 41.0 267.3 40.2 267.3 39.4 267.4 38.6 267.4 38.1 267.2 37.7 266.8 37.6 266.0 37.7 265.2 38.0 264.4 38.2 264.0 38.6 263.6 39.0 263.2 39.4 262.9 40.2 262.7 41.0 263.0 41.4 263.2 42.2 263.4 43.0 263.2 43.4 262.8 43.6 262.4 43.9 261.6 44.1 260.8 44.4 260.0 45.0 259.8 45.4 260.0 45.8 260.3 46.2 260.5 47.0 260.7 47.6 260.8 48.2 260.9 49.0 261.2 49.4 261.4 49.8 261.7 50.1 262.0 50.4 262.4 50.7 262.8 50.9 263.2 51.2 263.6 51.5 264.0 51.8 264.3 52.2 264.7 52.6 265.0 53.2 264.8 53.6 264.4 53.9 264.0 54.1 263.2 54.2 262.4 54.1 261.6 54.0 260.8 53.9 260.0 53.8 259.2 53.9 258.4 54.2 257.8 54.6 257.4 55.0 257.1 55.4 256.8 55.8 256.6 56.2 256.3 56.6 256.1 57.0 255.9 57.6 255.6 58.2 255.4 58.7 255.2 59.4 255.0 60.2 255.0 60.7 255.2 60.8 256.0 60.9 256.8 61.0 257.3 61.2 258.0 61.4 258.5 61.6 259.2 61.7 260.0 61.8 260.8 61.9 261.6 62.1 262.0 62.4 262.4 62.8 262.8 63.2 263.2 63.4 263.6 63.2 264.4 62.6 264.7 61.8 264.7 61.0 264.5 60.6 264.2 60.2 263.9 59.8 263.7 59.3 264.0 59.0 264.3 58.7 264.8 58.5 265.2 58.3 265.6 57.9 266.0 57.4 266.3 56.6 266.2 55.8 266.1 55.0 266.0 54.2 265.8 53.4 265.6 52.6 265.7 52.3 266.0 51.8 266.4 51.4 266.7 51.0 267.0 50.6 267.2 49.8 267.4 49.2 267.6 48.9 268.0 49.0 268.6 49.3 269.2 49.5 269.6 49.8 270.3 49.9 271.2 50.1 272.0 50.6 272.3 51.4 272.2 51.9 272.0 52.6 271.7 53.4 271.4 54.2 271.3 55.0 271.3 55.8 271.3 56.6 271.3 57.4 271.4 58.2 271.4 58.7 271.6 59.1 272.0 59.0 272.6 58.6 273.0 58.2 273.3 57.9 273.6 57.8 274.4 57.8 275.0 57.8 275.6 57.6 276.4 57.4 276.9 57.0 277.4 56.6 277.8 56.2 278.2 55.8 278.5 55.4 278.8 55.0 279.2 54.6 279.6 54.2 280.0Z M97.0 261.3 96.2 261.3 95.5 260.8 95.6 260.0 95.8 259.6 96.0 259.2 96.3 258.8 96.5 258.4 96.8 258.0 97.2 257.6 97.8 257.4 98.3 257.6 98.5 258.4 98.5 259.2 98.2 259.9 98.0 260.4 97.7 260.8 97.2 261.2Z M97.4 279.6 97.6 279.2 97.3 278.8 97.0 278.4 96.7 278.0 96.6 277.2 97.0 276.4 97.3 276.0 97.6 275.6 97.9 275.2 98.1 274.8 98.4 274.4 98.9 274.0 99.4 273.9 100.2 274.1 101.0 274.2 101.4 274.0 101.8 273.6 102.1 273.2 102.3 272.8 102.6 272.1 102.8 271.2 103.0 270.4 103.3 269.6 103.6 268.8 103.9 268.4 104.1 268.0 104.3 267.6 104.6 267.2 104.8 266.8 105.0 266.1 105.0 265.4 104.9 264.8 104.6 264.3 104.2 264.0 103.5 264.0 102.6 264.1 101.8 264.2 101.0 264.3 100.6 264.7 100.4 265.2 100.3 266.0 100.1 266.8 99.8 267.6 99.5 268.4 99.1 269.2 98.8 269.6 98.2 270.0 97.4 270.2 96.7 270.4 96.4 270.8 96.3 271.6 96.2 272.2 95.9 272.8 95.5 273.2 95.0 273.6 94.6 273.9 94.2 274.4 94.0 274.8 94.0 275.6 94.2 276.1 94.6 276.7 94.9 277.2 95.0 277.8 95.1 278.4 95.4 279.2 95.8 279.6 96.2 279.9 97.0 279.9 97.4 279.6Z M47.4 265.2 47.2 264.4 46.6 264.2 46.3 264.8 46.6 265.4 47.4 265.3Z M92.5 269.6 93.0 269.2 93.0 268.4 92.8 268.0 92.5 267.6 92.2 267.2 92.0 268.0 91.8 268.8 92.1 269.6Z M87.6 272.4 88.2 272.2 88.6 271.9 89.0 271.4 89.3 270.8 89.2 270.0 88.9 269.6 88.6 269.2 88.2 268.9 87.4 268.7 86.6 268.8 85.8 268.9 85.2 269.2 85.3 270.0 85.7 270.8 86.0 271.2 86.4 271.6 86.8 272.0 87.4 272.4Z M137.8 275.6 138.5 275.2 138.8 274.8 138.9 274.0 138.8 273.2 138.6 272.7 138.4 272.0 138.2 271.4 137.9 270.8 137.4 270.4 136.6 270.5 136.2 270.9 135.9 271.6 135.7 272.4 135.7 273.2 135.7 274.0 136.0 274.8 136.3 275.2 136.6 275.5 137.4 275.7Z M49.8 274.4 49.6 273.6 49.3 273.2 48.6 273.0 47.8 273.1 48.0 274.0 48.5 274.4 49.0 274.7 49.8 274.4Z M63.4 277.2 62.6 277.2 62.2 277.0 61.9 276.4 62.1 275.6 62.5 275.2 63.0 274.8 63.8 274.5 64.6 274.3 65.4 274.5 65.7 274.8 65.8 275.3 65.5 276.0 65.2 276.4 64.6 276.8 63.8 277.1Z M104.4 281.2 104.3 280.4 104.0 279.6 103.5 278.8 103.3 278.4 103.0 278.0 102.6 277.6 102.3 277.2 101.9 276.8 101.4 276.4 100.8 276.4 100.3 276.8 100.0 277.2 99.7 277.6 99.4 278.0 99.0 278.4 98.7 278.8 98.4 279.2 98.7 279.6 99.4 279.9 100.2 280.1 101.0 280.3 101.7 280.4 102.2 280.5 102.8 280.8 103.4 281.1 104.2 281.4Z M53.0 283.2 52.2 283.1 51.5 282.8 51.0 282.5 50.6 282.2 50.2 282.0 49.8 281.7 49.4 281.5 49.3 280.8 49.8 280.7 50.5 280.8 51.4 280.9 52.2 281.0 53.0 281.0 53.7 281.2 53.9 282.0 53.5 282.8 53.0 283.2Z M57.8 289.6 57.0 289.5 56.4 289.2 55.8 288.8 55.4 288.4 55.1 288.0 54.9 287.6 54.6 287.3 54.2 286.9 53.8 286.6 53.5 286.0 53.8 285.6 54.6 285.9 55.4 285.9 55.8 285.7 56.2 285.3 56.6 284.9 57.0 284.4 57.3 284.0 57.6 283.6 57.8 283.2 58.1 282.8 58.3 282.4 58.6 282.0 58.9 281.6 59.4 281.3 60.2 281.3 60.6 281.6 61.0 281.9 61.4 282.3 61.8 282.8 62.1 283.2 62.4 284.0 62.5 284.8 62.5 285.6 62.3 286.4 62.2 286.9 61.8 287.4 61.0 287.4 60.5 287.2 59.8 286.9 59.0 286.7 58.3 287.2 58.1 288.0 58.3 288.8 58.2 289.4 57.8 289.6Z M88.2 288.3 87.4 288.1 86.6 287.8 85.8 287.7 85.0 287.3 84.9 286.8 85.4 286.6 86.2 286.8 86.6 287.0 87.0 287.2 87.4 287.5 88.2 287.9Z M134.2 290.4 134.6 290.1 135.0 289.6 134.7 288.8 134.4 288.4 134.1 288.0 133.8 287.6 133.4 287.3 132.6 287.2 131.8 287.6 131.6 288.0 131.6 288.8 131.7 289.6 131.9 290.0 132.2 290.3 132.6 290.6 133.4 290.7 134.2 290.4Z M78.2 291.6 77.4 291.9 76.6 291.9 76.0 291.6 75.8 291.2 75.8 290.5 76.0 290.0 76.2 289.6 76.5 289.2 76.9 288.8 77.4 288.5 78.2 288.2 79.0 288.1 79.8 288.2 80.4 288.4 80.4 289.2 80.2 289.8 79.9 290.4 79.6 290.8 79.1 291.2 78.6 291.4Z M101.8 295.6 101.0 295.9 100.2 295.9 99.4 295.7 99.0 295.5 98.6 295.1 98.2 294.6 97.8 294.1 97.4 293.7 97.0 293.5 96.2 293.3 95.4 293.1 94.6 293.1 93.8 293.3 93.4 293.5 93.1 294.0 93.0 294.5 92.7 295.2 92.2 295.6 91.5 295.2 91.0 294.9 90.6 294.7 90.2 294.5 89.8 294.3 89.4 294.0 89.0 293.7 88.6 293.3 88.4 292.8 88.3 292.0 88.5 291.2 88.7 290.8 89.0 290.4 89.4 290.1 90.2 290.0 91.0 290.0 91.8 289.8 92.3 289.6 93.0 289.2 93.8 289.1 94.6 289.4 95.4 289.6 96.2 289.5 97.0 289.3 97.8 289.1 98.6 289.2 99.4 289.6 99.8 289.9 100.2 290.2 100.6 290.5 101.0 290.9 101.4 291.2 101.8 291.5 102.2 291.8 102.6 292.1 103.0 292.7 103.2 293.2 103.4 294.0 103.3 294.8 102.8 295.2 102.2 295.5Z M66.6 296.1 65.8 296.2 65.0 296.0 64.2 295.8 63.4 295.4 63.0 295.2 62.6 295.0 62.2 294.7 61.8 294.4 61.5 294.0 61.4 293.4 61.5 292.4 61.8 291.8 62.2 291.2 62.5 290.8 62.9 290.4 63.4 290.0 63.8 289.8 64.6 289.7 65.2 290.0 65.7 290.4 66.1 290.8 66.5 291.2 66.8 291.6 67.1 292.0 67.4 292.4 67.7 292.8 67.9 293.2 68.1 294.0 68.1 294.8 67.8 295.3 67.4 295.7 67.0 295.9Z M117.0 293.6 117.4 293.3 117.8 292.8 117.8 292.0 117.4 291.6 117.0 291.4 116.2 291.3 115.5 291.6 115.2 292.0 115.1 292.8 115.4 293.5 115.8 293.7 116.6 293.7Z M75.8 296.1 75.0 296.0 74.7 295.6 75.0 295.1 75.6 295.2 76.1 295.6 75.8 296.1Z M85.4 299.3 84.6 299.3 83.8 299.2 83.0 299.2 82.2 299.4 81.4 299.4 81.0 299.1 80.6 298.5 80.6 297.8 81.0 297.2 81.8 297.1 82.6 297.1 83.2 296.8 83.6 296.4 83.9 296.0 84.2 295.6 84.5 295.2 85.0 294.9 85.8 295.0 86.2 295.4 86.5 296.0 86.7 296.8 86.8 297.6 86.6 298.3 86.3 298.8 85.8 299.2Z M106.2 298.1 105.4 297.8 105.0 297.6 104.6 297.2 104.3 296.8 104.1 296.0 104.6 295.4 105.4 295.3 106.2 295.4 106.8 295.6 107.3 296.0 107.5 296.4 107.4 297.1 107.0 297.6 106.6 297.9Z M95.0 299.6 94.2 299.8 93.4 299.3 93.0 298.8 92.9 298.0 93.4 297.8 94.1 298.0 94.6 298.3 95.0 298.6 95.3 299.2 95.0 299.6Z M63.4 308.5 62.6 308.5 61.9 308.0 61.7 307.2 62.1 306.4 62.6 306.0 63.4 305.9 64.2 306.4 64.4 306.8 64.4 307.6 64.2 308.0 63.8 308.3Z M59.8 338.0 59.0 337.6 58.8 337.2 58.6 336.5 58.5 335.6 58.5 334.8 58.6 334.0 59.0 333.4 59.8 333.3 60.6 333.3 61.0 332.8 61.1 332.0 61.2 331.2 61.4 330.6 61.7 330.0 62.0 329.6 61.9 328.8 61.4 328.5 60.6 328.3 60.1 328.4 59.6 328.8 59.4 329.3 59.1 330.0 58.9 330.4 58.6 330.8 58.2 331.1 57.4 331.3 57.0 331.0 56.6 330.4 56.6 329.6 56.8 328.8 57.0 328.3 57.4 327.8 57.8 327.4 58.2 327.1 58.6 326.8 58.8 326.4 58.8 325.6 58.5 325.2 58.2 324.9 57.8 324.5 57.4 324.1 57.1 323.6 56.8 322.8 56.8 322.0 57.0 321.5 57.4 321.0 57.8 320.7 58.3 320.4 59.0 320.1 59.4 319.9 59.8 319.3 60.0 318.8 60.1 318.0 60.4 317.2 60.7 316.8 61.4 316.8 61.8 317.1 62.0 317.6 62.1 318.4 61.8 319.2 61.5 319.6 61.2 320.0 60.9 320.4 60.8 321.2 60.9 322.0 61.0 322.8 61.1 323.6 61.4 324.0 61.8 324.3 62.6 324.5 63.4 324.4 64.1 324.0 64.2 323.4 64.1 322.8 64.0 322.0 64.1 321.2 64.5 320.4 65.0 320.2 65.8 320.1 66.6 319.7 67.0 319.2 67.3 318.8 67.5 318.4 67.8 318.0 68.0 317.6 68.3 317.2 68.5 316.8 68.7 316.0 68.7 315.2 68.6 314.4 68.6 313.6 68.6 312.8 68.8 312.0 69.0 311.5 69.4 310.9 69.7 310.4 69.9 309.6 70.2 308.8 70.6 308.4 71.4 308.2 72.2 308.4 73.0 308.5 73.8 308.4 74.6 308.4 75.4 308.5 76.2 308.6 77.0 308.7 77.8 308.8 78.6 308.8 79.4 308.8 80.1 308.4 80.6 308.0 81.0 307.6 81.4 307.4 82.2 307.4 83.0 307.5 83.8 307.7 84.5 308.0 85.0 308.2 85.4 308.5 85.7 308.8 86.0 309.2 85.8 309.9 85.0 309.8 84.2 309.8 83.4 309.9 82.6 310.1 81.8 310.3 81.0 310.6 80.6 311.0 80.2 311.6 79.8 312.0 79.0 311.9 78.2 311.9 77.4 312.1 76.8 312.4 76.2 312.7 75.8 313.1 75.4 313.6 75.1 314.4 75.0 315.2 75.2 316.0 75.5 316.4 76.2 316.7 77.0 316.6 77.8 316.6 78.2 316.8 78.6 317.2 78.8 317.6 79.0 318.0 79.2 318.8 79.4 319.3 79.7 320.0 80.0 320.4 80.4 320.8 80.7 321.2 80.9 321.6 81.2 322.4 81.6 323.2 81.9 323.6 82.2 324.0 82.6 324.3 83.4 324.0 83.8 323.8 84.2 323.6 85.0 323.4 85.4 323.8 85.5 324.4 85.4 325.0 85.0 325.6 84.4 325.6 83.8 325.4 83.0 325.0 82.3 325.2 81.9 325.6 81.6 326.0 81.3 326.4 81.2 327.2 81.1 328.0 80.7 328.8 80.2 329.1 79.4 329.3 78.6 329.2 77.8 328.9 77.4 328.7 77.0 328.5 76.5 328.4 76.5 329.2 76.6 330.0 76.3 330.8 75.9 331.2 75.4 331.6 75.0 331.8 74.5 332.0 73.8 332.1 73.0 332.0 72.2 331.9 71.4 331.7 70.9 331.6 70.2 331.5 69.4 331.3 68.6 331.0 68.2 330.8 67.4 330.4 67.0 330.1 66.6 329.9 65.8 330.0 65.6 330.4 65.6 331.2 65.8 331.8 66.2 332.3 66.6 332.6 67.0 332.9 67.4 333.2 67.8 333.4 68.2 333.7 68.6 333.9 69.4 334.1 70.2 334.2 71.0 334.2 71.7 334.8 71.7 335.6 71.4 336.0 70.6 336.1 69.8 335.8 69.0 335.6 68.2 335.6 67.4 335.6 66.6 335.5 65.8 335.2 65.4 335.0 65.0 334.8 64.2 334.5 63.4 334.5 62.6 334.7 62.2 335.0 61.9 335.6 61.6 336.4 61.3 336.8 61.1 337.2 60.7 337.6 60.2 337.9Z M86.2 317.6 85.4 317.9 84.8 317.6 84.4 317.2 84.1 316.8 83.8 316.5 83.4 316.3 82.8 316.0 82.2 315.7 81.8 315.3 81.4 315.0 81.0 314.5 80.7 314.0 81.0 313.4 81.8 313.5 82.3 313.6 83.0 313.7 83.6 313.6 84.2 313.3 84.6 312.9 85.0 312.4 85.3 312.0 85.6 311.6 85.8 311.2 86.0 310.8 86.2 310.0 87.0 310.2 87.8 310.6 88.2 310.9 88.5 311.6 88.3 312.4 88.1 313.2 87.8 314.0 87.6 314.8 87.4 315.5 87.2 316.0 87.0 316.7 86.7 317.2 86.2 317.6Z M69.6 326.8 70.2 326.6 70.6 326.2 70.8 325.6 70.8 324.8 70.6 324.1 70.3 323.6 70.0 323.2 69.5 322.8 69.0 322.6 68.2 322.5 67.4 322.7 66.6 323.2 66.2 323.4 65.8 323.8 65.5 324.4 65.7 325.2 65.9 325.6 66.2 326.0 66.6 326.4 67.0 326.6 67.7 326.8 68.6 326.9 69.4 326.8Z M77.0 339.0 76.2 339.1 75.5 338.8 75.1 338.4 74.8 338.0 74.9 337.2 75.2 336.8 75.5 336.4 75.7 336.0 76.0 335.6 76.3 335.2 76.6 334.8 77.0 334.4 77.4 334.1 77.8 333.7 78.2 333.4 79.0 333.3 79.4 333.6 79.7 334.0 80.1 334.4 80.6 334.7 81.4 334.9 82.2 335.2 82.6 335.6 82.8 336.4 82.6 337.2 82.4 337.6 82.1 338.0 81.4 338.3 80.7 338.0 80.2 337.7 79.8 337.3 79.4 337.1 78.6 337.2 78.3 337.6 78.0 338.0 77.7 338.4 77.3 338.8Z M71.4 349.3 70.6 349.4 70.2 349.2 70.0 348.8 70.1 348.0 70.5 347.2 70.9 346.8 71.3 346.4 71.5 346.0 71.6 345.2 71.4 344.6 71.0 344.3 70.2 344.0 69.4 344.0 68.6 344.1 68.0 344.4 67.4 344.6 66.8 344.8 66.2 345.0 65.4 345.2 65.0 345.4 64.6 345.9 64.4 346.4 64.3 347.2 63.9 348.0 63.4 348.2 62.6 348.2 62.2 348.0 61.8 347.8 61.4 347.4 61.0 347.0 60.7 346.4 60.6 345.8 60.7 345.2 60.9 344.8 61.3 344.4 61.7 344.0 62.0 343.6 62.2 342.9 62.2 342.0 62.2 341.2 62.6 340.4 63.4 340.3 64.0 340.4 64.6 340.5 65.2 340.4 65.8 340.2 66.6 339.8 67.1 339.6 67.8 339.4 68.6 339.3 69.4 339.5 69.6 340.0 69.8 340.8 70.0 341.2 70.5 341.6 71.0 341.8 71.4 342.1 71.8 342.7 71.9 343.2 72.1 344.0 72.4 344.4 72.7 344.8 73.0 345.2 73.0 346.0 72.7 346.8 72.8 347.6 72.7 348.4 72.4 348.8 71.8 349.2Z M77.8 345.2 77.0 345.0 76.8 344.4 76.8 343.6 77.0 343.1 77.4 342.5 77.8 342.2 78.2 342.0 79.0 342.0 79.4 342.2 79.6 342.8 79.5 343.6 79.3 344.0 79.0 344.4 78.6 344.8 78.2 345.1Z M87.0 261.4 86.2 261.5 85.8 261.2 85.5 260.8 85.3 260.4 85.0 260.0 84.7 259.6 84.3 259.2 83.9 258.8 83.4 258.4 83.1 258.0 82.8 257.6 82.6 257.1 82.5 256.4 83.0 255.7 83.6 255.6 84.2 255.8 84.6 256.1 85.0 256.4 85.4 256.7 85.8 257.1 86.2 257.5 86.6 257.8 87.0 258.1 87.4 258.7 87.6 259.2 87.8 259.9 87.8 260.5 87.4 261.1 87.0 261.4Z M119.8 296.9 119.0 296.9 118.2 296.9 117.4 296.9 116.6 297.1 115.8 297.1 115.0 296.9 114.2 296.5 113.8 296.2 113.4 295.9 113.0 295.5 112.8 294.8 112.7 294.0 112.5 293.2 112.3 292.4 112.1 291.6 112.1 290.8 112.0 290.0 111.8 289.2 111.6 288.8 111.2 288.4 110.6 288.0 109.8 287.7 109.0 287.4 108.2 287.2 107.8 286.9 107.5 286.4 107.7 286.0 108.1 285.6 108.3 285.2 108.4 284.4 108.2 283.7 107.9 283.2 107.6 282.8 107.3 282.4 107.1 282.0 106.8 281.6 106.6 281.2 106.4 280.8 106.1 280.4 105.9 280.0 105.6 279.6 105.4 279.2 105.2 278.8 104.8 278.0 104.6 277.6 104.4 277.2 104.1 276.8 103.7 276.4 103.4 276.0 103.2 275.2 103.4 274.6 103.8 274.0 104.1 273.6 104.3 273.2 104.6 272.4 104.5 271.6 104.3 270.8 104.4 270.0 104.6 269.6 105.0 269.0 105.4 268.6 105.8 268.2 106.2 267.8 106.6 267.4 107.0 266.8 107.2 266.0 107.1 265.2 106.9 264.4 106.8 263.6 106.8 262.8 106.7 262.0 106.8 261.2 107.4 261.1 108.2 261.0 108.8 260.8 109.3 260.4 109.6 260.0 109.9 259.6 110.2 259.2 110.5 258.8 111.0 258.5 111.8 258.1 112.6 257.8 113.0 257.5 113.4 257.2 113.8 256.8 114.2 256.4 114.6 256.0 115.0 255.7 115.4 255.5 116.2 255.3 117.0 255.3 117.8 255.4 118.3 255.6 119.0 255.9 119.4 256.1 119.8 256.3 120.2 256.5 120.6 256.8 121.4 257.1 121.9 257.2 122.6 257.3 123.4 257.4 124.2 257.4 125.0 257.6 125.8 257.8 126.6 258.0 127.4 258.2 127.9 258.4 128.5 258.8 128.8 259.2 129.0 259.6 129.3 260.4 129.5 261.2 129.6 262.0 129.8 262.6 130.1 263.2 130.5 264.0 130.7 264.4 131.1 264.8 131.4 265.1 131.8 265.4 132.2 265.7 133.0 266.0 133.8 266.2 134.2 266.4 134.6 266.8 134.9 267.2 135.1 268.0 134.9 268.8 134.6 269.6 134.3 270.4 134.1 271.2 134.0 272.0 134.0 272.8 134.0 273.6 134.1 274.4 134.2 275.2 134.3 276.0 134.3 276.8 134.2 277.3 133.9 278.0 133.6 278.4 133.2 278.8 132.9 279.2 132.6 279.6 132.4 280.0 132.3 280.8 132.3 281.6 132.3 282.4 132.0 283.2 131.8 283.6 131.5 284.0 131.2 284.4 130.9 284.8 130.6 285.1 130.2 285.5 129.8 285.8 129.4 286.2 129.0 286.7 128.8 287.2 128.6 287.7 128.3 288.4 128.0 288.8 127.6 289.2 127.2 289.6 126.6 290.0 125.8 290.3 125.0 290.7 124.6 291.0 124.2 291.3 123.8 291.6 123.4 292.0 123.1 292.4 123.4 293.0 123.8 293.6 123.9 294.4 123.4 295.1 122.6 295.3 121.8 295.6 121.4 296.0 121.0 296.4 120.6 296.6 120.1 296.8Z M67.8 260.0 67.4 260.2 66.6 260.1 66.3 259.6 66.1 258.8 66.1 258.0 66.2 257.4 66.5 256.8 67.0 256.5 67.8 256.6 68.2 256.8 68.6 257.0 69.0 257.4 69.3 258.0 69.2 258.8 68.9 259.2 68.4 259.6 67.8 260.0Z M56.6 262.6 56.1 262.4 55.8 262.0 55.6 261.6 55.4 261.1 55.3 260.4 55.3 259.6 55.4 259.0 55.7 258.4 56.0 258.0 56.5 257.6 57.0 257.3 57.8 257.2 58.2 257.5 58.5 258.0 58.2 258.8 57.9 259.2 57.7 259.6 57.4 260.4 57.3 261.2 57.1 262.0 56.9 262.4Z M44.6 271.7 43.8 271.8 43.1 271.6 42.8 271.2 42.6 270.4 42.8 269.6 43.0 269.0 43.2 268.4 43.4 267.6 43.4 266.8 43.2 266.4 42.6 266.2 41.8 266.3 41.0 266.5 40.2 266.6 39.4 266.5 39.0 266.3 38.7 265.6 38.9 264.8 39.2 264.4 39.7 264.0 40.2 263.8 40.9 264.0 41.4 264.2 41.8 264.5 42.2 264.7 43.0 264.9 43.8 265.0 44.2 265.5 44.6 265.9 45.0 266.2 45.4 266.4 45.8 266.6 46.2 266.8 46.6 267.1 47.0 267.5 47.3 268.0 47.6 268.8 47.8 269.3 48.1 270.0 48.0 270.8 47.4 271.2 46.6 271.4 45.8 271.5 45.0 271.6Z M86.6 268.0 85.8 268.1 85.0 267.9 84.6 267.6 84.3 267.2 84.1 266.8 83.8 266.1 83.7 265.6 83.8 264.9 84.1 264.4 84.6 264.0 85.0 263.8 85.8 263.7 86.2 263.9 86.6 264.4 86.9 264.8 87.1 265.2 87.3 265.6 87.5 266.0 87.8 266.8 87.5 267.6 87.0 267.9Z M81.0 274.8 80.2 274.5 79.8 274.2 79.4 273.8 79.0 273.4 78.6 273.0 78.2 272.7 77.8 272.4 77.0 272.3 76.2 272.3 75.4 272.3 74.6 272.1 73.8 271.7 73.4 271.3 73.2 270.8 73.2 270.0 73.2 269.2 73.4 268.4 73.5 267.6 73.7 266.8 73.9 266.0 74.2 265.6 74.4 265.2 74.8 264.8 75.4 264.4 75.8 264.2 76.6 264.2 77.1 264.4 77.4 264.7 77.8 265.2 78.1 265.6 78.3 266.0 78.5 266.4 78.8 266.8 79.0 267.3 79.4 268.0 79.8 268.3 80.6 268.7 81.4 268.9 82.2 269.1 82.8 269.2 83.4 269.4 83.8 269.7 84.2 270.0 84.5 270.4 84.8 270.8 85.1 271.2 85.4 271.6 85.6 272.0 85.7 272.8 85.4 273.3 85.0 273.6 84.2 273.6 83.4 273.2 83.0 273.0 82.6 272.7 81.8 272.7 81.4 273.0 81.2 273.6 81.2 274.4Z M98.2 268.4 97.4 268.6 96.6 268.5 95.9 268.4 95.4 268.3 94.9 268.0 94.4 267.6 94.1 267.2 94.0 266.4 94.2 265.8 94.6 265.5 95.4 265.5 96.2 265.6 97.0 265.7 97.8 265.7 98.6 266.0 98.8 266.4 98.9 267.2 98.6 268.0 98.2 268.4Z M91.0 276.2 90.2 276.3 89.8 276.1 89.5 275.6 89.3 274.8 89.2 274.0 89.4 273.4 89.8 272.9 90.2 272.6 90.6 272.4 91.4 272.0 91.8 271.8 92.2 271.5 92.6 271.2 93.0 271.0 93.4 270.7 94.2 270.6 94.6 270.9 94.8 271.6 94.6 272.3 94.2 272.8 93.8 273.1 93.4 273.4 93.0 273.7 92.6 274.0 92.3 274.4 92.0 274.8 91.8 275.2 91.6 275.6 91.3 276.0Z M55.8 277.2 55.1 277.2 54.8 276.8 54.7 276.0 54.6 275.3 54.2 274.9 53.4 274.9 52.6 274.8 52.2 274.6 51.9 274.0 52.2 273.2 52.6 272.8 53.0 272.6 53.5 272.4 54.2 272.4 55.0 272.7 55.4 273.2 55.6 273.6 55.9 274.0 56.3 274.4 56.7 274.8 57.0 275.6 56.8 276.4 56.5 276.8 55.9 277.2Z M46.6 276.0 45.8 276.0 45.0 276.0 44.2 275.7 43.8 275.3 43.6 274.8 43.8 274.2 44.2 273.9 45.0 273.8 45.5 274.0 46.2 274.4 46.6 274.8 46.9 275.2 47.0 275.8 46.6 276.0Z M92.2 285.6 91.6 285.6 91.2 285.2 91.1 284.4 91.4 283.6 91.6 283.2 91.8 282.6 91.9 282.0 91.8 281.4 91.7 280.8 91.7 280.0 92.1 279.2 92.3 278.8 92.6 278.0 92.9 277.6 93.4 278.0 93.8 278.7 94.1 279.2 94.4 279.6 94.7 280.0 95.0 280.4 95.2 281.2 95.0 281.7 94.6 282.3 94.2 282.8 93.9 283.2 93.6 283.6 93.4 284.1 93.1 284.8 92.8 285.2 92.3 285.6Z M104.2 286.4 103.4 286.3 102.6 286.0 101.8 285.6 101.4 285.3 101.0 284.9 100.6 284.4 100.4 284.0 100.2 283.6 100.0 282.8 100.1 282.0 100.6 281.8 101.4 281.8 101.9 282.0 102.6 282.4 103.0 282.8 103.3 283.2 103.6 283.6 103.9 284.0 104.1 284.4 104.4 284.8 104.6 285.2 104.9 285.6 104.6 286.3Z M61.0 285.8 60.2 285.8 59.6 285.6 59.0 285.3 58.6 285.1 58.4 284.4 58.6 283.7 58.8 283.2 59.0 282.8 59.3 282.4 59.8 282.2 60.4 282.4 60.9 282.8 61.2 283.2 61.4 283.6 61.6 284.4 61.6 285.2 61.3 285.6Z M116.9 294.8 117.4 294.5 117.8 294.2 118.2 294.0 118.6 293.7 119.0 293.5 119.8 293.2 120.6 293.1 121.4 293.4 122.0 293.2 121.5 292.8 120.6 292.6 120.2 292.2 119.8 291.8 119.4 291.3 119.0 290.9 118.6 290.5 118.2 290.2 117.8 290.0 117.0 289.7 116.2 289.6 115.4 289.7 114.6 289.8 113.8 290.3 113.5 290.8 113.5 291.6 113.5 292.4 113.5 293.2 113.7 294.0 114.2 294.4 114.6 294.7 115.4 294.9 116.2 295.0 116.9 294.8Z M66.6 295.0 65.8 295.1 65.0 294.9 64.2 294.6 63.7 294.4 63.1 294.0 62.8 293.6 62.5 292.8 62.6 292.3 62.9 291.6 63.3 291.2 63.8 290.8 64.6 290.7 65.4 291.2 65.8 291.6 66.2 292.0 66.5 292.4 66.8 292.8 67.0 293.2 67.2 294.0 67.0 294.7 66.6 295.0Z M97.0 292.4 96.2 292.4 95.4 292.3 94.6 292.1 94.2 291.8 93.9 291.2 94.2 290.9 95.0 290.7 95.8 290.7 96.6 290.6 97.4 290.7 97.8 291.0 98.0 291.6 97.8 292.1 97.4 292.4Z M91.0 293.3 90.2 293.3 89.8 292.9 89.6 292.4 89.8 291.9 90.2 291.6 91.0 291.7 91.3 292.4 91.1 293.2Z M101.4 294.1 100.6 294.1 100.5 293.6 101.0 293.2 101.6 293.6 101.4 294.1Z M85.4 298.1 84.8 297.6 85.0 297.2 85.7 297.6 85.4 298.1Z M73.4 313.0 73.0 312.8 72.8 312.0 72.8 311.2 73.0 310.7 73.4 310.4 74.2 310.2 74.8 310.4 75.1 310.8 75.0 311.3 74.6 311.9 74.2 312.4 73.8 312.8 73.4 313.0Z M73.8 322.9 73.0 323.1 72.2 323.0 71.8 322.7 71.4 322.4 71.0 322.0 70.6 321.6 70.2 321.2 69.8 320.8 69.6 320.4 69.8 320.0 70.2 319.7 70.6 319.4 71.0 319.2 71.8 318.9 72.6 319.0 73.0 319.3 73.3 319.6 73.8 320.0 74.2 320.4 74.5 320.8 74.4 321.6 74.2 322.4 73.9 322.8Z M79.4 325.2 78.7 325.2 78.2 324.9 77.8 324.5 77.5 324.0 77.7 323.2 78.2 323.0 79.0 323.1 79.4 323.3 79.8 323.8 80.0 324.4 79.8 324.9 79.4 325.2Z M120.6 287.3 119.8 287.4 119.0 287.3 118.3 287.2 117.4 287.0 116.6 286.6 116.2 286.3 115.8 285.9 115.4 285.5 115.0 285.1 114.6 284.7 114.2 284.5 113.8 284.2 113.4 284.0 113.0 283.7 112.6 283.3 112.3 282.8 112.0 282.4 111.8 282.0 111.5 281.6 111.2 281.2 110.8 280.8 110.4 280.4 110.1 280.0 109.9 279.6 109.8 278.9 110.0 278.0 110.2 277.5 110.4 276.8 110.5 276.0 110.4 275.2 110.3 274.4 110.1 273.6 109.9 272.8 109.8 272.3 109.7 271.6 109.6 270.8 109.5 270.0 109.5 269.2 109.6 268.4 109.8 267.7 110.0 267.2 110.2 266.8 110.6 266.0 111.0 265.2 111.2 264.8 111.6 264.4 112.0 264.0 112.4 263.6 112.8 263.2 113.1 262.8 113.4 262.0 113.6 261.6 113.8 261.2 114.2 260.8 114.6 260.4 115.0 260.1 115.4 259.9 116.2 259.8 117.0 260.0 117.8 260.4 118.6 260.6 119.4 260.8 120.2 260.8 121.0 260.8 121.8 260.7 122.6 260.8 123.4 261.0 123.8 261.3 124.2 261.6 124.6 261.9 125.0 262.2 125.4 262.5 125.8 262.7 126.6 263.1 127.0 263.5 127.4 264.0 127.6 264.4 127.8 264.9 128.1 265.6 128.3 266.0 128.6 266.4 128.9 266.8 129.2 267.2 129.6 267.6 130.2 268.0 130.6 268.3 131.0 268.5 131.4 269.0 131.6 269.6 131.7 270.4 131.7 271.2 131.6 272.0 131.5 272.8 131.2 273.6 131.0 274.1 130.6 274.7 130.2 275.2 129.9 275.6 129.7 276.0 129.4 276.4 129.1 276.8 128.9 277.2 128.6 278.0 128.4 278.8 128.2 279.6 128.0 280.4 127.8 281.2 127.6 282.0 127.1 282.8 126.8 283.2 126.4 283.6 125.9 284.0 125.4 284.4 125.0 284.7 124.6 285.0 124.2 285.3 123.8 285.5 123.4 285.7 123.0 285.9 122.6 286.1 122.2 286.4 121.8 286.7 121.4 286.9 121.0 287.2Z M75.8 269.7 75.2 269.6 75.0 269.2 74.9 268.4 74.8 267.6 74.9 266.8 75.0 266.3 75.4 265.7 75.8 265.4 76.6 265.6 77.0 266.0 77.2 266.4 77.4 267.0 77.4 267.8 77.1 268.4 76.8 268.8 76.4 269.2 76.0 269.6Z M120.6 281.6 119.8 281.5 119.0 281.3 118.2 280.8 117.8 280.5 117.4 280.2 117.0 279.7 116.7 279.2 116.4 278.8 116.2 278.4 116.0 278.0 115.8 277.6 115.6 277.2 115.3 276.8 115.0 276.4 114.7 276.0 114.4 275.6 114.2 275.2 113.9 274.8 113.7 274.0 113.7 273.2 113.9 272.4 114.1 271.6 114.3 270.8 114.5 270.0 114.8 269.2 115.0 268.8 115.3 268.4 115.6 268.0 116.0 267.6 116.4 267.2 116.8 266.8 117.2 266.4 117.8 266.0 118.6 265.8 119.4 265.8 120.2 265.9 120.8 266.0 121.4 266.1 122.2 266.3 123.0 266.7 123.4 267.1 123.8 267.6 124.1 268.0 124.4 268.4 124.7 268.8 125.0 269.2 125.2 269.6 125.4 270.4 125.5 271.2 125.5 272.0 125.6 272.8 125.6 273.6 125.6 274.4 125.6 275.2 125.4 276.0 125.3 276.8 125.0 277.6 124.8 278.4 124.6 279.1 124.4 280.0 123.9 280.8 123.4 281.1 122.6 281.4 121.8 281.5 121.0 281.6Z" fill="none" stroke="#000" stroke-width="0.95"/><path d="M75.8 271.3 75.0 271.2 74.6 271.0 74.2 270.4 74.1 269.6 74.1 268.8 74.2 268.0 74.2 267.2 74.4 266.4 74.6 265.9 75.0 265.3 75.4 265.0 75.9 264.8 76.6 264.9 77.0 265.2 77.3 265.6 77.6 266.0 77.8 266.4 78.1 267.2 78.2 268.0 78.0 268.8 77.7 269.2 77.4 269.6 77.1 270.0 76.8 270.4 76.6 270.8 76.2 271.1Z M86.2 267.3 85.4 267.2 85.0 266.9 84.7 266.4 84.6 265.6 85.0 265.0 85.8 264.9 86.2 265.2 86.5 265.6 86.8 266.4 86.6 267.0 86.2 267.3Z M45.8 270.4 45.0 270.5 44.3 270.4 43.8 270.0 43.8 269.3 43.9 268.8 44.2 268.1 44.6 267.6 45.4 267.5 46.2 268.0 46.4 268.4 46.7 269.2 46.6 270.0 46.2 270.3Z M84.2 272.0 83.4 271.8 83.0 271.6 82.2 271.3 81.4 271.4 80.6 271.6 79.9 271.6 79.6 271.2 79.7 270.4 80.0 270.0 80.6 269.8 81.4 269.9 82.2 270.0 83.0 270.3 83.4 270.6 83.8 271.0 84.2 271.6Z M93.4 282.1 92.9 281.6 92.8 280.8 93.4 280.2 93.8 280.4 94.1 280.8 94.0 281.6 93.6 282.0Z M65.8 294.1 65.0 294.1 64.2 293.8 63.8 293.5 63.4 292.8 63.6 292.0 64.2 291.6 65.0 291.8 65.4 292.1 65.8 292.6 66.1 293.2 65.9 294.0Z" fill="#000"/><circle cx="36.7" cy="260.1" r="0.9" fill="none" stroke="#000" stroke-width="0.8"/><circle cx="37.6" cy="263.0" r="1.0" fill="none" stroke="#000" stroke-width="0.8"/><circle cx="36.8" cy="268.7" r="0.8" fill="none" stroke="#000" stroke-width="0.8"/><circle cx="40.9" cy="262.0" r="0.9" fill="none" stroke="#000" stroke-width="0.8"/><circle cx="44.0" cy="285.0" r="1.0" fill="none" stroke="#000" stroke-width="0.8"/><circle cx="51.1" cy="286.0" r="1.0" fill="none" stroke="#000" stroke-width="0.8"/><circle cx="55.7" cy="290.6" r="1.2" fill="none" stroke="#000" stroke-width="0.8"/><circle cx="62.3" cy="296.1" r="1.0" fill="none" stroke="#000" stroke-width="0.8"/><circle cx="67.1" cy="297.8" r="1.2" fill="none" stroke="#000" stroke-width="0.8"/><circle cx="70.2" cy="300.6" r="1.1" fill="none" stroke="#000" stroke-width="0.8"/><circle cx="57.6" cy="254.8" r="0.8" fill="none" stroke="#000" stroke-width="0.8"/><circle cx="49.7" cy="253.0" r="1.1" fill="none" stroke="#000" stroke-width="0.8"/><circle cx="151.6" cy="259.5" r="0.8" fill="none" stroke="#000" stroke-width="0.8"/><circle cx="149.3" cy="266.7" r="0.7" fill="none" stroke="#000" stroke-width="0.8"/><circle cx="145.7" cy="278.5" r="0.9" fill="none" stroke="#000" stroke-width="0.8"/><circle cx="139.9" cy="289.4" r="1.0" fill="none" stroke="#000" stroke-width="0.8"/><circle cx="132.7" cy="299.8" r="0.9" fill="none" stroke="#000" stroke-width="0.8"/><circle cx="124.7" cy="301.5" r="1.0" fill="none" stroke="#000" stroke-width="0.8"/><circle cx="116.1" cy="304.6" r="1.0" fill="none" stroke="#000" stroke-width="0.8"/><circle cx="113.1" cy="307.5" r="1.0" fill="none" stroke="#000" stroke-width="0.8"/><circle cx="86.6" cy="314.1" r="0.9" fill="none" stroke="#000" stroke-width="0.8"/><circle cx="72.0" cy="344.6" r="0.9" fill="none" stroke="#000" stroke-width="0.8"/><circle cx="66.5" cy="354.7" r="0.9" fill="none" stroke="#000" stroke-width="0.8"/><circle cx="75.4" cy="357.0" r="1.2" fill="none" stroke="#000" stroke-width="0.8"/><circle cx="52.5" cy="342.1" r="0.9" fill="none" stroke="#000" stroke-width="0.8"/><circle cx="49.7" cy="332.8" r="1.0" fill="none" stroke="#000" stroke-width="0.8"/><circle cx="51.7" cy="315.4" r="1.1" fill="none" stroke="#000" stroke-width="0.8"/><circle cx="89.1" cy="348.3" r="1.0" fill="none" stroke="#000" stroke-width="0.8"/><circle cx="100.5" cy="307.6" r="1.0" fill="none" stroke="#000" stroke-width="0.8"/><circle cx="104.8" cy="328.3" r="0.9" fill="none" stroke="#000" stroke-width="0.8"/><circle cx="60.3" cy="296.2" r="0.8" fill="none" stroke="#000" stroke-width="0.8"/>
<polygon points="27.6,235.5 29.8,237.5 30.9,248.0 31.2,260.0 30.7,274.0 29.9,290.0 29.3,305.0 29.0,330.0 28.9,370.0 27.6,370.0 27.5,235.5" fill="#000" stroke="#000" stroke-width="0" stroke-linejoin="round"/>
<text x="35.2" y="249.6" style="font-family:'Liberation Serif','Times New Roman',serif;font-size:12.9px;font-weight:normal">44</text>
<text x="145.0" y="250.5" style="font-family:'Liberation Serif','Times New Roman',serif;font-size:12.9px;font-weight:normal">48</text>
<text x="36.4" y="369.3" style="font-family:'Liberation Serif','Times New Roman',serif;font-size:12.9px;font-weight:normal">7</text>
<text x="153.3" y="369.2" style="font-family:'Liberation Serif','Times New Roman',serif;font-size:12.9px;font-weight:normal">1</text>
<text x="25.7" y="379.0" style="font-family:'Liberation Sans',Arial,sans-serif;font-size:7.0px;stroke-width:0.15px">10<tspan dy="-2.4" style="font-size:3.9px">0</tspan></text>
<text x="59.3" y="379.0" style="font-family:'Liberation Sans',Arial,sans-serif;font-size:7.0px;stroke-width:0.15px">10<tspan dy="-2.4" style="font-size:3.9px">1</tspan></text>
<text x="92.8" y="379.0" style="font-family:'Liberation Sans',Arial,sans-serif;font-size:7.0px;stroke-width:0.15px">10<tspan dy="-2.4" style="font-size:3.9px">2</tspan></text>
<text x="126.4" y="379.0" style="font-family:'Liberation Sans',Arial,sans-serif;font-size:7.0px;stroke-width:0.15px">10<tspan dy="-2.4" style="font-size:3.9px">3</tspan></text>
<text x="160.0" y="379.0" style="font-family:'Liberation Sans',Arial,sans-serif;font-size:7.0px;stroke-width:0.15px">10<tspan dy="-2.4" style="font-size:3.9px">4</tspan></text>
<text transform="translate(25.9,373.5) rotate(-90)" style="font-family:'Liberation Sans',Arial,sans-serif;font-size:6.8px;stroke-width:0.15px">10<tspan dy="-2.4" style="font-size:3.8px">0</tspan></text>
<text transform="translate(25.9,339.5) rotate(-90)" style="font-family:'Liberation Sans',Arial,sans-serif;font-size:6.8px;stroke-width:0.15px">10<tspan dy="-2.4" style="font-size:3.8px">1</tspan></text>
<text transform="translate(25.9,305.5) rotate(-90)" style="font-family:'Liberation Sans',Arial,sans-serif;font-size:6.8px;stroke-width:0.15px">10<tspan dy="-2.4" style="font-size:3.8px">2</tspan></text>
<text transform="translate(25.9,271.5) rotate(-90)" style="font-family:'Liberation Sans',Arial,sans-serif;font-size:6.8px;stroke-width:0.15px">10<tspan dy="-2.4" style="font-size:3.8px">3</tspan></text>
<text transform="translate(25.9,237.5) rotate(-90)" style="font-family:'Liberation Sans',Arial,sans-serif;font-size:6.8px;stroke-width:0.15px">10<tspan dy="-2.4" style="font-size:3.8px">4</tspan></text>
<text transform="translate(12.6,346.0) rotate(-90)" style="font-family:'Liberation Serif','Times New Roman',serif;font-size:17.0px;font-weight:normal">CD161 (CyC)</text>
<text x="60.8" y="397.0" style="font-family:'Liberation Serif','Times New Roman',serif;font-size:17.0px;font-weight:normal">CD56 (PE)</text>
<line x1="209.6" y1="242.7" x2="209.6" y2="366.8" stroke="#333" stroke-width="1.1"/>
<line x1="209.6" y1="366.8" x2="329.3" y2="366.8" stroke="#000" stroke-width="1.6"/>
<line x1="209.6" y1="304.75" x2="208.4" y2="304.75" stroke="#333" stroke-width="0.8"/>
<text x="206.3" y="374.6" style="font-family:'Liberation Sans',Arial,sans-serif;font-size:6.6px">10<tspan dy="-2.4" style="font-size:3.8px">0</tspan></text>
<text x="236.2" y="374.6" style="font-family:'Liberation Sans',Arial,sans-serif;font-size:6.6px">10<tspan dy="-2.4" style="font-size:3.8px">1</tspan></text>
<text x="266.1" y="374.6" style="font-family:'Liberation Sans',Arial,sans-serif;font-size:6.6px">10<tspan dy="-2.4" style="font-size:3.8px">2</tspan></text>
<text x="296.1" y="374.6" style="font-family:'Liberation Sans',Arial,sans-serif;font-size:6.6px">10<tspan dy="-2.4" style="font-size:3.8px">3</tspan></text>
<text x="326.0" y="374.6" style="font-family:'Liberation Sans',Arial,sans-serif;font-size:6.6px">10<tspan dy="-2.4" style="font-size:3.8px">4</tspan></text>
<text transform="translate(205.4,246.9) rotate(-90)" style="font-family:'Liberation Sans',Arial,sans-serif;font-size:6.6px">60</text>
<text transform="translate(205.4,368.6) rotate(-90)" style="font-family:'Liberation Sans',Arial,sans-serif;font-size:6.6px">0</text>
<text transform="translate(199.3,316.2) rotate(-90)" style="font-family:'Liberation Sans',Arial,sans-serif;font-size:8.1px;letter-spacing:-0.1px">Events</text>
<text x="231.2" y="396.3" style="font-family:'Liberation Serif','Times New Roman',serif;font-size:17.0px;font-weight:normal">CD56 (CyC)</text>
<line x1="383.3" y1="243.1" x2="383.3" y2="366.8" stroke="#333" stroke-width="1.1"/>
<line x1="383.3" y1="366.8" x2="503.2" y2="366.8" stroke="#000" stroke-width="1.6"/>
<line x1="383.3" y1="304.95" x2="382.1" y2="304.95" stroke="#333" stroke-width="0.8"/>
<text x="380.0" y="374.6" style="font-family:'Liberation Sans',Arial,sans-serif;font-size:6.6px">10<tspan dy="-2.4" style="font-size:3.8px">0</tspan></text>
<text x="410.0" y="374.6" style="font-family:'Liberation Sans',Arial,sans-serif;font-size:6.6px">10<tspan dy="-2.4" style="font-size:3.8px">1</tspan></text>
<text x="439.9" y="374.6" style="font-family:'Liberation Sans',Arial,sans-serif;font-size:6.6px">10<tspan dy="-2.4" style="font-size:3.8px">2</tspan></text>
<text x="469.9" y="374.6" style="font-family:'Liberation Sans',Arial,sans-serif;font-size:6.6px">10<tspan dy="-2.4" style="font-size:3.8px">3</tspan></text>
<text x="499.9" y="374.6" style="font-family:'Liberation Sans',Arial,sans-serif;font-size:6.6px">10<tspan dy="-2.4" style="font-size:3.8px">4</tspan></text>
<text transform="translate(379.1,247.3) rotate(-90)" style="font-family:'Liberation Sans',Arial,sans-serif;font-size:6.6px">90</text>
<text transform="translate(379.1,368.6) rotate(-90)" style="font-family:'Liberation Sans',Arial,sans-serif;font-size:6.6px">0</text>
<text transform="translate(373.0,316.2) rotate(-90)" style="font-family:'Liberation Sans',Arial,sans-serif;font-size:8.1px;letter-spacing:-0.1px">Events</text>
<text x="379.6" y="396.3" style="font-family:'Liberation Serif','Times New Roman',serif;font-size:17.0px;font-weight:normal">CD161/CD56 (CyC)</text>
<line x1="282.4" y1="247.4" x2="328.6" y2="247.4" stroke="#000" stroke-width="1.4"/>
<line x1="282.4" y1="244.9" x2="282.4" y2="249.9" stroke="#000" stroke-width="1"/>
<line x1="328.6" y1="244.9" x2="328.6" y2="249.9" stroke="#000" stroke-width="1"/>
<text x="297.1" y="245.0" style="font-family:'Liberation Serif','Times New Roman',serif;font-size:13.0px;font-weight:normal">49%</text>
<line x1="456.3" y1="256.3" x2="502.4" y2="256.3" stroke="#000" stroke-width="1.4"/>
<line x1="456.3" y1="253.8" x2="456.3" y2="258.8" stroke="#000" stroke-width="1"/>
<line x1="502.4" y1="253.8" x2="502.4" y2="258.8" stroke="#000" stroke-width="1"/>
<text x="470.5" y="252.8" style="font-family:'Liberation Serif','Times New Roman',serif;font-size:13.0px;font-weight:normal">93%</text>
<line x1="383.3" y1="338.0" x2="455" y2="338.0" stroke="#000" stroke-width="1.4"/>
<line x1="454.8" y1="336.3" x2="454.8" y2="340.3" stroke="#000" stroke-width="1.1"/>
<text x="434.8" y="337.6" style="font-family:'Liberation Serif','Times New Roman',serif;font-size:13.3px;font-weight:normal">7%</text>
<polyline points="209.9,365.8 212.0,364.3 213.2,363.8 215.1,363.7 216.3,362.0 217.3,361.4 218.2,360.4 219.5,361.2 221.5,360.3 222.7,358.4 223.3,358.2 225.0,357.6 226.3,355.3 227.1,355.3 227.8,353.0 228.5,351.5 229.8,351.5 230.2,349.0 231.2,348.2 231.8,347.5 232.0,345.4 232.8,344.1 232.9,342.6 234.3,340.9 234.1,340.6 234.5,339.0 234.9,337.2 235.7,335.4 235.2,333.9 235.7,332.6 235.5,331.9 236.2,330.2 237.5,328.1 237.3,326.9 238.7,326.3 238.8,324.4 239.2,323.2 239.4,322.2 240.7,321.2 241.0,319.7 240.6,317.1 242.0,316.5 241.8,315.4 242.5,313.8 242.5,311.2 243.1,309.7 243.5,309.8 243.7,306.7 243.6,305.7 244.6,304.6 244.3,302.8 245.3,302.0 244.7,300.0 244.8,298.8 245.7,297.4 245.4,296.6 246.2,295.5 246.5,293.9 247.1,292.5 247.5,291.2 247.9,292.4 248.3,293.7 248.9,295.2 249.6,296.3 249.5,297.2 250.2,298.5 250.7,301.2 251.1,301.3 252.5,303.8 252.8,304.9 252.9,306.8 253.1,308.4 253.0,308.6 252.9,311.4 253.9,312.9 253.6,313.9 254.3,315.3 254.6,316.5 254.7,318.1 254.5,320.0 255.6,319.8 255.8,322.8 255.8,322.6 256.3,324.1 256.6,326.5 255.9,327.0 256.9,329.1 257.4,331.2 257.1,330.9 258.3,332.3 258.6,333.9 258.8,336.5 259.4,337.4 259.9,338.1 260.1,339.6 260.8,341.7 260.9,342.5 261.0,343.0 262.2,345.1 263.2,346.6 263.0,347.5 264.3,349.0 264.4,350.9 266.3,350.9 266.9,352.8 268.8,353.7 269.7,355.0 271.9,355.0 272.4,356.7 273.8,358.0 273.9,360.1 276.3,357.2 277.3,356.3 277.7,356.3 278.7,355.0 280.0,354.4 281.7,352.4 284.2,352.4 285.2,352.5 286.3,350.0 286.8,350.0 288.0,349.4 288.9,347.0 289.5,347.2 290.5,345.9 292.6,345.9 293.6,346.1 294.5,346.9 295.2,345.7 295.6,344.5 296.7,342.8 296.8,340.8 297.7,340.0 298.2,338.3 297.7,337.1 298.7,335.8 298.9,334.9 298.7,333.5 298.9,331.8 298.9,332.0 298.8,330.2 299.1,328.2 298.9,326.4 300.1,326.6 300.2,325.2 300.2,323.2 300.4,322.0 300.6,320.9 300.9,319.6 301.0,318.2 301.4,316.9 301.6,315.6 301.8,314.3 302.0,312.9 302.4,311.6 302.4,310.0 302.6,308.9 302.9,307.6 303.0,306.1 303.2,304.7 303.3,303.2 303.4,302.1 303.7,300.8 303.8,299.6 304.0,297.8 304.0,296.9 304.4,295.5 304.4,293.9 304.4,292.5 304.5,291.5 304.8,290.1 304.7,288.5 304.9,287.5 305.0,286.1 305.2,284.6 305.4,283.2 305.4,281.8 305.4,280.4 305.6,279.1 305.6,278.1 305.8,276.8 306.0,275.3 306.1,274.1 306.4,272.7 306.4,271.3 306.6,270.0 306.7,268.5 307.0,267.3 306.9,265.8 307.3,264.5 307.3,263.4 307.6,261.9 307.8,260.1 308.1,258.4 309.0,257.4 309.9,256.0 311.0,255.3 311.1,256.6 311.4,258.0 311.6,259.4 312.0,260.8 312.3,262.2 312.4,263.6 312.7,264.8 312.7,266.1 313.1,267.2 313.2,268.8 313.4,269.8 313.6,271.2 313.8,272.7 313.8,274.1 314.0,275.1 314.2,276.7 314.3,278.0 314.3,279.2 314.4,280.4 314.6,281.7 314.4,283.1 314.6,284.4 314.7,285.5 314.7,286.8 315.0,288.4 315.0,289.4 315.2,291.0 315.2,291.9 315.3,293.5 315.4,294.6 315.5,295.9 315.5,297.2 315.6,298.9 315.8,300.1 315.8,301.4 316.1,302.6 316.2,304.5 316.5,305.9 316.5,307.2 316.8,308.7 316.9,309.9 316.9,311.5 317.3,312.5 317.4,313.9 317.5,315.4 317.5,316.6 317.6,317.8 317.7,319.0 317.9,320.6 318.0,321.8 318.1,323.2 318.3,324.1 318.4,325.8 318.7,327.1 318.7,328.0 318.8,329.5 319.1,330.6 319.1,332.2 319.2,333.6 319.4,334.7 319.7,336.2 319.7,337.4 319.9,338.7 320.0,340.0 320.2,341.0 320.3,342.4 320.6,344.0 320.8,345.0 321.1,346.2 321.0,347.8 321.4,349.0 321.5,350.0 321.7,351.6 321.8,353.0 321.8,354.0 321.9,355.4 322.2,356.7 323.1,358.2 324.2,359.7 324.9,360.8 325.8,362.1 326.9,363.4 327.8,364.7 328.7,366.0" fill="none" stroke="#111" stroke-width="1.15" stroke-linejoin="round"/>
<polyline points="212.0,365.5 214.5,362.8 223.4,356.0 229.0,347.1 232.4,335.9 234.6,322.5 238.0,302.0 239.6,290.0 241.0,282.0 242.0,272.0 242.8,263.0 243.3,256.0 244.1,253.3 245.0,256.0 246.0,259.0 247.5,257.0 248.9,259.0 249.5,265.0 250.5,275.0 252.0,290.0 253.4,302.0 255.8,316.0 257.5,327.0 260.5,340.0 264.0,348.0 268.0,354.0 272.0,357.5 276.0,361.0 281.0,363.5 286.0,365.8" fill="none" stroke="#111" stroke-width="1.25" stroke-linejoin="round" stroke-dasharray="2,2.6"/>
<polyline points="384.0,366.0 387.7,365.4 390.5,362.7 394.6,361.5 399.2,355.7 403.0,346.0 406.1,336.6 408.5,325.0 410.5,314.0 412.1,309.7 413.1,297.8 414.6,286.6 416.5,276.0 417.6,269.4 418.4,260.4 420.5,266.0 422.8,262.7 424.0,272.4 425.8,288.8 427.0,300.0 428.0,309.7 430.5,326.0 432.5,338.0 434.0,345.3 438.0,350.0 442.7,355.7 447.0,360.0 451.4,364.5 454.0,366.5" fill="none" stroke="#111" stroke-width="1.25" stroke-linejoin="round" stroke-dasharray="2,2.6"/>
<polyline points="384.0,366.2 385.4,366.1 386.7,366.2 387.9,366.2 389.3,366.2 390.6,366.1 392.0,366.2 393.3,366.0 394.7,366.2 396.0,366.0 397.4,365.9 398.7,366.0 399.7,365.5 401.4,366.3 402.8,365.9 404.6,365.6 406.0,365.1 407.2,365.2 409.1,365.4 410.4,364.6 412.0,363.3 413.7,363.6 414.8,363.3 416.5,363.6 418.2,362.7 419.8,362.4 420.9,363.1 422.2,362.7 423.7,362.8 425.7,362.9 427.3,362.8 428.6,363.3 430.1,363.3 431.6,364.2 432.7,364.2 433.7,364.5 435.5,365.2 437.2,364.5 438.4,365.1 439.7,365.0 441.1,364.2 442.3,364.7 443.7,363.7 445.3,364.9 446.4,364.9 448.0,366.0 449.6,365.9 450.6,365.4 452.0,366.0 453.8,365.1 454.0,363.9 454.8,363.0 456.1,361.4 456.9,360.4 458.0,359.2 459.3,358.3 460.4,357.3 461.6,356.2 462.8,355.5 463.3,354.1 463.8,352.7 464.4,351.4 464.9,349.9 465.7,348.4 466.5,346.8 467.2,345.3 467.6,344.0 468.0,342.8 468.5,341.2 468.8,340.0 469.2,338.5 469.7,337.4 470.0,335.9 470.3,334.5 470.7,333.2 471.1,331.9 471.3,330.8 471.7,329.2 472.1,327.9 472.4,326.9 472.8,325.5 472.9,324.0 473.1,322.8 473.3,321.5 473.5,320.0 473.8,318.9 474.0,317.5 474.2,316.1 474.4,314.7 474.5,313.2 474.5,311.9 474.7,310.6 474.9,309.1 475.0,307.9 475.1,306.3 475.1,304.9 475.2,303.5 475.4,302.3 475.5,300.8 475.6,299.5 475.6,298.1 475.9,296.8 475.9,295.3 476.0,294.1 476.2,292.8 476.5,291.4 476.6,290.2 476.9,288.7 477.0,287.4 477.3,286.3 477.3,285.0 477.7,283.6 477.9,282.2 478.1,280.8 478.5,279.6 478.6,278.4 478.9,277.0 479.2,275.5 479.3,274.2 479.6,272.9 479.8,271.6 480.1,270.4 480.4,269.0 480.8,267.8 481.0,266.5 481.3,265.1 481.6,263.7 481.9,262.4 482.8,261.3 483.8,260.0 484.9,258.7 485.0,260.0 485.3,261.4 485.4,262.7 485.6,263.9 485.7,265.3 485.8,266.8 486.0,268.0 486.1,269.4 486.1,270.9 486.2,272.1 486.3,273.9 486.5,275.2 486.8,275.8 486.6,277.9 487.0,278.4 486.7,280.3 486.9,281.5 487.1,283.5 487.8,285.3 487.6,286.6 488.8,287.4 489.9,289.9 489.5,291.2 489.7,292.0 490.3,293.8 489.8,294.7 490.2,295.9 490.0,297.3 490.5,298.3 490.5,300.1 490.2,301.4 490.8,303.0 490.5,304.9 491.1,306.2 490.7,306.6 490.8,308.5 491.0,309.1 491.2,311.3 491.6,311.8 491.2,313.9 491.7,314.9 491.4,315.5 491.9,317.2 491.5,319.1 492.0,320.3 491.7,321.7 492.0,322.7 492.1,323.8 492.2,325.3 492.3,326.4 492.4,327.7 492.4,329.0 492.5,330.3 492.6,331.6 492.7,332.9 493.0,334.2 493.2,335.4 493.4,336.7 493.8,338.2 493.9,339.5 494.3,340.6 494.6,342.0 494.8,343.4 495.0,344.6 495.3,346.1 495.5,347.3 495.8,348.5 496.2,349.8 496.6,351.1 497.0,352.7 497.4,353.9 497.8,355.4 498.4,356.8 498.7,358.0 499.1,359.4 499.5,360.8 500.3,362.0 501.2,363.0 501.9,364.2 502.7,365.1 503.5,366.2" fill="none" stroke="#111" stroke-width="1.15" stroke-linejoin="round"/>
</svg>
</body></html>
